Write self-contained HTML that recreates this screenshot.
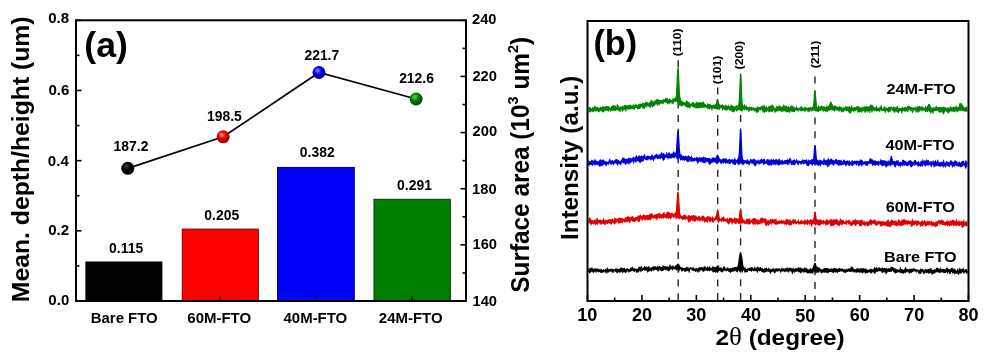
<!DOCTYPE html>
<html><head><meta charset="utf-8"><style>
html,body{margin:0;padding:0;background:#fff;}
body{width:992px;height:358px;overflow:hidden;font-family:"Liberation Sans",sans-serif;}
svg{display:block;filter:blur(0.35px);}
</style></head><body>
<svg width="992" height="358" viewBox="0 0 992 358"><defs><radialGradient id="g0" cx="0.4" cy="0.35" r="0.65"><stop offset="0" stop-color="#444"/><stop offset="0.45" stop-color="#000"/><stop offset="1" stop-color="#000"/></radialGradient><radialGradient id="g1" cx="0.4" cy="0.35" r="0.65"><stop offset="0" stop-color="#ff9090"/><stop offset="0.45" stop-color="#e00000"/><stop offset="1" stop-color="#900"/></radialGradient><radialGradient id="g2" cx="0.4" cy="0.35" r="0.65"><stop offset="0" stop-color="#9090ff"/><stop offset="0.45" stop-color="#0000e0"/><stop offset="1" stop-color="#009"/></radialGradient><radialGradient id="g3" cx="0.4" cy="0.35" r="0.65"><stop offset="0" stop-color="#70d070"/><stop offset="0.45" stop-color="#008000"/><stop offset="1" stop-color="#040"/></radialGradient></defs><rect width="992" height="358" fill="#fff"/><rect x="85.9" y="262.0" width="76.0" height="39.0" fill="#000000" stroke="#000000" stroke-width="1"/>
<rect x="182.3" y="229.1" width="76.0" height="71.9" fill="#ff0000" stroke="#7a0000" stroke-width="1"/>
<rect x="277.5" y="167.4" width="76.8" height="133.6" fill="#0000ff" stroke="#00007a" stroke-width="1"/>
<rect x="374.0" y="199.3" width="76.3" height="101.7" fill="#007f00" stroke="#003f00" stroke-width="1"/>
<line x1="124" y1="301" x2="124" y2="296" stroke="#000" stroke-width="1.6"/>
<line x1="220" y1="301" x2="220" y2="296" stroke="#000" stroke-width="1.6"/>
<line x1="316" y1="301" x2="316" y2="296" stroke="#000" stroke-width="1.6"/>
<line x1="412" y1="301" x2="412" y2="296" stroke="#000" stroke-width="1.6"/>
<line x1="76" y1="301.00" x2="81.5" y2="301.00" stroke="#000" stroke-width="1.6"/>
<line x1="76" y1="265.91" x2="79.5" y2="265.91" stroke="#000" stroke-width="1.6"/>
<line x1="76" y1="230.82" x2="81.5" y2="230.82" stroke="#000" stroke-width="1.6"/>
<line x1="76" y1="195.74" x2="79.5" y2="195.74" stroke="#000" stroke-width="1.6"/>
<line x1="76" y1="160.65" x2="81.5" y2="160.65" stroke="#000" stroke-width="1.6"/>
<line x1="76" y1="125.56" x2="79.5" y2="125.56" stroke="#000" stroke-width="1.6"/>
<line x1="76" y1="90.47" x2="81.5" y2="90.47" stroke="#000" stroke-width="1.6"/>
<line x1="76" y1="55.39" x2="79.5" y2="55.39" stroke="#000" stroke-width="1.6"/>
<line x1="76" y1="20.30" x2="81.5" y2="20.30" stroke="#000" stroke-width="1.6"/>
<line x1="466" y1="301.00" x2="460.5" y2="301.00" stroke="#000" stroke-width="1.6"/>
<line x1="466" y1="272.93" x2="462.5" y2="272.93" stroke="#000" stroke-width="1.6"/>
<line x1="466" y1="244.86" x2="460.5" y2="244.86" stroke="#000" stroke-width="1.6"/>
<line x1="466" y1="216.79" x2="462.5" y2="216.79" stroke="#000" stroke-width="1.6"/>
<line x1="466" y1="188.72" x2="460.5" y2="188.72" stroke="#000" stroke-width="1.6"/>
<line x1="466" y1="160.65" x2="462.5" y2="160.65" stroke="#000" stroke-width="1.6"/>
<line x1="466" y1="132.58" x2="460.5" y2="132.58" stroke="#000" stroke-width="1.6"/>
<line x1="466" y1="104.51" x2="462.5" y2="104.51" stroke="#000" stroke-width="1.6"/>
<line x1="466" y1="76.44" x2="460.5" y2="76.44" stroke="#000" stroke-width="1.6"/>
<line x1="466" y1="48.37" x2="462.5" y2="48.37" stroke="#000" stroke-width="1.6"/>
<line x1="466" y1="20.30" x2="460.5" y2="20.30" stroke="#000" stroke-width="1.6"/>
<rect x="76" y="20.3" width="390" height="280.7" fill="none" stroke="#000" stroke-width="2"/>
<polyline points="127.8,168.3 223.2,136.8 319.0,72.5 416.1,99.0" fill="none" stroke="#000" stroke-width="1.75"/>
<circle cx="127.8" cy="168.3" r="6.5" fill="url(#g0)"/>
<circle cx="223.2" cy="136.8" r="6.5" fill="url(#g1)"/>
<circle cx="319.0" cy="72.5" r="6.5" fill="url(#g2)"/>
<circle cx="416.1" cy="99.0" r="6.5" fill="url(#g3)"/>
<line x1="678.2" y1="60.3" x2="678.2" y2="301" stroke="#262626" stroke-width="1.4" stroke-dasharray="7 6.7"/>
<line x1="717.7" y1="87.6" x2="717.7" y2="301" stroke="#262626" stroke-width="1.4" stroke-dasharray="7 6.7"/>
<line x1="740.6" y1="73.8" x2="740.6" y2="301" stroke="#262626" stroke-width="1.4" stroke-dasharray="7 6.7"/>
<line x1="815.0" y1="76.5" x2="815.0" y2="301" stroke="#262626" stroke-width="1.4" stroke-dasharray="7 6.7"/>
<polygon points="588.5,107.3 588.9,107.3 589.3,106.8 589.7,106.7 590.1,107.1 590.5,107.8 590.9,108.5 591.3,108.3 591.7,108.2 592.1,107.5 592.5,106.4 592.9,106.9 593.3,106.9 593.7,108.0 594.1,106.8 594.5,105.7 594.9,105.3 595.3,106.0 595.7,106.6 596.1,107.2 596.5,107.5 596.9,106.8 597.3,107.0 597.7,106.8 598.1,106.8 598.5,107.7 598.9,107.7 599.3,108.9 599.7,107.8 600.1,107.1 600.5,106.3 600.9,106.4 601.3,107.2 601.7,107.5 602.1,107.0 602.5,106.1 602.9,105.7 603.3,106.5 603.7,106.7 604.1,106.8 604.5,106.5 604.9,106.2 605.3,106.1 605.7,106.5 606.1,106.3 606.5,106.0 606.9,105.4 607.3,106.0 607.7,106.2 608.1,106.2 608.5,105.9 608.9,106.2 609.3,106.5 609.7,107.7 610.1,108.0 610.5,107.8 610.9,107.4 611.3,106.0 611.7,106.1 612.1,105.6 612.5,105.8 612.9,104.9 613.3,104.9 613.7,104.9 614.1,106.0 614.5,105.5 614.9,104.8 615.3,104.6 615.7,106.2 616.1,106.9 616.5,106.0 616.9,103.9 617.3,103.8 617.7,104.6 618.1,105.4 618.5,105.5 618.9,106.6 619.3,107.3 619.7,107.0 620.1,106.5 620.5,107.0 620.9,106.9 621.3,106.9 621.7,106.4 622.1,105.2 622.5,105.7 622.9,106.1 623.3,107.1 623.7,105.6 624.1,104.9 624.5,105.0 624.9,104.8 625.3,105.0 625.7,104.9 626.1,105.1 626.5,105.7 626.9,105.5 627.3,105.8 627.7,105.1 628.1,105.1 628.5,105.1 628.9,105.5 629.3,104.8 629.7,104.5 630.1,104.6 630.5,105.1 630.9,104.8 631.3,104.9 631.7,105.7 632.1,106.0 632.5,105.0 632.9,104.0 633.3,104.1 633.7,104.7 634.1,105.2 634.5,104.6 634.9,105.2 635.3,103.7 635.7,103.8 636.1,103.5 636.5,104.5 636.9,105.4 637.3,105.3 637.7,104.8 638.1,104.4 638.5,104.3 638.9,103.8 639.3,103.8 639.7,103.7 640.1,103.7 640.5,103.7 640.9,103.6 641.3,104.5 641.7,104.3 642.1,103.8 642.5,102.6 642.9,102.2 643.3,103.0 643.7,102.8 644.1,103.2 644.5,103.7 644.9,102.6 645.3,101.7 645.7,100.8 646.1,101.9 646.5,102.6 646.9,102.0 647.3,102.3 647.7,102.1 648.1,102.1 648.5,103.0 648.9,103.1 649.3,103.2 649.7,101.8 650.1,101.2 650.5,101.5 650.9,99.8 651.3,99.6 651.7,100.1 652.1,100.7 652.5,101.1 652.9,100.9 653.3,101.8 653.7,102.7 654.1,101.2 654.5,100.6 654.9,99.4 655.3,100.1 655.7,100.9 656.1,99.5 656.5,99.6 656.9,98.2 657.3,99.7 657.7,98.4 658.1,99.4 658.5,99.3 658.9,100.1 659.3,100.1 659.7,100.0 660.1,100.1 660.5,100.1 660.9,100.2 661.3,100.5 661.7,100.3 662.1,100.7 662.5,99.6 662.9,100.2 663.3,98.4 663.7,99.0 664.1,99.1 664.5,99.2 664.9,99.5 665.3,98.4 665.7,97.4 666.1,97.5 666.5,97.9 666.9,98.1 667.3,97.3 667.7,98.4 668.1,99.0 668.5,100.3 668.9,99.4 669.3,99.0 669.7,97.8 670.1,98.7 670.5,99.5 670.9,99.8 671.3,100.2 671.7,100.0 672.1,100.2 672.5,98.5 672.9,98.4 673.3,98.4 673.7,99.1 674.1,98.4 674.5,98.6 674.9,99.3 675.3,98.8 675.7,98.3 676.1,96.7 676.5,93.6 676.9,87.2 677.3,77.7 677.7,69.7 678.1,67.7 678.5,73.5 678.9,82.9 679.3,90.9 679.7,96.0 680.1,98.3 680.5,97.6 680.9,99.7 681.3,100.1 681.7,100.8 682.1,100.7 682.5,101.3 682.9,101.5 683.3,102.6 683.7,101.9 684.1,102.4 684.5,102.8 684.9,103.1 685.3,102.6 685.7,102.6 686.1,100.9 686.5,101.0 686.9,99.6 687.3,100.9 687.7,101.0 688.1,102.2 688.5,101.8 688.9,102.4 689.3,102.1 689.7,102.6 690.1,103.7 690.5,103.9 690.9,104.1 691.3,103.2 691.7,103.3 692.1,102.4 692.5,101.7 692.9,102.3 693.3,102.1 693.7,102.0 694.1,102.3 694.5,103.5 694.9,103.8 695.3,103.6 695.7,103.0 696.1,102.8 696.5,101.7 696.9,101.3 697.3,102.1 697.7,102.8 698.1,102.8 698.5,102.3 698.9,101.7 699.3,102.1 699.7,102.1 700.1,103.1 700.5,101.9 700.9,102.6 701.3,101.9 701.7,102.0 702.1,102.2 702.5,102.5 702.9,102.1 703.3,101.3 703.7,101.6 704.1,102.6 704.5,103.4 704.9,103.8 705.3,104.2 705.7,104.3 706.1,104.8 706.5,104.9 706.9,104.9 707.3,103.2 707.7,103.1 708.1,103.4 708.5,104.4 708.9,103.7 709.3,104.0 709.7,103.4 710.1,103.9 710.5,104.3 710.9,104.9 711.3,105.1 711.7,105.0 712.1,105.6 712.5,105.6 712.9,105.1 713.3,104.7 713.7,104.4 714.1,104.3 714.5,105.1 714.9,104.7 715.3,104.5 715.7,103.5 716.1,103.6 716.5,102.8 716.9,100.8 717.3,99.5 717.7,99.3 718.1,100.4 718.5,102.6 718.9,104.3 719.3,104.5 719.7,104.0 720.1,103.6 720.5,105.6 720.9,105.6 721.3,105.2 721.7,104.7 722.1,103.6 722.5,104.4 722.9,104.4 723.3,105.5 723.7,105.5 724.1,106.2 724.5,105.8 724.9,104.9 725.3,104.2 725.7,105.2 726.1,105.2 726.5,104.8 726.9,105.7 727.3,106.4 727.7,106.1 728.1,104.5 728.5,104.7 728.9,105.8 729.3,107.0 729.7,107.2 730.1,106.4 730.5,105.8 730.9,104.4 731.3,104.6 731.7,104.5 732.1,105.7 732.5,105.5 732.9,105.5 733.3,105.5 733.7,106.2 734.1,106.6 734.5,106.5 734.9,106.2 735.3,106.3 735.7,106.1 736.1,105.9 736.5,105.1 736.9,105.0 737.3,105.2 737.7,105.7 738.1,105.6 738.5,105.8 738.9,104.1 739.3,100.2 739.7,92.1 740.1,82.0 740.5,75.3 740.9,77.9 741.3,87.0 741.7,96.5 742.1,102.5 742.5,104.6 742.9,104.6 743.3,106.0 743.7,105.4 744.1,104.5 744.5,103.8 744.9,104.9 745.3,106.0 745.7,105.9 746.1,104.6 746.5,105.3 746.9,106.2 747.3,106.7 747.7,107.1 748.1,107.4 748.5,107.2 748.9,106.9 749.3,107.2 749.7,108.1 750.1,108.0 750.5,107.0 750.9,106.6 751.3,106.6 751.7,106.9 752.1,107.5 752.5,107.2 752.9,107.9 753.3,107.1 753.7,108.0 754.1,108.2 754.5,108.4 754.9,107.1 755.3,107.9 755.7,108.0 756.1,108.3 756.5,107.6 756.9,107.5 757.3,106.4 757.7,106.1 758.1,106.4 758.5,107.4 758.9,107.7 759.3,107.3 759.7,107.2 760.1,107.1 760.5,107.1 760.9,106.5 761.3,106.1 761.7,106.3 762.1,105.8 762.5,105.7 762.9,105.5 763.3,105.5 763.7,105.7 764.1,104.4 764.5,104.9 764.9,105.5 765.3,106.9 765.7,107.1 766.1,106.5 766.5,105.6 766.9,106.8 767.3,107.2 767.7,108.4 768.1,107.0 768.5,106.6 768.9,105.1 769.3,105.8 769.7,106.2 770.1,106.0 770.5,105.7 770.9,105.6 771.3,105.6 771.7,104.9 772.1,104.0 772.5,104.6 772.9,105.0 773.3,105.6 773.7,105.9 774.1,107.0 774.5,107.2 774.9,108.2 775.3,108.6 775.7,107.6 776.1,106.8 776.5,105.8 776.9,105.8 777.3,106.0 777.7,106.2 778.1,106.9 778.5,105.9 778.9,105.0 779.3,104.8 779.7,105.7 780.1,106.1 780.5,106.4 780.9,106.0 781.3,106.7 781.7,106.7 782.1,106.9 782.5,106.0 782.9,106.0 783.3,104.6 783.7,104.4 784.1,104.6 784.5,105.4 784.9,106.1 785.3,106.2 785.7,106.1 786.1,105.7 786.5,105.4 786.9,106.3 787.3,106.8 787.7,107.1 788.1,106.4 788.5,106.0 788.9,106.0 789.3,107.1 789.7,107.4 790.1,106.8 790.5,105.7 790.9,105.4 791.3,105.5 791.7,105.6 792.1,105.5 792.5,105.6 792.9,106.3 793.3,106.5 793.7,106.5 794.1,107.6 794.5,107.2 794.9,108.1 795.3,107.2 795.7,107.9 796.1,106.4 796.5,105.9 796.9,105.6 797.3,106.9 797.7,108.4 798.1,108.3 798.5,108.5 798.9,107.7 799.3,108.1 799.7,107.5 800.1,107.0 800.5,107.0 800.9,106.2 801.3,106.6 801.7,106.0 802.1,106.8 802.5,107.3 802.9,108.0 803.3,108.0 803.7,107.4 804.1,107.6 804.5,107.0 804.9,106.6 805.3,106.8 805.7,107.6 806.1,106.9 806.5,107.5 806.9,108.2 807.3,108.6 807.7,107.9 808.1,107.0 808.5,107.8 808.9,107.3 809.3,107.9 809.7,106.9 810.1,106.8 810.5,106.7 810.9,107.5 811.3,107.7 811.7,107.2 812.1,106.8 812.5,106.5 812.9,106.8 813.3,106.0 813.7,103.7 814.1,99.3 814.5,93.6 814.9,90.3 815.3,91.8 815.7,97.1 816.1,102.3 816.5,105.7 816.9,107.1 817.3,107.8 817.7,107.7 818.1,106.1 818.5,104.8 818.9,106.1 819.3,106.4 819.7,107.0 820.1,106.2 820.5,106.6 820.9,105.9 821.3,105.8 821.7,105.2 822.1,105.7 822.5,106.1 822.9,106.9 823.3,106.8 823.7,106.2 824.1,106.1 824.5,105.9 824.9,107.1 825.3,107.5 825.7,107.5 826.1,106.4 826.5,105.8 826.9,105.5 827.3,105.6 827.7,106.2 828.1,106.6 828.5,107.1 828.9,106.5 829.3,105.4 829.7,104.4 830.1,103.3 830.5,102.6 830.9,102.1 831.3,102.3 831.7,103.0 832.1,104.3 832.5,105.3 832.9,106.1 833.3,106.6 833.7,107.1 834.1,105.9 834.5,105.6 834.9,105.1 835.3,105.4 835.7,105.5 836.1,105.9 836.5,106.1 836.9,106.7 837.3,106.7 837.7,107.2 838.1,107.2 838.5,106.9 838.9,105.9 839.3,105.7 839.7,106.2 840.1,106.6 840.5,106.5 840.9,106.8 841.3,106.8 841.7,107.2 842.1,108.0 842.5,107.9 842.9,107.8 843.3,106.8 843.7,107.7 844.1,107.5 844.5,108.0 844.9,106.6 845.3,106.6 845.7,106.2 846.1,105.8 846.5,106.5 846.9,106.9 847.3,106.9 847.7,106.6 848.1,106.3 848.5,107.3 848.9,107.0 849.3,106.3 849.7,106.0 850.1,106.7 850.5,107.4 850.9,106.7 851.3,105.3 851.7,104.9 852.1,105.7 852.5,107.2 852.9,107.8 853.3,107.7 853.7,108.1 854.1,107.7 854.5,107.3 854.9,106.5 855.3,107.3 855.7,107.2 856.1,106.4 856.5,106.1 856.9,106.6 857.3,106.5 857.7,106.1 858.1,105.6 858.5,106.6 858.9,106.7 859.3,107.1 859.7,106.6 860.1,107.3 860.5,108.0 860.9,108.0 861.3,107.6 861.7,106.5 862.1,106.4 862.5,106.4 862.9,107.5 863.3,107.3 863.7,107.0 864.1,106.6 864.5,106.1 864.9,106.5 865.3,106.1 865.7,107.0 866.1,106.7 866.5,105.8 866.9,105.7 867.3,106.1 867.7,106.7 868.1,107.1 868.5,106.8 868.9,106.7 869.3,106.5 869.7,106.0 870.1,105.7 870.5,105.5 870.9,105.4 871.3,105.4 871.7,105.6 872.1,105.6 872.5,106.1 872.9,106.5 873.3,107.0 873.7,107.3 874.1,107.5 874.5,107.9 874.9,106.8 875.3,107.7 875.7,107.1 876.1,105.6 876.5,105.6 876.9,106.5 877.3,107.7 877.7,108.2 878.1,108.0 878.5,107.9 878.9,107.3 879.3,107.2 879.7,107.7 880.1,106.5 880.5,106.7 880.9,104.3 881.3,105.3 881.7,105.3 882.1,107.5 882.5,108.5 882.9,108.8 883.3,107.9 883.7,106.5 884.1,106.1 884.5,106.2 884.9,106.8 885.3,107.2 885.7,107.6 886.1,107.3 886.5,107.8 886.9,108.0 887.3,107.9 887.7,107.7 888.1,107.3 888.5,106.6 888.9,106.8 889.3,107.0 889.7,107.1 890.1,106.8 890.5,106.7 890.9,106.3 891.3,106.6 891.7,106.8 892.1,108.0 892.5,107.4 892.9,107.4 893.3,106.1 893.7,106.6 894.1,106.6 894.5,107.2 894.9,107.0 895.3,106.9 895.7,107.3 896.1,106.9 896.5,107.0 896.9,105.7 897.3,105.7 897.7,106.3 898.1,108.0 898.5,107.9 898.9,107.7 899.3,107.8 899.7,107.7 900.1,108.1 900.5,107.8 900.9,108.1 901.3,108.5 901.7,107.3 902.1,107.2 902.5,106.8 902.9,106.8 903.3,107.4 903.7,108.6 904.1,108.1 904.5,107.3 904.9,106.3 905.3,106.0 905.7,107.0 906.1,107.0 906.5,107.4 906.9,107.1 907.3,106.1 907.7,106.7 908.1,105.7 908.5,105.8 908.9,105.1 909.3,105.7 909.7,106.6 910.1,106.8 910.5,106.7 910.9,106.5 911.3,107.5 911.7,107.8 912.1,107.4 912.5,107.5 912.9,107.7 913.3,106.9 913.7,107.8 914.1,108.6 914.5,108.1 914.9,107.0 915.3,105.9 915.7,107.3 916.1,107.7 916.5,107.3 916.9,106.3 917.3,106.0 917.7,107.0 918.1,107.0 918.5,106.6 918.9,106.1 919.3,105.7 919.7,106.0 920.1,106.0 920.5,107.1 920.9,107.0 921.3,106.6 921.7,106.2 922.1,106.4 922.5,106.5 922.9,106.7 923.3,106.9 923.7,107.7 924.1,108.6 924.5,108.0 924.9,107.1 925.3,105.2 925.7,106.5 926.1,106.4 926.5,107.6 926.9,106.9 927.3,106.6 927.7,106.0 928.1,105.1 928.5,104.6 928.9,104.4 929.3,104.3 929.7,104.7 930.1,105.3 930.5,106.3 930.9,107.2 931.3,107.7 931.7,108.0 932.1,108.0 932.5,108.2 932.9,107.3 933.3,107.7 933.7,106.7 934.1,106.9 934.5,107.4 934.9,107.8 935.3,107.6 935.7,106.1 936.1,105.4 936.5,105.7 936.9,106.5 937.3,107.0 937.7,107.3 938.1,107.0 938.5,107.3 938.9,106.9 939.3,106.7 939.7,106.9 940.1,107.2 940.5,107.5 940.9,106.6 941.3,106.7 941.7,107.2 942.1,107.5 942.5,107.1 942.9,106.8 943.3,106.6 943.7,106.7 944.1,106.7 944.5,106.7 944.9,107.1 945.3,107.1 945.7,108.0 946.1,107.9 946.5,107.9 946.9,106.8 947.3,108.1 947.7,107.6 948.1,108.5 948.5,107.1 948.9,107.7 949.3,108.2 949.7,107.3 950.1,106.6 950.5,105.7 950.9,106.8 951.3,106.6 951.7,107.6 952.1,107.7 952.5,107.2 952.9,106.6 953.3,105.9 953.7,107.2 954.1,106.3 954.5,107.2 954.9,107.0 955.3,107.3 955.7,106.5 956.1,105.0 956.5,105.6 956.9,106.7 957.3,107.1 957.7,106.9 958.1,106.9 958.5,107.2 958.9,106.2 959.3,105.5 959.7,105.1 960.1,104.5 960.5,103.9 960.9,103.7 961.3,103.8 961.7,104.2 962.1,105.0 962.5,105.8 962.9,106.5 963.3,106.2 963.7,107.3 964.1,107.2 964.5,107.7 964.9,107.0 965.3,107.4 965.7,106.6 966.1,107.3 966.5,106.8 966.9,106.2 967.3,106.6 967.3,112.2 966.9,112.4 966.5,111.2 966.1,111.7 965.7,111.2 965.3,112.2 964.9,111.4 964.5,111.7 964.1,111.1 963.7,111.2 963.3,111.3 962.9,111.6 962.5,111.1 962.1,111.1 961.7,110.4 961.3,110.4 960.9,110.4 960.5,110.9 960.1,111.2 959.7,110.3 959.3,110.5 958.9,111.3 958.5,111.4 958.1,111.2 957.7,111.7 957.3,112.4 956.9,112.4 956.5,111.3 956.1,110.7 955.7,111.2 955.3,111.9 954.9,112.4 954.5,111.8 954.1,111.7 953.7,111.7 953.3,112.3 952.9,111.4 952.5,111.5 952.1,111.4 951.7,111.9 951.3,111.2 950.9,111.3 950.5,111.1 950.1,111.8 949.7,112.1 949.3,112.5 948.9,112.4 948.5,113.3 948.1,114.0 947.7,113.2 947.3,112.5 946.9,111.5 946.5,112.5 946.1,111.6 945.7,111.3 945.3,111.0 944.9,111.7 944.5,112.9 944.1,113.8 943.7,114.6 943.3,114.5 942.9,113.4 942.5,113.1 942.1,112.3 941.7,112.5 941.3,112.2 940.9,112.0 940.5,112.8 940.1,112.9 939.7,112.3 939.3,112.6 938.9,112.6 938.5,112.0 938.1,111.3 937.7,110.6 937.3,111.1 936.9,111.1 936.5,111.0 936.1,110.4 935.7,110.9 935.3,111.3 934.9,111.6 934.5,110.9 934.1,111.1 933.7,112.2 933.3,113.9 932.9,114.0 932.5,113.7 932.1,112.1 931.7,112.1 931.3,113.1 930.9,114.0 930.5,113.3 930.1,112.9 929.7,112.3 929.3,111.9 928.9,110.9 928.5,111.2 928.1,111.6 927.7,111.9 927.3,112.2 926.9,111.5 926.5,111.8 926.1,111.8 925.7,112.3 925.3,112.4 924.9,111.8 924.5,110.9 924.1,110.3 923.7,110.3 923.3,109.9 922.9,110.5 922.5,110.8 922.1,112.2 921.7,111.2 921.3,110.2 920.9,109.3 920.5,110.5 920.1,111.3 919.7,112.0 919.3,111.3 918.9,112.3 918.5,112.6 918.1,113.1 917.7,112.4 917.3,111.6 916.9,111.3 916.5,112.6 916.1,112.7 915.7,112.7 915.3,110.9 914.9,110.8 914.5,110.0 914.1,109.8 913.7,110.7 913.3,111.4 912.9,113.0 912.5,113.2 912.1,112.7 911.7,111.8 911.3,110.6 910.9,110.8 910.5,111.6 910.1,110.7 909.7,110.2 909.3,108.9 908.9,110.1 908.5,110.6 908.1,112.2 907.7,112.2 907.3,112.1 906.9,111.8 906.5,110.8 906.1,111.1 905.7,110.9 905.3,112.4 904.9,111.4 904.5,111.9 904.1,111.0 903.7,111.3 903.3,110.7 902.9,111.1 902.5,112.1 902.1,113.8 901.7,113.6 901.3,113.2 900.9,111.3 900.5,110.8 900.1,111.0 899.7,111.3 899.3,112.3 898.9,113.1 898.5,112.9 898.1,113.1 897.7,112.6 897.3,112.5 896.9,112.3 896.5,111.6 896.1,111.8 895.7,111.1 895.3,112.4 894.9,112.4 894.5,113.0 894.1,112.4 893.7,112.3 893.3,111.2 892.9,110.8 892.5,110.9 892.1,111.0 891.7,110.5 891.3,109.5 890.9,109.9 890.5,111.5 890.1,112.6 889.7,112.1 889.3,111.8 888.9,112.0 888.5,112.6 888.1,112.8 887.7,111.8 887.3,111.4 886.9,110.8 886.5,111.1 886.1,111.7 885.7,113.0 885.3,113.3 884.9,112.7 884.5,111.1 884.1,110.7 883.7,110.9 883.3,110.8 882.9,110.5 882.5,109.8 882.1,111.0 881.7,111.2 881.3,111.6 880.9,110.2 880.5,110.5 880.1,110.7 879.7,112.5 879.3,111.5 878.9,111.7 878.5,111.0 878.1,111.3 877.7,111.1 877.3,111.3 876.9,111.7 876.5,111.9 876.1,110.7 875.7,110.6 875.3,110.9 874.9,111.0 874.5,112.3 874.1,110.8 873.7,110.8 873.3,110.1 872.9,110.8 872.5,112.1 872.1,112.9 871.7,113.0 871.3,111.2 870.9,110.5 870.5,111.3 870.1,113.3 869.7,113.3 869.3,112.4 868.9,110.7 868.5,111.7 868.1,112.7 867.7,112.3 867.3,111.3 866.9,110.6 866.5,111.8 866.1,111.9 865.7,112.7 865.3,112.7 864.9,113.4 864.5,111.7 864.1,111.6 863.7,110.7 863.3,111.2 862.9,110.6 862.5,111.8 862.1,112.3 861.7,113.5 861.3,112.4 860.9,112.1 860.5,111.4 860.1,111.8 859.7,112.6 859.3,112.4 858.9,112.2 858.5,112.7 858.1,112.6 857.7,113.0 857.3,110.8 856.9,110.3 856.5,109.6 856.1,110.7 855.7,111.2 855.3,110.7 854.9,110.5 854.5,110.7 854.1,112.4 853.7,112.3 853.3,111.8 852.9,110.7 852.5,111.1 852.1,111.2 851.7,111.5 851.3,112.2 850.9,113.0 850.5,114.1 850.1,114.3 849.7,113.2 849.3,113.2 848.9,112.3 848.5,112.5 848.1,111.5 847.7,111.0 847.3,111.0 846.9,111.1 846.5,111.3 846.1,111.8 845.7,111.2 845.3,110.3 844.9,109.6 844.5,111.0 844.1,111.8 843.7,112.5 843.3,111.5 842.9,112.0 842.5,111.5 842.1,112.5 841.7,112.3 841.3,112.7 840.9,111.5 840.5,110.4 840.1,110.3 839.7,111.0 839.3,112.0 838.9,111.3 838.5,111.6 838.1,110.5 837.7,109.9 837.3,110.4 836.9,110.5 836.5,111.1 836.1,109.6 835.7,110.1 835.3,110.4 834.9,111.7 834.5,111.4 834.1,111.1 833.7,110.6 833.3,110.6 832.9,110.3 832.5,110.8 832.1,110.5 831.7,110.3 831.3,109.9 830.9,110.0 830.5,109.9 830.1,110.8 829.7,110.7 829.3,110.5 828.9,109.9 828.5,111.1 828.1,111.5 827.7,112.4 827.3,111.8 826.9,112.2 826.5,111.3 826.1,111.5 825.7,111.5 825.3,112.8 824.9,111.6 824.5,110.9 824.1,110.8 823.7,111.2 823.3,112.2 822.9,111.4 822.5,110.9 822.1,109.8 821.7,110.0 821.3,109.3 820.9,110.1 820.5,109.9 820.1,110.6 819.7,110.9 819.3,111.1 818.9,112.0 818.5,111.9 818.1,111.5 817.7,111.8 817.3,112.0 816.9,112.4 816.5,110.9 816.1,111.0 815.7,110.8 815.3,112.3 814.9,111.1 814.5,110.5 814.1,109.6 813.7,110.1 813.3,110.9 812.9,111.1 812.5,110.7 812.1,112.1 811.7,111.7 811.3,111.0 810.9,109.5 810.5,110.4 810.1,112.2 809.7,112.2 809.3,111.7 808.9,110.9 808.5,111.7 808.1,112.4 807.7,112.0 807.3,110.9 806.9,110.0 806.5,110.3 806.1,110.5 805.7,111.1 805.3,112.0 804.9,112.4 804.5,111.4 804.1,110.6 803.7,110.2 803.3,111.3 802.9,110.9 802.5,111.2 802.1,111.0 801.7,111.4 801.3,111.2 800.9,111.5 800.5,110.9 800.1,111.1 799.7,110.3 799.3,110.7 798.9,109.5 798.5,111.3 798.1,111.7 797.7,111.7 797.3,111.2 796.9,110.2 796.5,110.5 796.1,109.8 795.7,109.9 795.3,111.3 794.9,112.1 794.5,112.2 794.1,112.0 793.7,111.7 793.3,112.0 792.9,112.3 792.5,112.0 792.1,112.3 791.7,112.0 791.3,111.6 790.9,111.1 790.5,110.9 790.1,112.6 789.7,112.9 789.3,112.7 788.9,112.0 788.5,112.6 788.1,112.2 787.7,112.2 787.3,111.8 786.9,113.0 786.5,112.0 786.1,112.6 785.7,111.5 785.3,111.8 784.9,111.2 784.5,110.9 784.1,111.4 783.7,110.8 783.3,111.9 782.9,111.4 782.5,111.3 782.1,112.0 781.7,112.3 781.3,112.2 780.9,111.5 780.5,111.2 780.1,110.9 779.7,110.8 779.3,110.5 778.9,111.0 778.5,111.0 778.1,111.4 777.7,111.4 777.3,111.3 776.9,110.8 776.5,111.2 776.1,112.0 775.7,112.3 775.3,113.1 774.9,112.6 774.5,112.8 774.1,111.0 773.7,110.1 773.3,110.4 772.9,111.6 772.5,112.6 772.1,112.5 771.7,111.7 771.3,111.8 770.9,111.8 770.5,111.8 770.1,111.4 769.7,112.2 769.3,112.7 768.9,112.6 768.5,111.6 768.1,111.8 767.7,110.9 767.3,111.3 766.9,111.4 766.5,112.3 766.1,112.1 765.7,111.9 765.3,111.4 764.9,112.4 764.5,113.2 764.1,113.7 763.7,112.3 763.3,111.9 762.9,111.4 762.5,112.6 762.1,110.7 761.7,110.0 761.3,109.7 760.9,110.6 760.5,110.6 760.1,110.3 759.7,109.5 759.3,110.6 758.9,111.6 758.5,112.0 758.1,112.3 757.7,112.5 757.3,113.1 756.9,112.7 756.5,112.9 756.1,112.4 755.7,111.0 755.3,109.8 754.9,109.7 754.5,111.8 754.1,112.3 753.7,111.2 753.3,110.0 752.9,109.6 752.5,110.1 752.1,111.1 751.7,110.9 751.3,111.1 750.9,110.5 750.5,110.1 750.1,110.2 749.7,111.0 749.3,111.8 748.9,112.4 748.5,111.8 748.1,110.9 747.7,109.9 747.3,109.6 746.9,110.4 746.5,110.0 746.1,110.5 745.7,109.1 745.3,109.6 744.9,109.7 744.5,110.6 744.1,110.3 743.7,109.4 743.3,109.5 742.9,110.2 742.5,111.4 742.1,111.0 741.7,111.2 741.3,111.3 740.9,111.8 740.5,110.7 740.1,109.9 739.7,109.9 739.3,110.8 738.9,110.4 738.5,110.7 738.1,109.6 737.7,110.7 737.3,110.7 736.9,111.6 736.5,111.7 736.1,111.1 735.7,110.3 735.3,110.1 734.9,111.5 734.5,111.8 734.1,112.2 733.7,112.1 733.3,112.7 732.9,112.1 732.5,112.1 732.1,111.6 731.7,111.7 731.3,110.8 730.9,110.1 730.5,110.6 730.1,110.5 729.7,111.0 729.3,110.5 728.9,109.4 728.5,108.9 728.1,109.2 727.7,110.2 727.3,110.4 726.9,110.3 726.5,110.6 726.1,111.0 725.7,110.2 725.3,109.8 724.9,109.8 724.5,110.6 724.1,109.9 723.7,108.9 723.3,109.7 722.9,110.3 722.5,111.0 722.1,109.8 721.7,108.5 721.3,108.0 720.9,108.3 720.5,108.0 720.1,108.7 719.7,109.3 719.3,111.0 718.9,109.8 718.5,109.4 718.1,108.8 717.7,109.8 717.3,110.1 716.9,109.4 716.5,109.2 716.1,109.0 715.7,109.0 715.3,109.3 714.9,109.1 714.5,108.9 714.1,108.4 713.7,107.8 713.3,107.8 712.9,108.6 712.5,110.1 712.1,110.8 711.7,110.8 711.3,109.2 710.9,108.5 710.5,108.1 710.1,108.5 709.7,109.8 709.3,109.3 708.9,110.1 708.5,108.4 708.1,108.9 707.7,108.5 707.3,109.2 706.9,107.9 706.5,107.8 706.1,108.1 705.7,107.5 705.3,107.2 704.9,106.8 704.5,108.4 704.1,107.9 703.7,107.9 703.3,107.5 702.9,107.9 702.5,107.9 702.1,107.6 701.7,108.1 701.3,107.8 700.9,108.8 700.5,107.3 700.1,108.0 699.7,108.1 699.3,108.2 698.9,108.4 698.5,108.0 698.1,108.7 697.7,108.5 697.3,108.1 696.9,108.5 696.5,108.1 696.1,108.4 695.7,107.6 695.3,108.5 694.9,108.3 694.5,107.6 694.1,107.2 693.7,107.1 693.3,107.8 692.9,107.5 692.5,107.1 692.1,106.2 691.7,105.8 691.3,105.2 690.9,106.9 690.5,107.5 690.1,108.5 689.7,108.0 689.3,107.9 688.9,107.1 688.5,108.0 688.1,107.9 687.7,109.1 687.3,107.1 686.9,107.2 686.5,107.0 686.1,107.1 685.7,106.8 685.3,106.5 684.9,106.5 684.5,106.0 684.1,104.4 683.7,104.9 683.3,105.4 682.9,105.8 682.5,106.4 682.1,105.9 681.7,106.1 681.3,106.7 680.9,106.8 680.5,105.7 680.1,105.2 679.7,105.4 679.3,105.9 678.9,105.7 678.5,104.4 678.1,103.1 677.7,103.2 677.3,102.6 676.9,102.4 676.5,101.6 676.1,102.1 675.7,102.2 675.3,101.3 674.9,100.6 674.5,100.9 674.1,101.6 673.7,103.5 673.3,104.2 672.9,104.4 672.5,104.0 672.1,103.5 671.7,103.9 671.3,102.3 670.9,102.6 670.5,102.8 670.1,103.9 669.7,103.9 669.3,103.5 668.9,103.5 668.5,103.8 668.1,104.5 667.7,104.7 667.3,103.8 666.9,103.1 666.5,103.0 666.1,103.0 665.7,102.3 665.3,102.6 664.9,102.2 664.5,102.1 664.1,103.1 663.7,103.4 663.3,103.9 662.9,103.5 662.5,104.1 662.1,104.1 661.7,103.7 661.3,103.5 660.9,103.1 660.5,103.8 660.1,103.8 659.7,105.4 659.3,104.5 658.9,104.7 658.5,103.9 658.1,105.9 657.7,106.0 657.3,105.6 656.9,104.5 656.5,104.4 656.1,104.6 655.7,104.4 655.3,104.9 654.9,105.5 654.5,106.4 654.1,106.0 653.7,106.1 653.3,106.7 652.9,106.8 652.5,107.8 652.1,107.2 651.7,106.7 651.3,106.1 650.9,106.5 650.5,108.3 650.1,108.1 649.7,107.5 649.3,107.3 648.9,106.8 648.5,106.7 648.1,105.8 647.7,105.8 647.3,106.3 646.9,107.0 646.5,107.9 646.1,107.6 645.7,106.6 645.3,107.1 644.9,107.9 644.5,109.2 644.1,108.7 643.7,108.2 643.3,108.7 642.9,109.0 642.5,108.8 642.1,107.6 641.7,106.7 641.3,106.8 640.9,107.9 640.5,108.3 640.1,109.1 639.7,108.9 639.3,108.9 638.9,109.2 638.5,109.1 638.1,109.2 637.7,109.0 637.3,109.4 636.9,109.3 636.5,107.9 636.1,107.5 635.7,107.2 635.3,108.4 634.9,109.1 634.5,109.7 634.1,109.8 633.7,109.5 633.3,108.7 632.9,107.7 632.5,107.3 632.1,107.6 631.7,108.6 631.3,109.3 630.9,109.5 630.5,109.5 630.1,109.2 629.7,109.7 629.3,109.1 628.9,109.4 628.5,109.5 628.1,109.7 627.7,110.0 627.3,109.0 626.9,109.3 626.5,110.1 626.1,111.9 625.7,111.8 625.3,110.2 624.9,108.6 624.5,109.8 624.1,110.3 623.7,110.5 623.3,110.3 622.9,111.1 622.5,111.9 622.1,111.9 621.7,110.6 621.3,109.4 620.9,110.0 620.5,111.9 620.1,112.5 619.7,112.1 619.3,111.3 618.9,110.8 618.5,110.7 618.1,111.0 617.7,111.3 617.3,109.5 616.9,109.2 616.5,109.5 616.1,110.3 615.7,111.1 615.3,110.8 614.9,110.7 614.5,110.8 614.1,111.5 613.7,110.5 613.3,110.7 612.9,109.9 612.5,111.2 612.1,111.2 611.7,110.2 611.3,111.4 610.9,111.8 610.5,112.2 610.1,110.8 609.7,109.0 609.3,110.9 608.9,111.0 608.5,112.4 608.1,111.3 607.7,110.9 607.3,110.9 606.9,110.8 606.5,110.3 606.1,110.3 605.7,110.3 605.3,111.0 604.9,111.2 604.5,111.0 604.1,111.4 603.7,112.2 603.3,112.5 602.9,112.6 602.5,112.2 602.1,111.8 601.7,111.8 601.3,111.5 600.9,110.8 600.5,110.9 600.1,111.2 599.7,111.8 599.3,111.7 598.9,112.2 598.5,112.7 598.1,111.9 597.7,111.5 597.3,110.9 596.9,111.7 596.5,111.0 596.1,111.5 595.7,110.8 595.3,111.3 594.9,111.1 594.5,110.8 594.1,111.4 593.7,111.6 593.3,111.9 592.9,112.1 592.5,112.6 592.1,111.6 591.7,111.6 591.3,111.3 590.9,112.4 590.5,112.4 590.1,111.6 589.7,112.2 589.3,112.4 588.9,112.4 588.5,112.0" fill="#048404"/>
<polyline points="588.5,110.2 588.9,109.5 589.3,110.1 589.7,110.1 590.1,109.4 590.5,108.2 590.9,109.7 591.3,110.0 591.7,109.9 592.1,109.0 592.5,110.1 592.9,109.6 593.3,109.1 593.7,109.0 594.1,109.7 594.5,108.9 594.9,109.3 595.3,111.0 595.7,110.3 596.1,110.3 596.5,110.3 596.9,109.6 597.3,108.3 597.7,109.8 598.1,109.9 598.5,109.6 598.9,108.2 599.3,110.3 599.7,110.4 600.1,109.3 600.5,109.6 600.9,109.9 601.3,109.5 601.7,110.2 602.1,109.2 602.5,109.5 602.9,109.1 603.3,108.1 603.7,108.6 604.1,110.7 604.5,109.1 604.9,109.8 605.3,109.6 605.7,110.0 606.1,109.3 606.5,108.6 606.9,109.0 607.3,107.9 607.7,108.7 608.1,109.3 608.5,107.6 608.9,109.1 609.3,109.4 609.7,109.6 610.1,108.4 610.5,108.5 610.9,107.8 611.3,108.2 611.7,109.1 612.1,109.8 612.5,107.8 612.9,109.2 613.3,108.9 613.7,108.3 614.1,109.8 614.5,107.0 614.9,108.3 615.3,108.7 615.7,109.7 616.1,109.3 616.5,109.7 616.9,108.2 617.3,108.7 617.7,109.2 618.1,108.8 618.5,108.6 618.9,108.5 619.3,108.3 619.7,108.0 620.1,109.6 620.5,108.1 620.9,106.8 621.3,108.1 621.7,107.9 622.1,108.0 622.5,109.0 622.9,108.1 623.3,108.0 623.7,107.8 624.1,108.3 624.5,108.0 624.9,108.1 625.3,109.8 625.7,108.0 626.1,107.2 626.5,108.6 626.9,107.9 627.3,107.7 627.7,107.6 628.1,107.5 628.5,107.4 628.9,107.8 629.3,107.5 629.7,107.6 630.1,106.7 630.5,107.1 630.9,106.7 631.3,107.8 631.7,107.8 632.1,107.2 632.5,107.9 632.9,108.9 633.3,108.0 633.7,106.7 634.1,107.1 634.5,107.3 634.9,106.8 635.3,106.8 635.7,107.2 636.1,106.8 636.5,105.7 636.9,106.9 637.3,106.5 637.7,106.6 638.1,106.1 638.5,105.5 638.9,105.2 639.3,105.6 639.7,105.1 640.1,104.1 640.5,106.1 640.9,104.6 641.3,104.8 641.7,105.6 642.1,103.8 642.5,106.0 642.9,104.5 643.3,105.5 643.7,104.7 644.1,105.2 644.5,105.2 644.9,105.1 645.3,104.0 645.7,104.0 646.1,104.5 646.5,105.3 646.9,103.9 647.3,104.7 647.7,104.4 648.1,104.6 648.5,104.9 648.9,103.5 649.3,104.6 649.7,104.3 650.1,103.9 650.5,103.6 650.9,103.2 651.3,103.0 651.7,102.9 652.1,104.9 652.5,104.6 652.9,103.4 653.3,103.7 653.7,102.9 654.1,101.6 654.5,102.2 654.9,103.0 655.3,103.4 655.7,102.6 656.1,101.8 656.5,102.1 656.9,101.5 657.3,101.1 657.7,101.8 658.1,101.8 658.5,101.3 658.9,101.4 659.3,101.3 659.7,102.1 660.1,102.7 660.5,101.9 660.9,103.1 661.3,100.6 661.7,101.6 662.1,100.7 662.5,101.2 662.9,101.3 663.3,101.3 663.7,101.6 664.1,100.8 664.5,100.2 664.9,101.0 665.3,101.2 665.7,100.5 666.1,101.5 666.5,102.1 666.9,100.3 667.3,101.5 667.7,101.8 668.1,99.9 668.5,101.1 668.9,100.9 669.3,100.1 669.7,101.8 670.1,101.2 670.5,100.8 670.9,101.4 671.3,101.6 671.7,101.7 672.1,101.5 672.5,101.3 672.9,100.0 673.3,100.3 673.7,100.6 674.1,98.5 674.5,101.3 674.9,99.6 675.3,98.8 675.7,97.8 676.1,97.4 676.5,94.2 676.9,87.5 677.3,78.0 677.7,69.7 678.1,67.9 678.5,74.0 678.9,83.1 679.3,91.9 679.7,96.6 680.1,99.7 680.5,100.8 680.9,102.3 681.3,102.2 681.7,102.2 682.1,102.5 682.5,102.5 682.9,102.8 683.3,103.8 683.7,103.4 684.1,103.1 684.5,102.9 684.9,102.8 685.3,103.8 685.7,104.4 686.1,104.2 686.5,103.4 686.9,104.1 687.3,104.3 687.7,103.7 688.1,104.8 688.5,104.7 688.9,104.3 689.3,104.1 689.7,105.5 690.1,105.5 690.5,104.7 690.9,104.7 691.3,105.3 691.7,105.3 692.1,104.8 692.5,106.0 692.9,104.8 693.3,104.4 693.7,105.5 694.1,105.1 694.5,105.4 694.9,105.3 695.3,104.5 695.7,104.1 696.1,105.2 696.5,106.1 696.9,104.7 697.3,105.9 697.7,105.4 698.1,104.7 698.5,106.0 698.9,106.0 699.3,105.2 699.7,104.6 700.1,106.1 700.5,105.1 700.9,106.1 701.3,104.4 701.7,105.4 702.1,105.0 702.5,104.7 702.9,105.2 703.3,105.4 703.7,105.0 704.1,104.7 704.5,105.6 704.9,104.6 705.3,105.8 705.7,106.1 706.1,107.0 706.5,106.7 706.9,106.2 707.3,106.1 707.7,105.8 708.1,104.9 708.5,106.6 708.9,106.1 709.3,105.6 709.7,105.2 710.1,106.8 710.5,106.3 710.9,105.5 711.3,106.7 711.7,107.6 712.1,106.6 712.5,106.9 712.9,106.4 713.3,106.3 713.7,107.3 714.1,108.6 714.5,106.7 714.9,106.2 715.3,106.5 715.7,105.4 716.1,105.3 716.5,103.9 716.9,100.8 717.3,99.5 717.7,99.9 718.1,101.5 718.5,103.3 718.9,105.6 719.3,105.2 719.7,106.6 720.1,105.9 720.5,106.3 720.9,106.6 721.3,105.7 721.7,106.3 722.1,105.9 722.5,106.9 722.9,106.4 723.3,107.2 723.7,107.4 724.1,106.9 724.5,107.9 724.9,107.0 725.3,107.9 725.7,107.7 726.1,106.9 726.5,107.6 726.9,107.1 727.3,107.4 727.7,107.3 728.1,108.6 728.5,107.2 728.9,108.3 729.3,107.8 729.7,107.0 730.1,106.4 730.5,108.4 730.9,106.9 731.3,108.6 731.7,108.8 732.1,108.3 732.5,107.8 732.9,107.7 733.3,108.0 733.7,107.8 734.1,107.7 734.5,107.8 734.9,108.7 735.3,107.6 735.7,108.1 736.1,107.1 736.5,107.2 736.9,106.6 737.3,107.0 737.7,107.4 738.1,106.7 738.5,106.1 738.9,105.1 739.3,100.6 739.7,92.9 740.1,82.7 740.5,76.2 740.9,77.1 741.3,86.8 741.7,97.6 742.1,103.0 742.5,107.1 742.9,106.6 743.3,106.9 743.7,108.3 744.1,107.9 744.5,109.0 744.9,108.1 745.3,107.7 745.7,108.4 746.1,107.5 746.5,108.0 746.9,107.9 747.3,108.2 747.7,108.7 748.1,108.1 748.5,108.6 748.9,108.2 749.3,108.9 749.7,107.1 750.1,108.4 750.5,108.9 750.9,108.4 751.3,109.7 751.7,109.1 752.1,109.8 752.5,109.4 752.9,109.3 753.3,108.7 753.7,108.1 754.1,108.7 754.5,108.8 754.9,109.1 755.3,108.8 755.7,110.9 756.1,108.2 756.5,109.9 756.9,108.7 757.3,108.7 757.7,109.5 758.1,109.0 758.5,108.2 758.9,109.2 759.3,108.6 759.7,107.5 760.1,108.9 760.5,108.1 760.9,108.0 761.3,108.8 761.7,108.6 762.1,108.3 762.5,109.8 762.9,108.9 763.3,108.5 763.7,109.1 764.1,108.7 764.5,107.6 764.9,108.0 765.3,108.2 765.7,110.1 766.1,108.6 766.5,108.7 766.9,108.8 767.3,109.7 767.7,109.1 768.1,110.0 768.5,109.4 768.9,109.9 769.3,108.7 769.7,108.8 770.1,108.2 770.5,108.5 770.9,107.6 771.3,108.2 771.7,108.2 772.1,108.3 772.5,109.4 772.9,109.1 773.3,109.7 773.7,109.3 774.1,109.4 774.5,109.4 774.9,108.8 775.3,109.8 775.7,109.2 776.1,109.2 776.5,110.3 776.9,110.8 777.3,108.9 777.7,110.2 778.1,109.5 778.5,108.3 778.9,108.7 779.3,108.8 779.7,109.0 780.1,108.6 780.5,108.3 780.9,109.0 781.3,109.7 781.7,109.4 782.1,109.2 782.5,109.3 782.9,108.3 783.3,108.7 783.7,108.9 784.1,109.3 784.5,109.1 784.9,109.4 785.3,109.2 785.7,110.2 786.1,107.6 786.5,108.8 786.9,110.1 787.3,108.9 787.7,107.9 788.1,109.0 788.5,108.1 788.9,108.5 789.3,109.4 789.7,110.3 790.1,109.3 790.5,109.3 790.9,109.6 791.3,109.2 791.7,108.6 792.1,108.8 792.5,109.0 792.9,108.8 793.3,108.4 793.7,108.6 794.1,108.0 794.5,108.2 794.9,108.9 795.3,108.9 795.7,109.2 796.1,110.2 796.5,109.5 796.9,109.3 797.3,108.5 797.7,108.6 798.1,109.3 798.5,108.6 798.9,109.2 799.3,108.3 799.7,108.9 800.1,108.7 800.5,109.5 800.9,108.6 801.3,108.5 801.7,109.0 802.1,109.0 802.5,110.0 802.9,109.1 803.3,109.0 803.7,109.1 804.1,109.6 804.5,109.3 804.9,109.6 805.3,108.3 805.7,110.5 806.1,110.0 806.5,109.0 806.9,108.5 807.3,109.3 807.7,109.5 808.1,108.1 808.5,109.4 808.9,108.5 809.3,109.7 809.7,110.1 810.1,109.8 810.5,108.2 810.9,109.7 811.3,109.2 811.7,108.6 812.1,108.8 812.5,108.9 812.9,107.4 813.3,106.6 813.7,103.9 814.1,100.5 814.5,92.9 814.9,91.7 815.3,91.8 815.7,98.2 816.1,102.0 816.5,105.9 816.9,107.7 817.3,109.1 817.7,107.5 818.1,109.0 818.5,108.5 818.9,109.8 819.3,108.8 819.7,109.1 820.1,108.6 820.5,110.1 820.9,108.7 821.3,108.6 821.7,109.8 822.1,108.7 822.5,109.3 822.9,108.4 823.3,108.9 823.7,107.4 824.1,108.8 824.5,108.3 824.9,107.8 825.3,107.9 825.7,109.2 826.1,108.6 826.5,107.6 826.9,109.6 827.3,108.1 827.7,108.3 828.1,108.1 828.5,107.1 828.9,106.2 829.3,105.6 829.7,105.7 830.1,104.5 830.5,102.3 830.9,103.4 831.3,102.9 831.7,103.9 832.1,104.9 832.5,106.2 832.9,106.1 833.3,106.9 833.7,107.5 834.1,108.0 834.5,108.9 834.9,107.8 835.3,109.4 835.7,108.3 836.1,108.4 836.5,109.2 836.9,108.9 837.3,108.4 837.7,108.1 838.1,108.1 838.5,107.9 838.9,109.3 839.3,109.4 839.7,110.0 840.1,109.2 840.5,109.1 840.9,109.5 841.3,109.8 841.7,109.1 842.1,109.7 842.5,110.5 842.9,108.4 843.3,108.6 843.7,108.8 844.1,109.5 844.5,109.7 844.9,108.5 845.3,109.3 845.7,108.8 846.1,109.2 846.5,108.7 846.9,108.9 847.3,109.0 847.7,109.6 848.1,110.5 848.5,108.1 848.9,109.3 849.3,109.0 849.7,109.5 850.1,109.8 850.5,109.9 850.9,109.6 851.3,108.6 851.7,108.0 852.1,110.1 852.5,109.8 852.9,108.4 853.3,109.7 853.7,109.5 854.1,107.7 854.5,109.6 854.9,108.6 855.3,110.1 855.7,109.1 856.1,109.1 856.5,108.5 856.9,109.1 857.3,109.8 857.7,108.6 858.1,107.8 858.5,110.3 858.9,110.2 859.3,109.7 859.7,108.9 860.1,108.7 860.5,108.4 860.9,109.6 861.3,109.7 861.7,108.3 862.1,108.7 862.5,108.5 862.9,108.5 863.3,108.9 863.7,110.0 864.1,108.6 864.5,109.6 864.9,110.0 865.3,109.2 865.7,109.3 866.1,108.7 866.5,109.8 866.9,108.8 867.3,108.4 867.7,108.4 868.1,107.6 868.5,107.1 868.9,107.1 869.3,107.9 869.7,106.5 870.1,106.6 870.5,105.3 870.9,104.9 871.3,107.0 871.7,105.9 872.1,105.4 872.5,106.7 872.9,107.4 873.3,106.6 873.7,107.4 874.1,108.6 874.5,108.2 874.9,109.4 875.3,109.7 875.7,109.5 876.1,108.6 876.5,109.1 876.9,108.7 877.3,108.9 877.7,109.0 878.1,108.5 878.5,109.3 878.9,110.4 879.3,108.5 879.7,108.7 880.1,109.0 880.5,109.3 880.9,109.0 881.3,108.9 881.7,109.7 882.1,109.5 882.5,109.8 882.9,109.2 883.3,109.7 883.7,109.6 884.1,109.1 884.5,109.8 884.9,110.8 885.3,108.4 885.7,109.9 886.1,109.0 886.5,109.0 886.9,109.6 887.3,109.9 887.7,109.6 888.1,108.8 888.5,108.4 888.9,108.8 889.3,109.0 889.7,108.5 890.1,108.0 890.5,109.9 890.9,108.3 891.3,108.7 891.7,108.7 892.1,108.6 892.5,109.1 892.9,109.1 893.3,109.6 893.7,108.6 894.1,108.4 894.5,110.4 894.9,109.3 895.3,109.6 895.7,109.8 896.1,109.4 896.5,109.3 896.9,108.4 897.3,108.5 897.7,110.1 898.1,110.0 898.5,109.8 898.9,108.7 899.3,108.4 899.7,108.9 900.1,108.8 900.5,109.2 900.9,108.7 901.3,110.3 901.7,109.0 902.1,108.9 902.5,109.9 902.9,109.3 903.3,108.7 903.7,109.7 904.1,110.2 904.5,108.4 904.9,108.9 905.3,108.3 905.7,108.3 906.1,109.7 906.5,109.8 906.9,109.7 907.3,109.4 907.7,108.0 908.1,109.2 908.5,108.5 908.9,108.2 909.3,108.2 909.7,109.4 910.1,108.8 910.5,109.9 910.9,109.0 911.3,107.9 911.7,109.6 912.1,109.5 912.5,109.1 912.9,108.4 913.3,110.2 913.7,108.6 914.1,109.3 914.5,108.0 914.9,108.6 915.3,108.1 915.7,109.6 916.1,109.7 916.5,108.7 916.9,108.2 917.3,108.9 917.7,109.6 918.1,108.4 918.5,108.8 918.9,109.4 919.3,109.9 919.7,109.4 920.1,109.8 920.5,108.8 920.9,108.2 921.3,109.7 921.7,109.0 922.1,109.3 922.5,109.1 922.9,109.6 923.3,108.6 923.7,109.9 924.1,109.2 924.5,109.4 924.9,109.4 925.3,109.7 925.7,109.1 926.1,107.7 926.5,108.0 926.9,109.0 927.3,107.6 927.7,106.9 928.1,106.0 928.5,104.8 928.9,104.6 929.3,104.5 929.7,106.0 930.1,106.1 930.5,107.9 930.9,108.0 931.3,109.5 931.7,108.9 932.1,108.4 932.5,110.2 932.9,109.5 933.3,110.0 933.7,109.3 934.1,109.0 934.5,109.4 934.9,108.4 935.3,108.2 935.7,108.3 936.1,108.5 936.5,108.0 936.9,108.5 937.3,108.7 937.7,109.9 938.1,110.0 938.5,108.7 938.9,109.3 939.3,108.7 939.7,109.5 940.1,109.4 940.5,109.2 940.9,109.4 941.3,108.8 941.7,109.9 942.1,109.3 942.5,109.0 942.9,109.2 943.3,109.5 943.7,108.9 944.1,109.4 944.5,109.6 944.9,110.3 945.3,108.7 945.7,109.4 946.1,109.8 946.5,110.6 946.9,109.9 947.3,110.0 947.7,108.6 948.1,109.0 948.5,110.4 948.9,109.3 949.3,110.6 949.7,109.0 950.1,109.2 950.5,108.3 950.9,109.6 951.3,109.3 951.7,110.4 952.1,109.3 952.5,109.1 952.9,108.5 953.3,109.4 953.7,109.9 954.1,109.6 954.5,109.8 954.9,109.4 955.3,108.8 955.7,109.1 956.1,108.7 956.5,107.9 956.9,109.7 957.3,108.8 957.7,107.8 958.1,108.4 958.5,108.0 958.9,108.0 959.3,107.3 959.7,103.9 960.1,105.5 960.5,105.5 960.9,103.7 961.3,103.3 961.7,105.0 962.1,105.8 962.5,106.6 962.9,106.4 963.3,107.5 963.7,108.5 964.1,109.1 964.5,110.2 964.9,109.3 965.3,108.9 965.7,107.9 966.1,110.2 966.5,109.4 966.9,109.4 967.3,108.9" fill="none" stroke="#048404" stroke-width="1.2" stroke-linejoin="round"/>
<polygon points="588.5,160.1 588.9,159.9 589.3,160.7 589.7,161.4 590.1,161.3 590.5,161.3 590.9,160.9 591.3,159.9 591.7,159.6 592.1,159.4 592.5,160.6 592.9,160.3 593.3,160.8 593.7,160.7 594.1,160.5 594.5,159.5 594.9,158.3 595.3,159.2 595.7,159.9 596.1,160.9 596.5,161.1 596.9,160.6 597.3,161.1 597.7,161.2 598.1,161.6 598.5,161.4 598.9,160.3 599.3,160.4 599.7,159.4 600.1,159.3 600.5,159.0 600.9,159.7 601.3,160.1 601.7,160.1 602.1,159.5 602.5,159.9 602.9,159.5 603.3,159.5 603.7,159.4 604.1,160.5 604.5,161.1 604.9,160.6 605.3,160.6 605.7,161.7 606.1,161.9 606.5,161.1 606.9,160.4 607.3,161.9 607.7,161.9 608.1,162.0 608.5,161.0 608.9,160.0 609.3,158.9 609.7,158.1 610.1,159.1 610.5,159.7 610.9,161.2 611.3,160.7 611.7,161.0 612.1,160.0 612.5,159.9 612.9,160.7 613.3,160.8 613.7,161.3 614.1,160.9 614.5,160.2 614.9,159.8 615.3,159.0 615.7,159.4 616.1,159.1 616.5,159.1 616.9,158.9 617.3,159.6 617.7,159.4 618.1,160.0 618.5,160.2 618.9,160.8 619.3,161.1 619.7,160.8 620.1,161.1 620.5,161.3 620.9,160.2 621.3,160.3 621.7,159.2 622.1,158.9 622.5,157.7 622.9,157.0 623.3,157.7 623.7,157.4 624.1,157.7 624.5,158.1 624.9,158.9 625.3,158.9 625.7,158.7 626.1,158.5 626.5,158.6 626.9,158.9 627.3,158.5 627.7,159.0 628.1,158.0 628.5,157.8 628.9,157.6 629.3,158.2 629.7,158.1 630.1,157.7 630.5,157.8 630.9,158.6 631.3,158.5 631.7,158.2 632.1,157.8 632.5,157.7 632.9,157.0 633.3,156.8 633.7,156.7 634.1,157.4 634.5,157.4 634.9,157.5 635.3,157.3 635.7,155.7 636.1,155.0 636.5,155.3 636.9,156.0 637.3,156.9 637.7,156.7 638.1,156.4 638.5,155.5 638.9,154.9 639.3,155.3 639.7,155.7 640.1,156.5 640.5,156.1 640.9,155.8 641.3,155.4 641.7,155.0 642.1,156.3 642.5,155.5 642.9,156.5 643.3,155.3 643.7,155.4 644.1,154.4 644.5,153.7 644.9,154.3 645.3,155.8 645.7,157.4 646.1,156.5 646.5,156.0 646.9,155.0 647.3,155.9 647.7,155.5 648.1,155.9 648.5,155.7 648.9,156.1 649.3,156.6 649.7,156.0 650.1,156.6 650.5,155.6 650.9,156.4 651.3,154.6 651.7,154.8 652.1,153.8 652.5,155.0 652.9,155.4 653.3,155.9 653.7,155.9 654.1,155.9 654.5,154.9 654.9,154.4 655.3,154.3 655.7,155.1 656.1,154.4 656.5,153.8 656.9,153.1 657.3,154.8 657.7,154.9 658.1,155.3 658.5,155.3 658.9,154.1 659.3,154.6 659.7,154.3 660.1,154.7 660.5,153.6 660.9,153.0 661.3,152.0 661.7,152.5 662.1,152.0 662.5,153.8 662.9,153.7 663.3,153.3 663.7,153.1 664.1,153.3 664.5,154.0 664.9,154.6 665.3,154.7 665.7,154.9 666.1,153.5 666.5,151.7 666.9,152.1 667.3,153.2 667.7,154.2 668.1,153.1 668.5,152.4 668.9,151.7 669.3,152.5 669.7,152.7 670.1,154.0 670.5,154.2 670.9,154.1 671.3,153.8 671.7,154.5 672.1,154.1 672.5,153.2 672.9,151.9 673.3,151.4 673.7,151.3 674.1,151.8 674.5,152.4 674.9,152.8 675.3,153.0 675.7,152.9 676.1,152.0 676.5,149.7 676.9,144.5 677.3,137.5 677.7,131.4 678.1,129.9 678.5,134.1 678.9,141.7 679.3,148.2 679.7,152.1 680.1,154.0 680.5,154.9 680.9,154.7 681.3,154.4 681.7,154.6 682.1,155.5 682.5,155.6 682.9,156.1 683.3,155.3 683.7,156.1 684.1,156.1 684.5,156.8 684.9,156.0 685.3,156.0 685.7,155.2 686.1,156.1 686.5,156.3 686.9,156.9 687.3,156.2 687.7,155.8 688.1,155.4 688.5,155.2 688.9,155.5 689.3,156.0 689.7,156.3 690.1,157.1 690.5,157.1 690.9,156.6 691.3,155.7 691.7,155.8 692.1,156.5 692.5,158.1 692.9,158.3 693.3,158.5 693.7,158.6 694.1,158.0 694.5,157.5 694.9,157.3 695.3,158.3 695.7,157.7 696.1,157.8 696.5,156.8 696.9,157.0 697.3,156.8 697.7,157.8 698.1,157.8 698.5,158.3 698.9,157.4 699.3,157.2 699.7,157.0 700.1,157.5 700.5,157.6 700.9,157.7 701.3,157.2 701.7,157.4 702.1,157.5 702.5,157.3 702.9,157.2 703.3,156.2 703.7,156.7 704.1,157.0 704.5,157.5 704.9,157.6 705.3,157.1 705.7,157.3 706.1,157.5 706.5,158.4 706.9,158.0 707.3,158.0 707.7,157.7 708.1,158.3 708.5,158.5 708.9,158.7 709.3,157.9 709.7,158.2 710.1,158.7 710.5,158.7 710.9,158.8 711.3,158.5 711.7,158.5 712.1,157.5 712.5,158.2 712.9,156.9 713.3,157.7 713.7,156.6 714.1,158.0 714.5,157.7 714.9,157.8 715.3,157.3 715.7,158.2 716.1,158.0 716.5,157.1 716.9,155.7 717.3,154.7 717.7,154.5 718.1,155.4 718.5,156.6 718.9,157.5 719.3,157.7 719.7,158.2 720.1,159.5 720.5,159.1 720.9,159.2 721.3,159.2 721.7,159.4 722.1,159.4 722.5,158.8 722.9,158.5 723.3,158.1 723.7,158.5 724.1,159.0 724.5,159.2 724.9,158.1 725.3,158.2 725.7,158.8 726.1,159.0 726.5,158.3 726.9,158.4 727.3,159.8 727.7,160.3 728.1,159.8 728.5,159.4 728.9,158.4 729.3,159.1 729.7,158.6 730.1,159.1 730.5,159.8 730.9,160.1 731.3,159.9 731.7,159.1 732.1,159.3 732.5,159.0 732.9,159.0 733.3,159.3 733.7,160.5 734.1,159.3 734.5,158.4 734.9,157.0 735.3,158.3 735.7,160.3 736.1,160.8 736.5,160.6 736.9,160.1 737.3,159.0 737.7,158.8 738.1,157.0 738.5,158.1 738.9,157.8 739.3,153.6 739.7,145.8 740.1,135.6 740.5,129.5 740.9,131.7 741.3,140.8 741.7,149.8 742.1,155.8 742.5,158.6 742.9,159.2 743.3,159.8 743.7,159.7 744.1,159.9 744.5,160.1 744.9,160.6 745.3,160.7 745.7,161.0 746.1,160.5 746.5,160.4 746.9,159.7 747.3,159.2 747.7,158.9 748.1,159.9 748.5,161.0 748.9,161.0 749.3,161.2 749.7,160.9 750.1,159.5 750.5,159.0 750.9,158.8 751.3,159.3 751.7,159.6 752.1,159.8 752.5,159.4 752.9,159.0 753.3,158.2 753.7,159.3 754.1,159.2 754.5,159.3 754.9,159.1 755.3,159.5 755.7,160.7 756.1,159.8 756.5,160.8 756.9,160.6 757.3,160.8 757.7,159.8 758.1,159.3 758.5,160.0 758.9,161.1 759.3,160.9 759.7,159.7 760.1,158.9 760.5,159.7 760.9,159.6 761.3,158.7 761.7,157.8 762.1,159.0 762.5,159.7 762.9,159.8 763.3,159.0 763.7,159.1 764.1,158.4 764.5,159.1 764.9,158.7 765.3,160.9 765.7,161.0 766.1,160.6 766.5,159.5 766.9,159.0 767.3,159.0 767.7,159.2 768.1,159.6 768.5,159.2 768.9,159.1 769.3,159.4 769.7,160.6 770.1,160.5 770.5,159.4 770.9,158.4 771.3,158.3 771.7,159.4 772.1,159.7 772.5,160.2 772.9,158.9 773.3,158.7 773.7,158.7 774.1,160.0 774.5,159.8 774.9,160.1 775.3,159.6 775.7,160.0 776.1,159.9 776.5,158.8 776.9,159.1 777.3,159.6 777.7,160.5 778.1,159.9 778.5,159.2 778.9,159.1 779.3,158.2 779.7,159.1 780.1,159.6 780.5,160.4 780.9,160.5 781.3,160.7 781.7,160.3 782.1,159.5 782.5,159.6 782.9,160.2 783.3,161.1 783.7,161.3 784.1,160.4 784.5,159.9 784.9,160.2 785.3,160.0 785.7,160.5 786.1,159.7 786.5,160.1 786.9,159.8 787.3,159.6 787.7,158.3 788.1,159.3 788.5,159.9 788.9,159.7 789.3,158.3 789.7,157.8 790.1,158.4 790.5,157.9 790.9,158.7 791.3,159.6 791.7,160.9 792.1,161.0 792.5,160.4 792.9,159.9 793.3,160.2 793.7,159.5 794.1,159.7 794.5,158.8 794.9,160.1 795.3,160.6 795.7,160.5 796.1,159.5 796.5,159.0 796.9,159.3 797.3,160.1 797.7,160.7 798.1,161.1 798.5,160.8 798.9,159.9 799.3,160.7 799.7,160.8 800.1,160.9 800.5,161.0 800.9,161.5 801.3,161.5 801.7,160.8 802.1,159.6 802.5,159.8 802.9,159.6 803.3,160.2 803.7,159.3 804.1,159.8 804.5,159.6 804.9,160.0 805.3,160.1 805.7,160.3 806.1,159.8 806.5,159.3 806.9,159.0 807.3,160.4 807.7,161.1 808.1,160.6 808.5,159.3 808.9,159.4 809.3,160.4 809.7,160.3 810.1,160.6 810.5,160.0 810.9,160.1 811.3,159.3 811.7,159.2 812.1,159.0 812.5,159.8 812.9,158.8 813.3,159.6 813.7,157.5 814.1,153.6 814.5,148.6 814.9,145.8 815.3,146.8 815.7,151.3 816.1,156.0 816.5,159.2 816.9,159.4 817.3,159.5 817.7,160.1 818.1,160.6 818.5,160.4 818.9,160.1 819.3,159.8 819.7,159.8 820.1,160.5 820.5,159.8 820.9,159.7 821.3,159.9 821.7,160.8 822.1,161.1 822.5,160.9 822.9,160.2 823.3,159.4 823.7,158.2 824.1,158.0 824.5,158.6 824.9,159.9 825.3,160.2 825.7,160.0 826.1,159.7 826.5,160.1 826.9,160.6 827.3,159.3 827.7,158.8 828.1,157.7 828.5,158.6 828.9,158.5 829.3,159.4 829.7,160.0 830.1,160.0 830.5,159.2 830.9,158.5 831.3,158.9 831.7,159.6 832.1,160.0 832.5,160.8 832.9,160.5 833.3,160.1 833.7,159.3 834.1,160.2 834.5,160.8 834.9,160.0 835.3,159.4 835.7,159.1 836.1,159.0 836.5,159.0 836.9,159.1 837.3,160.2 837.7,160.6 838.1,160.5 838.5,160.0 838.9,159.8 839.3,160.0 839.7,159.8 840.1,160.5 840.5,160.6 840.9,160.1 841.3,159.3 841.7,160.0 842.1,161.6 842.5,161.6 842.9,161.0 843.3,159.8 843.7,159.6 844.1,159.7 844.5,159.7 844.9,160.5 845.3,161.4 845.7,161.1 846.1,161.5 846.5,160.8 846.9,160.8 847.3,160.3 847.7,160.5 848.1,160.9 848.5,161.6 848.9,160.3 849.3,160.3 849.7,160.6 850.1,162.1 850.5,162.4 850.9,162.3 851.3,161.6 851.7,160.8 852.1,160.2 852.5,160.3 852.9,160.4 853.3,160.9 853.7,161.2 854.1,161.1 854.5,160.7 854.9,160.6 855.3,161.0 855.7,160.6 856.1,160.8 856.5,160.4 856.9,161.0 857.3,160.8 857.7,160.5 858.1,160.5 858.5,161.4 858.9,162.0 859.3,161.3 859.7,159.7 860.1,159.0 860.5,159.6 860.9,160.4 861.3,159.3 861.7,160.0 862.1,160.3 862.5,160.5 862.9,160.7 863.3,161.7 863.7,162.1 864.1,162.3 864.5,161.2 864.9,160.9 865.3,160.5 865.7,161.6 866.1,161.6 866.5,161.6 866.9,161.2 867.3,160.9 867.7,161.1 868.1,161.5 868.5,161.5 868.9,161.3 869.3,159.6 869.7,160.0 870.1,159.1 870.5,158.6 870.9,158.6 871.3,159.1 871.7,160.2 872.1,159.0 872.5,159.3 872.9,160.1 873.3,161.0 873.7,160.1 874.1,160.4 874.5,160.2 874.9,160.4 875.3,160.9 875.7,160.3 876.1,161.1 876.5,160.7 876.9,161.7 877.3,161.0 877.7,161.4 878.1,161.1 878.5,161.0 878.9,160.6 879.3,160.8 879.7,162.0 880.1,160.7 880.5,159.4 880.9,158.2 881.3,160.0 881.7,159.8 882.1,160.4 882.5,160.0 882.9,160.2 883.3,160.4 883.7,160.2 884.1,159.9 884.5,160.4 884.9,160.6 885.3,161.3 885.7,160.6 886.1,161.1 886.5,160.3 886.9,162.0 887.3,161.4 887.7,161.3 888.1,159.7 888.5,160.8 888.9,161.3 889.3,161.5 889.7,160.1 890.1,159.5 890.5,159.7 890.9,157.3 891.3,155.7 891.7,156.4 892.1,158.6 892.5,160.6 892.9,161.2 893.3,160.8 893.7,161.1 894.1,161.3 894.5,161.0 894.9,161.0 895.3,161.0 895.7,161.5 896.1,160.9 896.5,160.2 896.9,160.2 897.3,160.7 897.7,160.1 898.1,159.8 898.5,159.9 898.9,162.0 899.3,162.1 899.7,162.4 900.1,161.9 900.5,161.8 900.9,161.8 901.3,162.3 901.7,162.2 902.1,160.2 902.5,159.7 902.9,159.2 903.3,159.9 903.7,159.7 904.1,160.6 904.5,160.5 904.9,161.2 905.3,160.3 905.7,160.9 906.1,161.6 906.5,161.8 906.9,162.0 907.3,161.9 907.7,162.3 908.1,162.0 908.5,160.6 908.9,160.4 909.3,160.1 909.7,161.2 910.1,160.0 910.5,160.3 910.9,160.3 911.3,160.7 911.7,161.1 912.1,161.6 912.5,162.3 912.9,161.7 913.3,162.0 913.7,160.7 914.1,160.5 914.5,159.6 914.9,160.5 915.3,159.9 915.7,159.8 916.1,160.4 916.5,161.3 916.9,162.0 917.3,161.8 917.7,162.5 918.1,161.0 918.5,161.0 918.9,161.3 919.3,163.0 919.7,162.9 920.1,162.5 920.5,161.7 920.9,160.5 921.3,160.9 921.7,160.5 922.1,160.9 922.5,159.4 922.9,159.1 923.3,159.9 923.7,160.9 924.1,161.8 924.5,159.9 924.9,159.7 925.3,160.6 925.7,161.0 926.1,159.9 926.5,159.1 926.9,159.5 927.3,160.7 927.7,160.1 928.1,159.9 928.5,159.4 928.9,160.4 929.3,161.2 929.7,162.2 930.1,161.2 930.5,161.7 930.9,161.0 931.3,161.4 931.7,161.6 932.1,161.7 932.5,161.7 932.9,160.3 933.3,160.2 933.7,161.0 934.1,161.5 934.5,161.5 934.9,160.4 935.3,159.8 935.7,160.2 936.1,161.8 936.5,162.1 936.9,161.0 937.3,160.0 937.7,159.3 938.1,160.1 938.5,161.4 938.9,162.4 939.3,162.3 939.7,162.2 940.1,162.1 940.5,162.5 940.9,162.1 941.3,162.2 941.7,161.2 942.1,161.8 942.5,162.0 942.9,161.7 943.3,159.9 943.7,159.0 944.1,160.8 944.5,162.3 944.9,162.7 945.3,162.2 945.7,162.4 946.1,161.6 946.5,161.0 946.9,160.9 947.3,161.6 947.7,162.3 948.1,162.3 948.5,161.8 948.9,162.3 949.3,162.3 949.7,163.0 950.1,160.8 950.5,161.1 950.9,159.6 951.3,161.1 951.7,160.0 952.1,161.6 952.5,161.4 952.9,161.8 953.3,161.7 953.7,162.0 954.1,161.4 954.5,160.4 954.9,159.5 955.3,160.0 955.7,160.9 956.1,161.5 956.5,161.1 956.9,161.1 957.3,161.4 957.7,162.6 958.1,163.2 958.5,162.4 958.9,162.1 959.3,161.7 959.7,161.3 960.1,161.7 960.5,162.7 960.9,162.8 961.3,161.7 961.7,161.6 962.1,161.0 962.5,161.3 962.9,160.8 963.3,160.3 963.7,160.7 964.1,161.6 964.5,163.2 964.9,162.1 965.3,160.9 965.7,160.0 966.1,160.0 966.5,161.4 966.9,161.0 967.3,161.6 967.3,166.2 966.9,166.6 966.5,167.7 966.1,168.8 965.7,168.5 965.3,168.7 964.9,167.5 964.5,166.3 964.1,165.4 963.7,165.4 963.3,166.0 962.9,166.2 962.5,166.5 962.1,166.6 961.7,167.5 961.3,166.9 960.9,167.2 960.5,167.2 960.1,167.0 959.7,166.3 959.3,166.4 958.9,167.0 958.5,166.6 958.1,165.9 957.7,165.8 957.3,166.6 956.9,166.5 956.5,166.4 956.1,165.6 955.7,165.5 955.3,165.1 954.9,165.9 954.5,167.4 954.1,166.5 953.7,166.6 953.3,166.1 952.9,167.5 952.5,167.5 952.1,167.4 951.7,165.8 951.3,165.5 950.9,164.8 950.5,165.0 950.1,165.8 949.7,167.1 949.3,167.6 948.9,166.8 948.5,166.4 948.1,166.4 947.7,166.2 947.3,165.7 946.9,164.8 946.5,166.0 946.1,167.1 945.7,168.0 945.3,167.4 944.9,167.0 944.5,166.1 944.1,166.5 943.7,166.7 943.3,167.7 942.9,167.9 942.5,166.2 942.1,166.0 941.7,165.5 941.3,166.3 940.9,166.9 940.5,166.8 940.1,166.5 939.7,166.2 939.3,166.5 938.9,166.2 938.5,166.7 938.1,165.7 937.7,166.2 937.3,165.4 936.9,165.9 936.5,166.1 936.1,166.8 935.7,166.5 935.3,166.2 934.9,166.4 934.5,166.8 934.1,167.7 933.7,167.3 933.3,165.7 932.9,164.8 932.5,165.0 932.1,165.9 931.7,167.0 931.3,167.5 930.9,166.9 930.5,166.1 930.1,164.8 929.7,165.1 929.3,165.2 928.9,165.3 928.5,165.6 928.1,165.6 927.7,165.5 927.3,164.9 926.9,164.9 926.5,165.4 926.1,165.8 925.7,165.9 925.3,166.7 924.9,166.7 924.5,165.8 924.1,164.6 923.7,163.9 923.3,165.4 922.9,165.7 922.5,166.7 922.1,166.5 921.7,166.4 921.3,165.6 920.9,166.5 920.5,166.7 920.1,166.8 919.7,165.8 919.3,166.1 918.9,166.5 918.5,166.5 918.1,166.4 917.7,166.3 917.3,166.0 916.9,164.9 916.5,164.1 916.1,163.9 915.7,165.3 915.3,165.3 914.9,166.1 914.5,165.2 914.1,165.4 913.7,165.1 913.3,164.9 912.9,166.0 912.5,166.3 912.1,166.8 911.7,166.9 911.3,167.4 910.9,167.5 910.5,167.1 910.1,165.9 909.7,165.3 909.3,164.3 908.9,164.9 908.5,165.5 908.1,166.6 907.7,165.8 907.3,166.3 906.9,166.0 906.5,166.6 906.1,165.0 905.7,164.7 905.3,165.2 904.9,166.1 904.5,166.0 904.1,165.1 903.7,165.1 903.3,165.8 902.9,165.8 902.5,166.4 902.1,165.7 901.7,165.4 901.3,165.5 900.9,165.6 900.5,167.7 900.1,167.8 899.7,166.6 899.3,165.4 898.9,165.7 898.5,166.2 898.1,166.5 897.7,165.5 897.3,164.9 896.9,164.7 896.5,165.6 896.1,166.6 895.7,166.9 895.3,167.7 894.9,167.3 894.5,167.0 894.1,165.9 893.7,164.7 893.3,164.8 892.9,164.4 892.5,165.2 892.1,165.1 891.7,164.6 891.3,164.9 890.9,166.1 890.5,166.5 890.1,166.0 889.7,164.5 889.3,165.9 888.9,165.5 888.5,166.1 888.1,165.4 887.7,166.5 887.3,165.8 886.9,166.9 886.5,167.3 886.1,167.7 885.7,167.3 885.3,166.1 884.9,166.1 884.5,165.4 884.1,165.2 883.7,165.6 883.3,166.0 882.9,166.2 882.5,166.1 882.1,166.2 881.7,165.4 881.3,165.9 880.9,164.7 880.5,164.7 880.1,164.9 879.7,164.4 879.3,164.6 878.9,165.5 878.5,165.9 878.1,166.3 877.7,164.9 877.3,165.3 876.9,164.7 876.5,165.1 876.1,164.6 875.7,165.9 875.3,165.9 874.9,166.1 874.5,165.0 874.1,165.0 873.7,164.8 873.3,165.6 872.9,166.4 872.5,166.1 872.1,164.9 871.7,163.6 871.3,164.2 870.9,163.8 870.5,164.3 870.1,163.6 869.7,163.8 869.3,163.6 868.9,163.5 868.5,163.9 868.1,165.0 867.7,165.9 867.3,166.5 866.9,165.2 866.5,164.9 866.1,164.6 865.7,165.2 865.3,164.5 864.9,164.4 864.5,164.1 864.1,164.7 863.7,164.6 863.3,164.4 862.9,164.7 862.5,165.5 862.1,166.5 861.7,166.6 861.3,165.5 860.9,164.8 860.5,164.6 860.1,164.6 859.7,165.8 859.3,165.8 858.9,166.3 858.5,166.4 858.1,165.5 857.7,165.1 857.3,163.6 856.9,165.3 856.5,165.2 856.1,166.1 855.7,164.5 855.3,164.0 854.9,163.7 854.5,164.3 854.1,164.5 853.7,164.9 853.3,165.2 852.9,165.9 852.5,165.8 852.1,166.1 851.7,165.2 851.3,165.4 850.9,164.3 850.5,165.3 850.1,165.8 849.7,166.1 849.3,166.0 848.9,165.7 848.5,165.8 848.1,164.7 847.7,164.2 847.3,164.7 846.9,164.7 846.5,166.0 846.1,165.9 845.7,166.8 845.3,165.3 844.9,165.0 844.5,163.7 844.1,164.5 843.7,165.0 843.3,165.1 842.9,165.0 842.5,164.7 842.1,164.8 841.7,165.5 841.3,165.2 840.9,165.5 840.5,165.3 840.1,165.7 839.7,165.5 839.3,165.6 838.9,165.8 838.5,166.2 838.1,164.6 837.7,165.0 837.3,164.1 836.9,165.2 836.5,164.3 836.1,164.3 835.7,164.0 835.3,162.8 834.9,163.2 834.5,164.6 834.1,165.7 833.7,165.7 833.3,165.4 832.9,165.6 832.5,164.2 832.1,164.6 831.7,164.1 831.3,164.6 830.9,163.8 830.5,164.2 830.1,165.1 829.7,165.4 829.3,165.3 828.9,166.4 828.5,165.8 828.1,166.8 827.7,166.8 827.3,167.5 826.9,165.9 826.5,165.3 826.1,164.5 825.7,165.4 825.3,165.0 824.9,165.0 824.5,164.2 824.1,164.7 823.7,164.7 823.3,165.3 822.9,164.7 822.5,164.8 822.1,164.0 821.7,163.8 821.3,164.4 820.9,165.9 820.5,166.4 820.1,166.0 819.7,164.9 819.3,164.8 818.9,166.0 818.5,165.9 818.1,165.4 817.7,165.2 817.3,165.0 816.9,165.7 816.5,164.4 816.1,164.6 815.7,163.9 815.3,164.6 814.9,165.1 814.5,164.7 814.1,164.3 813.7,164.0 813.3,163.9 812.9,165.0 812.5,165.8 812.1,165.7 811.7,165.1 811.3,164.4 810.9,164.7 810.5,163.7 810.1,164.3 809.7,164.3 809.3,165.5 808.9,165.9 808.5,166.1 808.1,166.2 807.7,165.3 807.3,166.5 806.9,165.7 806.5,165.8 806.1,164.0 805.7,163.6 805.3,163.9 804.9,163.2 804.5,163.9 804.1,163.8 803.7,164.4 803.3,164.8 802.9,163.9 802.5,163.2 802.1,163.5 801.7,164.3 801.3,164.8 800.9,164.4 800.5,164.5 800.1,163.5 799.7,163.2 799.3,163.0 798.9,164.2 798.5,165.1 798.1,165.1 797.7,164.7 797.3,164.5 796.9,164.0 796.5,163.1 796.1,163.1 795.7,163.2 795.3,164.7 794.9,165.3 794.5,165.4 794.1,164.7 793.7,165.3 793.3,164.8 792.9,165.1 792.5,164.2 792.1,165.4 791.7,165.1 791.3,165.3 790.9,164.2 790.5,163.2 790.1,162.6 789.7,163.8 789.3,164.5 788.9,164.7 788.5,163.9 788.1,164.9 787.7,165.0 787.3,165.3 786.9,164.3 786.5,163.7 786.1,164.2 785.7,164.1 785.3,164.6 784.9,164.4 784.5,164.0 784.1,164.1 783.7,163.9 783.3,164.8 782.9,164.5 782.5,164.7 782.1,163.8 781.7,164.4 781.3,164.5 780.9,164.7 780.5,163.9 780.1,164.7 779.7,165.1 779.3,165.1 778.9,165.4 778.5,165.0 778.1,165.8 777.7,164.6 777.3,165.2 776.9,163.8 776.5,165.1 776.1,164.2 775.7,165.0 775.3,165.3 774.9,164.8 774.5,164.4 774.1,163.9 773.7,165.2 773.3,164.8 772.9,164.4 772.5,163.9 772.1,165.2 771.7,166.1 771.3,165.6 770.9,164.9 770.5,165.0 770.1,166.1 769.7,165.5 769.3,165.0 768.9,165.6 768.5,165.3 768.1,165.9 767.7,164.3 767.3,165.1 766.9,164.1 766.5,164.0 766.1,162.8 765.7,163.6 765.3,164.0 764.9,164.1 764.5,164.0 764.1,164.5 763.7,165.6 763.3,164.8 762.9,163.4 762.5,162.0 762.1,162.2 761.7,163.2 761.3,163.5 760.9,164.1 760.5,163.7 760.1,163.6 759.7,164.5 759.3,164.6 758.9,165.2 758.5,163.7 758.1,163.5 757.7,163.4 757.3,163.6 756.9,164.2 756.5,164.7 756.1,165.2 755.7,166.3 755.3,166.2 754.9,166.8 754.5,165.8 754.1,165.3 753.7,164.9 753.3,164.2 752.9,163.8 752.5,163.3 752.1,164.2 751.7,164.3 751.3,162.9 750.9,162.0 750.5,162.5 750.1,164.3 749.7,165.2 749.3,165.0 748.9,164.7 748.5,164.4 748.1,164.3 747.7,164.2 747.3,163.7 746.9,163.8 746.5,163.9 746.1,164.1 745.7,163.3 745.3,163.0 744.9,163.5 744.5,163.9 744.1,164.0 743.7,164.5 743.3,165.2 742.9,165.7 742.5,164.5 742.1,164.0 741.7,163.6 741.3,164.6 740.9,164.2 740.5,163.8 740.1,163.1 739.7,164.0 739.3,164.7 738.9,165.2 738.5,165.0 738.1,164.7 737.7,164.5 737.3,163.2 736.9,163.1 736.5,162.8 736.1,164.4 735.7,164.7 735.3,165.1 734.9,165.2 734.5,164.8 734.1,164.7 733.7,164.1 733.3,164.3 732.9,164.2 732.5,164.1 732.1,162.9 731.7,162.0 731.3,162.3 730.9,163.2 730.5,164.0 730.1,163.7 729.7,164.0 729.3,164.1 728.9,164.0 728.5,163.7 728.1,162.8 727.7,163.2 727.3,163.6 726.9,163.5 726.5,163.4 726.1,163.6 725.7,164.1 725.3,163.5 724.9,162.9 724.5,162.0 724.1,163.3 723.7,163.8 723.3,164.0 722.9,162.6 722.5,162.6 722.1,163.3 721.7,164.2 721.3,163.8 720.9,164.4 720.5,163.3 720.1,162.8 719.7,161.7 719.3,162.1 718.9,162.4 718.5,162.4 718.1,163.6 717.7,163.2 717.3,164.6 716.9,164.4 716.5,164.2 716.1,162.9 715.7,162.2 715.3,162.8 714.9,163.3 714.5,162.2 714.1,162.3 713.7,161.6 713.3,162.8 712.9,162.1 712.5,163.1 712.1,163.1 711.7,162.9 711.3,163.6 710.9,163.5 710.5,164.4 710.1,164.3 709.7,165.2 709.3,164.9 708.9,164.0 708.5,163.4 708.1,162.3 707.7,161.8 707.3,162.2 706.9,161.6 706.5,162.3 706.1,161.7 705.7,162.4 705.3,163.1 704.9,162.9 704.5,163.5 704.1,163.1 703.7,163.2 703.3,162.4 702.9,163.2 702.5,162.3 702.1,162.2 701.7,160.6 701.3,161.7 700.9,162.0 700.5,162.4 700.1,161.8 699.7,161.3 699.3,161.5 698.9,161.5 698.5,163.2 698.1,163.2 697.7,164.4 697.3,162.7 696.9,162.9 696.5,161.1 696.1,161.0 695.7,160.8 695.3,160.8 694.9,161.0 694.5,161.4 694.1,161.3 693.7,161.5 693.3,161.3 692.9,161.9 692.5,161.6 692.1,161.0 691.7,161.6 691.3,162.1 690.9,162.0 690.5,161.5 690.1,160.9 689.7,160.4 689.3,161.1 688.9,162.2 688.5,162.4 688.1,161.8 687.7,162.3 687.3,161.6 686.9,162.5 686.5,161.0 686.1,161.0 685.7,160.6 685.3,159.8 684.9,160.7 684.5,160.8 684.1,161.6 683.7,160.2 683.3,160.1 682.9,160.4 682.5,160.6 682.1,159.7 681.7,160.1 681.3,160.5 680.9,160.5 680.5,160.8 680.1,160.1 679.7,159.3 679.3,157.9 678.9,157.6 678.5,157.5 678.1,158.2 677.7,158.8 677.3,160.2 676.9,159.3 676.5,158.9 676.1,157.2 675.7,157.2 675.3,156.5 674.9,157.6 674.5,157.9 674.1,158.8 673.7,157.5 673.3,158.5 672.9,157.6 672.5,158.1 672.1,157.5 671.7,158.5 671.3,158.5 670.9,158.6 670.5,158.4 670.1,158.3 669.7,158.5 669.3,158.2 668.9,158.2 668.5,158.6 668.1,159.7 667.7,159.0 667.3,158.3 666.9,156.8 666.5,157.4 666.1,157.6 665.7,157.7 665.3,157.8 664.9,158.9 664.5,160.0 664.1,160.3 663.7,160.7 663.3,160.7 662.9,160.7 662.5,159.7 662.1,158.4 661.7,157.9 661.3,158.2 660.9,158.3 660.5,159.4 660.1,159.2 659.7,159.1 659.3,158.3 658.9,158.6 658.5,158.9 658.1,158.9 657.7,159.5 657.3,158.7 656.9,159.3 656.5,157.7 656.1,157.9 655.7,157.9 655.3,159.3 654.9,159.5 654.5,158.6 654.1,159.9 653.7,161.6 653.3,161.5 652.9,159.8 652.5,158.9 652.1,159.4 651.7,159.5 651.3,160.2 650.9,160.8 650.5,160.2 650.1,159.7 649.7,158.7 649.3,159.4 648.9,159.0 648.5,159.9 648.1,160.4 647.7,160.7 647.3,160.0 646.9,160.0 646.5,159.9 646.1,160.6 645.7,160.2 645.3,160.0 644.9,159.3 644.5,158.8 644.1,159.8 643.7,161.0 643.3,161.6 642.9,161.9 642.5,161.1 642.1,162.1 641.7,161.7 641.3,161.7 640.9,162.3 640.5,162.7 640.1,163.6 639.7,162.8 639.3,162.7 638.9,161.4 638.5,161.4 638.1,161.4 637.7,161.1 637.3,161.6 636.9,160.5 636.5,162.4 636.1,162.4 635.7,162.6 635.3,161.8 634.9,161.4 634.5,161.4 634.1,163.0 633.7,164.0 633.3,163.3 632.9,162.0 632.5,160.5 632.1,162.0 631.7,161.7 631.3,162.5 630.9,163.2 630.5,163.3 630.1,163.6 629.7,162.9 629.3,164.4 628.9,164.8 628.5,164.0 628.1,163.5 627.7,163.3 627.3,163.5 626.9,164.1 626.5,163.4 626.1,165.0 625.7,164.9 625.3,164.9 624.9,163.7 624.5,163.7 624.1,163.5 623.7,163.4 623.3,163.1 622.9,162.7 622.5,163.1 622.1,162.6 621.7,163.8 621.3,164.7 620.9,165.8 620.5,165.0 620.1,164.6 619.7,164.0 619.3,164.4 618.9,163.9 618.5,163.4 618.1,165.1 617.7,165.5 617.3,165.8 616.9,164.4 616.5,163.5 616.1,164.7 615.7,163.7 615.3,163.0 614.9,161.3 614.5,162.8 614.1,164.5 613.7,165.4 613.3,165.0 612.9,164.0 612.5,163.8 612.1,164.0 611.7,164.8 611.3,164.9 610.9,165.1 610.5,164.3 610.1,163.2 609.7,162.4 609.3,163.8 608.9,165.1 608.5,165.6 608.1,164.0 607.7,164.0 607.3,164.4 606.9,165.2 606.5,165.7 606.1,166.6 605.7,166.7 605.3,165.0 604.9,163.4 604.5,164.7 604.1,164.8 603.7,165.4 603.3,164.6 602.9,165.5 602.5,166.0 602.1,165.9 601.7,165.8 601.3,166.4 600.9,166.4 600.5,166.3 600.1,166.0 599.7,166.5 599.3,167.2 598.9,166.0 598.5,165.6 598.1,164.3 597.7,165.6 597.3,165.0 596.9,165.4 596.5,164.3 596.1,164.8 595.7,164.6 595.3,165.5 594.9,165.3 594.5,165.6 594.1,164.6 593.7,164.6 593.3,165.0 592.9,165.8 592.5,165.8 592.1,166.0 591.7,164.7 591.3,165.2 590.9,164.1 590.5,165.0 590.1,165.3 589.7,165.3 589.3,165.9 588.9,165.8 588.5,166.4" fill="#0000d8"/>
<polyline points="588.5,162.9 588.9,164.7 589.3,162.0 589.7,162.8 590.1,162.6 590.5,163.4 590.9,163.7 591.3,163.6 591.7,161.9 592.1,163.4 592.5,161.9 592.9,162.8 593.3,162.8 593.7,163.2 594.1,162.6 594.5,163.9 594.9,162.8 595.3,162.9 595.7,162.7 596.1,162.2 596.5,163.1 596.9,162.7 597.3,163.1 597.7,164.0 598.1,162.3 598.5,162.8 598.9,162.9 599.3,163.5 599.7,162.7 600.1,163.2 600.5,162.9 600.9,161.8 601.3,162.2 601.7,161.4 602.1,162.5 602.5,162.6 602.9,163.0 603.3,163.0 603.7,162.8 604.1,163.6 604.5,163.3 604.9,162.3 605.3,162.7 605.7,163.3 606.1,164.0 606.5,162.8 606.9,162.8 607.3,163.0 607.7,163.2 608.1,162.6 608.5,162.8 608.9,162.3 609.3,162.2 609.7,162.0 610.1,162.9 610.5,162.1 610.9,162.7 611.3,162.5 611.7,163.0 612.1,160.8 612.5,161.5 612.9,161.2 613.3,161.8 613.7,162.4 614.1,163.3 614.5,162.5 614.9,162.3 615.3,161.8 615.7,161.4 616.1,161.9 616.5,160.1 616.9,162.0 617.3,161.5 617.7,161.7 618.1,160.8 618.5,161.0 618.9,161.4 619.3,161.9 619.7,161.9 620.1,161.6 620.5,162.1 620.9,162.4 621.3,160.9 621.7,161.3 622.1,160.2 622.5,160.9 622.9,161.8 623.3,160.7 623.7,162.3 624.1,161.6 624.5,162.1 624.9,161.6 625.3,161.9 625.7,162.2 626.1,161.6 626.5,160.9 626.9,161.0 627.3,162.1 627.7,160.9 628.1,160.6 628.5,160.4 628.9,160.0 629.3,160.7 629.7,161.1 630.1,160.5 630.5,160.2 630.9,160.7 631.3,160.6 631.7,160.0 632.1,160.4 632.5,159.6 632.9,160.8 633.3,159.6 633.7,159.9 634.1,160.2 634.5,159.7 634.9,159.2 635.3,160.9 635.7,160.3 636.1,158.5 636.5,159.6 636.9,158.5 637.3,159.3 637.7,158.1 638.1,159.0 638.5,159.0 638.9,159.7 639.3,159.6 639.7,158.9 640.1,159.7 640.5,159.1 640.9,159.3 641.3,159.1 641.7,158.2 642.1,159.2 642.5,157.3 642.9,158.5 643.3,158.7 643.7,158.4 644.1,157.3 644.5,157.8 644.9,158.4 645.3,158.8 645.7,158.9 646.1,157.0 646.5,158.0 646.9,157.6 647.3,158.1 647.7,156.7 648.1,157.7 648.5,158.0 648.9,157.0 649.3,157.3 649.7,156.8 650.1,158.3 650.5,156.9 650.9,157.1 651.3,157.6 651.7,157.5 652.1,159.1 652.5,157.9 652.9,157.2 653.3,157.8 653.7,157.6 654.1,157.2 654.5,157.1 654.9,157.3 655.3,156.4 655.7,156.2 656.1,156.6 656.5,156.3 656.9,157.3 657.3,158.0 657.7,157.3 658.1,156.9 658.5,156.9 658.9,156.1 659.3,155.6 659.7,156.6 660.1,155.5 660.5,156.6 660.9,156.1 661.3,156.8 661.7,156.4 662.1,156.7 662.5,156.4 662.9,155.8 663.3,156.5 663.7,157.2 664.1,157.0 664.5,157.0 664.9,155.3 665.3,155.3 665.7,156.1 666.1,155.4 666.5,157.2 666.9,156.1 667.3,155.4 667.7,155.8 668.1,156.8 668.5,154.6 668.9,155.6 669.3,154.8 669.7,156.3 670.1,154.8 670.5,154.6 670.9,154.4 671.3,155.0 671.7,154.0 672.1,155.1 672.5,156.6 672.9,155.1 673.3,154.8 673.7,154.0 674.1,155.0 674.5,154.2 674.9,153.6 675.3,154.8 675.7,154.0 676.1,152.1 676.5,151.2 676.9,145.1 677.3,138.4 677.7,132.1 678.1,131.2 678.5,135.1 678.9,142.1 679.3,149.3 679.7,152.4 680.1,154.7 680.5,156.9 680.9,155.8 681.3,156.1 681.7,156.8 682.1,156.9 682.5,158.3 682.9,156.8 683.3,158.9 683.7,159.0 684.1,158.2 684.5,158.7 684.9,158.5 685.3,158.9 685.7,159.1 686.1,159.0 686.5,159.0 686.9,159.7 687.3,158.3 687.7,158.8 688.1,158.7 688.5,158.6 688.9,158.9 689.3,158.6 689.7,158.7 690.1,158.1 690.5,158.7 690.9,158.5 691.3,158.3 691.7,158.6 692.1,158.8 692.5,159.2 692.9,158.5 693.3,159.0 693.7,158.5 694.1,158.6 694.5,159.0 694.9,159.6 695.3,159.0 695.7,158.6 696.1,158.8 696.5,159.7 696.9,158.2 697.3,160.1 697.7,158.4 698.1,159.0 698.5,159.4 698.9,159.2 699.3,160.4 699.7,159.8 700.1,159.7 700.5,160.4 700.9,159.8 701.3,159.5 701.7,160.9 702.1,161.4 702.5,160.9 702.9,159.4 703.3,161.1 703.7,160.0 704.1,160.5 704.5,160.7 704.9,161.4 705.3,159.4 705.7,159.6 706.1,160.9 706.5,160.6 706.9,160.2 707.3,158.8 707.7,160.5 708.1,159.9 708.5,158.6 708.9,161.9 709.3,158.8 709.7,160.0 710.1,160.4 710.5,160.5 710.9,161.0 711.3,160.4 711.7,159.8 712.1,160.0 712.5,159.1 712.9,159.2 713.3,161.0 713.7,159.3 714.1,159.6 714.5,160.8 714.9,160.1 715.3,159.2 715.7,159.7 716.1,158.5 716.5,157.1 716.9,156.9 717.3,155.4 717.7,156.0 718.1,155.9 718.5,156.9 718.9,158.7 719.3,159.4 719.7,159.9 720.1,160.0 720.5,160.6 720.9,160.8 721.3,161.9 721.7,160.9 722.1,160.0 722.5,161.3 722.9,162.3 723.3,160.9 723.7,160.6 724.1,161.0 724.5,159.2 724.9,160.7 725.3,160.9 725.7,160.2 726.1,161.5 726.5,160.6 726.9,160.1 727.3,160.9 727.7,161.3 728.1,162.0 728.5,161.6 728.9,161.1 729.3,160.9 729.7,161.0 730.1,161.8 730.5,161.2 730.9,161.7 731.3,162.0 731.7,160.8 732.1,161.1 732.5,161.6 732.9,161.2 733.3,161.3 733.7,161.2 734.1,161.4 734.5,162.4 734.9,162.1 735.3,160.2 735.7,161.3 736.1,161.4 736.5,161.2 736.9,160.3 737.3,161.1 737.7,161.0 738.1,160.5 738.5,160.4 738.9,156.9 739.3,153.3 739.7,146.5 740.1,136.4 740.5,130.0 740.9,132.1 741.3,141.5 741.7,151.1 742.1,156.9 742.5,159.2 742.9,160.0 743.3,161.0 743.7,160.9 744.1,161.1 744.5,160.7 744.9,160.7 745.3,161.4 745.7,161.2 746.1,162.6 746.5,162.5 746.9,160.7 747.3,162.3 747.7,162.7 748.1,162.5 748.5,161.5 748.9,161.1 749.3,162.3 749.7,162.5 750.1,162.1 750.5,161.2 750.9,160.8 751.3,161.8 751.7,161.4 752.1,161.5 752.5,162.1 752.9,162.4 753.3,160.9 753.7,161.8 754.1,163.2 754.5,162.4 754.9,162.2 755.3,162.8 755.7,161.7 756.1,161.3 756.5,161.8 756.9,162.7 757.3,162.4 757.7,161.7 758.1,162.3 758.5,161.8 758.9,161.5 759.3,161.1 759.7,162.0 760.1,162.2 760.5,162.0 760.9,161.8 761.3,161.4 761.7,162.4 762.1,161.9 762.5,161.2 762.9,162.9 763.3,161.7 763.7,162.3 764.1,162.0 764.5,162.4 764.9,162.0 765.3,162.9 765.7,162.2 766.1,161.6 766.5,161.5 766.9,162.4 767.3,161.5 767.7,162.6 768.1,161.7 768.5,161.2 768.9,161.4 769.3,161.8 769.7,163.0 770.1,162.6 770.5,162.2 770.9,161.4 771.3,163.4 771.7,162.2 772.1,162.3 772.5,162.0 772.9,163.1 773.3,162.4 773.7,161.9 774.1,162.1 774.5,161.2 774.9,161.2 775.3,161.6 775.7,159.8 776.1,162.2 776.5,163.2 776.9,161.3 777.3,162.0 777.7,161.2 778.1,162.3 778.5,162.5 778.9,162.9 779.3,161.4 779.7,162.0 780.1,161.8 780.5,162.1 780.9,163.5 781.3,162.2 781.7,162.0 782.1,161.7 782.5,162.5 782.9,163.7 783.3,163.0 783.7,163.1 784.1,161.5 784.5,163.0 784.9,162.7 785.3,163.3 785.7,163.1 786.1,162.7 786.5,161.5 786.9,162.4 787.3,162.1 787.7,162.2 788.1,161.9 788.5,162.7 788.9,161.0 789.3,161.5 789.7,162.0 790.1,162.3 790.5,162.1 790.9,162.4 791.3,162.2 791.7,163.0 792.1,162.3 792.5,162.4 792.9,161.2 793.3,160.8 793.7,161.8 794.1,162.8 794.5,161.1 794.9,162.6 795.3,162.4 795.7,162.3 796.1,161.9 796.5,161.5 796.9,162.5 797.3,162.2 797.7,162.1 798.1,161.8 798.5,162.3 798.9,162.6 799.3,162.4 799.7,162.2 800.1,161.7 800.5,162.5 800.9,161.7 801.3,161.3 801.7,162.7 802.1,161.7 802.5,160.8 802.9,161.6 803.3,162.9 803.7,161.7 804.1,161.3 804.5,161.5 804.9,162.4 805.3,162.3 805.7,162.4 806.1,162.2 806.5,162.8 806.9,163.3 807.3,162.7 807.7,162.6 808.1,161.7 808.5,162.7 808.9,163.3 809.3,162.8 809.7,161.5 810.1,162.3 810.5,162.8 810.9,161.7 811.3,162.2 811.7,162.6 812.1,162.8 812.5,160.7 812.9,160.2 813.3,160.5 813.7,158.5 814.1,154.0 814.5,149.2 814.9,146.1 815.3,148.1 815.7,150.6 816.1,156.8 816.5,159.0 816.9,160.8 817.3,160.8 817.7,161.5 818.1,162.2 818.5,162.5 818.9,163.8 819.3,162.4 819.7,162.7 820.1,162.6 820.5,162.4 820.9,163.2 821.3,162.4 821.7,162.4 822.1,162.3 822.5,162.6 822.9,162.5 823.3,163.0 823.7,162.3 824.1,162.4 824.5,162.2 824.9,162.8 825.3,161.9 825.7,162.9 826.1,162.0 826.5,162.6 826.9,163.4 827.3,162.3 827.7,162.1 828.1,161.6 828.5,162.5 828.9,162.0 829.3,162.3 829.7,160.9 830.1,160.9 830.5,160.8 830.9,159.4 831.3,159.3 831.7,159.4 832.1,161.1 832.5,162.2 832.9,162.4 833.3,161.4 833.7,161.6 834.1,161.7 834.5,161.6 834.9,161.7 835.3,162.0 835.7,163.2 836.1,162.3 836.5,162.9 836.9,161.2 837.3,163.3 837.7,163.0 838.1,162.8 838.5,162.9 838.9,163.0 839.3,164.0 839.7,163.4 840.1,161.9 840.5,161.9 840.9,163.9 841.3,163.1 841.7,163.9 842.1,162.8 842.5,162.7 842.9,162.8 843.3,163.2 843.7,163.0 844.1,162.4 844.5,162.9 844.9,162.9 845.3,162.0 845.7,161.8 846.1,161.4 846.5,162.4 846.9,162.7 847.3,162.4 847.7,162.3 848.1,162.4 848.5,162.8 848.9,163.1 849.3,163.2 849.7,163.0 850.1,163.5 850.5,162.4 850.9,163.2 851.3,163.0 851.7,162.1 852.1,162.3 852.5,163.0 852.9,162.8 853.3,162.0 853.7,162.3 854.1,163.4 854.5,163.2 854.9,162.8 855.3,163.3 855.7,161.7 856.1,162.5 856.5,163.3 856.9,162.4 857.3,161.7 857.7,162.7 858.1,163.7 858.5,161.5 858.9,162.9 859.3,162.0 859.7,162.9 860.1,162.3 860.5,164.8 860.9,162.7 861.3,163.0 861.7,162.7 862.1,162.7 862.5,162.7 862.9,163.0 863.3,163.8 863.7,162.9 864.1,163.8 864.5,161.8 864.9,162.6 865.3,162.5 865.7,162.1 866.1,165.3 866.5,162.9 866.9,163.1 867.3,162.8 867.7,162.7 868.1,162.3 868.5,163.3 868.9,162.0 869.3,161.5 869.7,160.7 870.1,159.0 870.5,159.3 870.9,159.1 871.3,160.0 871.7,160.6 872.1,161.7 872.5,162.5 872.9,163.1 873.3,162.0 873.7,163.3 874.1,162.4 874.5,162.7 874.9,162.7 875.3,162.9 875.7,161.3 876.1,162.5 876.5,162.8 876.9,163.2 877.3,162.3 877.7,163.8 878.1,162.0 878.5,162.9 878.9,163.1 879.3,162.6 879.7,162.9 880.1,163.5 880.5,162.3 880.9,163.2 881.3,163.8 881.7,163.0 882.1,161.8 882.5,162.7 882.9,162.5 883.3,162.6 883.7,163.4 884.1,162.5 884.5,164.5 884.9,163.6 885.3,162.5 885.7,163.4 886.1,164.4 886.5,163.9 886.9,163.0 887.3,164.0 887.7,163.1 888.1,164.5 888.5,162.7 888.9,163.2 889.3,163.2 889.7,162.1 890.1,161.8 890.5,160.9 890.9,158.2 891.3,156.3 891.7,157.3 892.1,160.2 892.5,161.8 892.9,162.4 893.3,162.8 893.7,162.0 894.1,163.4 894.5,163.1 894.9,163.8 895.3,163.0 895.7,163.9 896.1,162.8 896.5,163.9 896.9,162.8 897.3,163.0 897.7,163.5 898.1,163.0 898.5,163.1 898.9,164.2 899.3,164.8 899.7,162.9 900.1,163.9 900.5,164.8 900.9,164.7 901.3,164.0 901.7,164.0 902.1,163.6 902.5,164.8 902.9,163.3 903.3,162.7 903.7,162.7 904.1,162.6 904.5,164.2 904.9,163.3 905.3,164.6 905.7,163.9 906.1,163.5 906.5,163.6 906.9,163.6 907.3,163.5 907.7,162.3 908.1,162.6 908.5,162.6 908.9,163.1 909.3,163.0 909.7,162.6 910.1,163.0 910.5,164.7 910.9,164.9 911.3,163.0 911.7,163.9 912.1,163.5 912.5,163.1 912.9,164.0 913.3,163.4 913.7,164.3 914.1,163.5 914.5,163.1 914.9,161.9 915.3,163.4 915.7,163.9 916.1,162.9 916.5,164.1 916.9,164.1 917.3,162.6 917.7,163.3 918.1,163.5 918.5,164.0 918.9,163.7 919.3,163.6 919.7,163.3 920.1,163.1 920.5,163.3 920.9,162.5 921.3,163.4 921.7,162.8 922.1,163.4 922.5,162.7 922.9,163.4 923.3,163.2 923.7,163.6 924.1,163.5 924.5,163.8 924.9,163.0 925.3,163.0 925.7,163.0 926.1,162.4 926.5,163.4 926.9,164.0 927.3,164.0 927.7,162.9 928.1,163.8 928.5,164.0 928.9,162.9 929.3,164.1 929.7,164.1 930.1,164.2 930.5,164.1 930.9,162.8 931.3,162.5 931.7,164.9 932.1,163.3 932.5,164.5 932.9,164.4 933.3,163.6 933.7,163.1 934.1,164.6 934.5,163.9 934.9,164.3 935.3,164.0 935.7,164.5 936.1,164.6 936.5,163.0 936.9,162.8 937.3,163.6 937.7,163.4 938.1,164.0 938.5,163.7 938.9,163.7 939.3,164.9 939.7,164.9 940.1,164.9 940.5,165.0 940.9,163.9 941.3,164.1 941.7,164.0 942.1,163.7 942.5,163.8 942.9,164.5 943.3,163.6 943.7,164.6 944.1,164.5 944.5,164.3 944.9,163.9 945.3,164.3 945.7,164.1 946.1,163.8 946.5,162.9 946.9,162.8 947.3,165.0 947.7,163.6 948.1,163.7 948.5,162.9 948.9,163.7 949.3,163.7 949.7,164.6 950.1,162.1 950.5,162.9 950.9,163.7 951.3,163.8 951.7,163.4 952.1,163.9 952.5,163.4 952.9,164.6 953.3,165.1 953.7,164.4 954.1,163.7 954.5,164.9 954.9,164.2 955.3,163.1 955.7,163.5 956.1,163.5 956.5,163.8 956.9,164.7 957.3,163.4 957.7,164.0 958.1,164.3 958.5,163.4 958.9,163.8 959.3,164.7 959.7,165.0 960.1,163.5 960.5,164.9 960.9,164.3 961.3,165.1 961.7,164.8 962.1,165.5 962.5,164.6 962.9,164.0 963.3,163.8 963.7,163.3 964.1,164.8 964.5,164.7 964.9,164.7 965.3,164.3 965.7,163.2 966.1,163.8 966.5,163.7 966.9,163.6 967.3,164.1" fill="none" stroke="#0000d8" stroke-width="1.2" stroke-linejoin="round"/>
<polygon points="588.5,219.7 588.9,218.4 589.3,217.1 589.7,217.5 590.1,217.3 590.5,218.4 590.9,218.7 591.3,219.9 591.7,220.2 592.1,220.3 592.5,220.3 592.9,219.9 593.3,220.4 593.7,220.7 594.1,220.0 594.5,219.6 594.9,219.5 595.3,219.5 595.7,219.7 596.1,219.1 596.5,219.1 596.9,218.3 597.3,218.1 597.7,217.8 598.1,219.4 598.5,219.8 598.9,220.6 599.3,219.5 599.7,219.7 600.1,219.2 600.5,220.2 600.9,219.5 601.3,219.9 601.7,219.7 602.1,220.9 602.5,220.1 602.9,218.9 603.3,217.5 603.7,218.4 604.1,219.2 604.5,220.4 604.9,219.4 605.3,219.7 605.7,220.3 606.1,220.7 606.5,219.9 606.9,219.6 607.3,219.6 607.7,220.3 608.1,219.6 608.5,219.7 608.9,219.0 609.3,219.2 609.7,219.0 610.1,218.9 610.5,219.6 610.9,219.6 611.3,219.5 611.7,218.9 612.1,218.3 612.5,218.5 612.9,218.7 613.3,220.0 613.7,219.5 614.1,218.9 614.5,217.5 614.9,216.9 615.3,218.3 615.7,218.4 616.1,218.1 616.5,218.7 616.9,218.7 617.3,219.2 617.7,218.3 618.1,218.0 618.5,217.9 618.9,218.1 619.3,217.7 619.7,217.0 620.1,217.7 620.5,218.1 620.9,217.8 621.3,217.8 621.7,218.2 622.1,218.6 622.5,218.1 622.9,217.3 623.3,218.7 623.7,218.7 624.1,219.4 624.5,218.3 624.9,218.8 625.3,216.9 625.7,217.1 626.1,216.7 626.5,217.6 626.9,217.2 627.3,216.5 627.7,215.5 628.1,215.9 628.5,216.3 628.9,217.1 629.3,216.9 629.7,216.8 630.1,216.6 630.5,217.7 630.9,217.1 631.3,217.1 631.7,215.8 632.1,215.9 632.5,215.7 632.9,216.1 633.3,217.1 633.7,217.6 634.1,218.5 634.5,218.5 634.9,218.2 635.3,217.0 635.7,216.9 636.1,217.1 636.5,217.3 636.9,217.5 637.3,216.4 637.7,216.1 638.1,215.3 638.5,215.3 638.9,216.0 639.3,215.3 639.7,215.6 640.1,214.4 640.5,214.6 640.9,214.8 641.3,215.7 641.7,215.9 642.1,215.9 642.5,215.3 642.9,214.2 643.3,213.9 643.7,214.7 644.1,215.2 644.5,214.5 644.9,215.1 645.3,214.8 645.7,215.4 646.1,214.7 646.5,215.6 646.9,215.3 647.3,214.7 647.7,215.1 648.1,214.9 648.5,215.6 648.9,214.4 649.3,214.3 649.7,213.8 650.1,213.9 650.5,214.3 650.9,213.1 651.3,213.3 651.7,213.0 652.1,213.8 652.5,213.7 652.9,214.6 653.3,215.9 653.7,215.8 654.1,215.0 654.5,214.2 654.9,214.7 655.3,214.3 655.7,214.3 656.1,214.0 656.5,213.7 656.9,213.9 657.3,214.0 657.7,213.5 658.1,213.8 658.5,213.1 658.9,213.8 659.3,213.1 659.7,212.8 660.1,212.6 660.5,214.2 660.9,214.7 661.3,214.3 661.7,213.9 662.1,213.8 662.5,214.0 662.9,213.3 663.3,212.8 663.7,212.0 664.1,211.9 664.5,212.2 664.9,213.6 665.3,214.6 665.7,214.2 666.1,214.0 666.5,212.0 666.9,212.0 667.3,211.2 667.7,212.5 668.1,211.9 668.5,212.2 668.9,211.2 669.3,212.1 669.7,212.9 670.1,212.9 670.5,213.8 670.9,213.4 671.3,213.4 671.7,212.5 672.1,212.6 672.5,213.3 672.9,213.6 673.3,214.4 673.7,214.3 674.1,214.1 674.5,213.6 674.9,213.1 675.3,213.1 675.7,212.3 676.1,211.3 676.5,209.5 676.9,204.7 677.3,198.0 677.7,192.4 678.1,191.2 678.5,195.2 678.9,202.3 679.3,208.4 679.7,212.1 680.1,214.1 680.5,215.1 680.9,215.4 681.3,215.8 681.7,215.8 682.1,216.0 682.5,216.3 682.9,216.1 683.3,215.6 683.7,214.8 684.1,215.0 684.5,214.4 684.9,215.2 685.3,214.3 685.7,215.3 686.1,215.1 686.5,216.7 686.9,216.6 687.3,217.0 687.7,215.3 688.1,215.4 688.5,215.0 688.9,215.2 689.3,215.2 689.7,214.8 690.1,215.7 690.5,216.0 690.9,216.0 691.3,215.5 691.7,215.2 692.1,215.7 692.5,215.4 692.9,215.2 693.3,215.1 693.7,215.1 694.1,215.0 694.5,215.6 694.9,215.9 695.3,215.7 695.7,215.3 696.1,215.6 696.5,216.4 696.9,216.8 697.3,216.7 697.7,216.8 698.1,216.4 698.5,215.9 698.9,216.0 699.3,216.0 699.7,216.4 700.1,216.6 700.5,217.2 700.9,217.8 701.3,217.1 701.7,216.3 702.1,216.1 702.5,215.8 702.9,215.3 703.3,215.4 703.7,215.9 704.1,216.2 704.5,216.7 704.9,217.2 705.3,218.1 705.7,217.8 706.1,217.4 706.5,216.7 706.9,217.1 707.3,216.1 707.7,216.0 708.1,216.1 708.5,216.4 708.9,216.6 709.3,216.6 709.7,217.0 710.1,216.7 710.5,216.1 710.9,217.2 711.3,217.2 711.7,218.5 712.1,216.3 712.5,216.8 712.9,216.0 713.3,217.5 713.7,218.3 714.1,218.4 714.5,218.1 714.9,216.9 715.3,215.9 715.7,216.2 716.1,216.9 716.5,215.1 716.9,212.7 717.3,210.7 717.7,210.3 718.1,211.6 718.5,213.7 718.9,215.7 719.3,217.2 719.7,217.7 720.1,218.7 720.5,218.5 720.9,219.0 721.3,217.9 721.7,217.3 722.1,216.9 722.5,217.7 722.9,216.9 723.3,216.4 723.7,216.3 724.1,217.5 724.5,217.6 724.9,218.6 725.3,218.3 725.7,219.4 726.1,218.8 726.5,218.9 726.9,218.2 727.3,217.5 727.7,218.0 728.1,218.7 728.5,219.8 728.9,218.9 729.3,218.0 729.7,217.4 730.1,217.3 730.5,217.8 730.9,218.2 731.3,217.9 731.7,218.0 732.1,217.8 732.5,218.5 732.9,219.6 733.3,219.6 733.7,218.8 734.1,217.6 734.5,216.9 734.9,217.3 735.3,218.0 735.7,218.4 736.1,218.2 736.5,218.1 736.9,217.9 737.3,218.6 737.7,219.1 738.1,218.9 738.5,218.0 738.9,218.8 739.3,217.8 739.7,214.9 740.1,210.9 740.5,208.2 740.9,209.1 741.3,212.9 741.7,216.4 742.1,218.8 742.5,218.6 742.9,218.7 743.3,219.2 743.7,220.3 744.1,220.7 744.5,220.4 744.9,220.6 745.3,220.6 745.7,221.1 746.1,219.8 746.5,218.7 746.9,218.3 747.3,218.7 747.7,219.1 748.1,218.3 748.5,219.2 748.9,218.5 749.3,219.6 749.7,218.1 750.1,218.6 750.5,219.4 750.9,220.8 751.3,220.9 751.7,219.6 752.1,219.0 752.5,218.9 752.9,218.6 753.3,217.9 753.7,217.7 754.1,217.8 754.5,218.3 754.9,218.3 755.3,218.6 755.7,218.1 756.1,218.5 756.5,219.4 756.9,219.5 757.3,220.3 757.7,220.5 758.1,221.0 758.5,221.0 758.9,220.6 759.3,220.2 759.7,219.5 760.1,218.9 760.5,217.8 760.9,218.2 761.3,217.6 761.7,217.9 762.1,216.8 762.5,217.9 762.9,217.7 763.3,218.6 763.7,218.4 764.1,218.9 764.5,218.7 764.9,217.9 765.3,218.1 765.7,218.0 766.1,218.8 766.5,219.0 766.9,220.2 767.3,220.6 767.7,221.3 768.1,220.4 768.5,220.1 768.9,220.1 769.3,221.1 769.7,220.1 770.1,219.3 770.5,218.8 770.9,219.0 771.3,219.4 771.7,219.6 772.1,218.9 772.5,218.2 772.9,219.2 773.3,219.2 773.7,219.7 774.1,218.9 774.5,219.9 774.9,220.1 775.3,219.4 775.7,218.6 776.1,218.2 776.5,220.1 776.9,220.7 777.3,221.2 777.7,220.2 778.1,220.6 778.5,220.7 778.9,220.5 779.3,220.1 779.7,220.5 780.1,220.8 780.5,220.8 780.9,220.2 781.3,219.4 781.7,220.1 782.1,220.3 782.5,221.1 782.9,221.1 783.3,220.3 783.7,220.0 784.1,220.4 784.5,221.1 784.9,221.3 785.3,220.4 785.7,219.6 786.1,218.8 786.5,218.9 786.9,219.1 787.3,219.0 787.7,219.7 788.1,219.3 788.5,220.3 788.9,220.0 789.3,220.2 789.7,219.1 790.1,219.3 790.5,219.7 790.9,220.6 791.3,220.9 791.7,221.1 792.1,220.5 792.5,219.9 792.9,218.3 793.3,218.7 793.7,219.3 794.1,219.8 794.5,220.3 794.9,218.8 795.3,219.2 795.7,219.6 796.1,221.1 796.5,221.6 796.9,221.3 797.3,221.4 797.7,220.2 798.1,219.0 798.5,219.1 798.9,221.6 799.3,222.1 799.7,221.6 800.1,220.7 800.5,220.4 800.9,220.2 801.3,219.9 801.7,219.7 802.1,220.4 802.5,220.8 802.9,221.2 803.3,221.4 803.7,220.4 804.1,220.6 804.5,219.2 804.9,219.7 805.3,219.4 805.7,220.4 806.1,221.1 806.5,220.3 806.9,219.9 807.3,218.7 807.7,219.4 808.1,220.3 808.5,220.7 808.9,220.7 809.3,220.2 809.7,219.7 810.1,219.4 810.5,218.9 810.9,219.3 811.3,219.3 811.7,220.4 812.1,220.0 812.5,220.0 812.9,219.4 813.3,219.7 813.7,219.4 814.1,217.0 814.5,213.8 814.9,211.4 815.3,212.3 815.7,215.3 816.1,218.5 816.5,219.9 816.9,219.5 817.3,219.3 817.7,219.4 818.1,219.3 818.5,219.5 818.9,219.8 819.3,220.2 819.7,219.4 820.1,219.3 820.5,219.4 820.9,219.6 821.3,219.7 821.7,220.2 822.1,220.6 822.5,220.4 822.9,220.8 823.3,219.7 823.7,219.9 824.1,220.0 824.5,222.0 824.9,222.1 825.3,221.4 825.7,220.0 826.1,219.1 826.5,219.2 826.9,219.2 827.3,219.4 827.7,220.3 828.1,220.1 828.5,221.2 828.9,221.2 829.3,221.2 829.7,220.9 830.1,220.3 830.5,219.0 830.9,219.5 831.3,219.6 831.7,220.4 832.1,220.5 832.5,220.7 832.9,219.8 833.3,218.9 833.7,218.6 834.1,219.9 834.5,219.5 834.9,219.7 835.3,218.8 835.7,220.1 836.1,218.9 836.5,218.8 836.9,219.3 837.3,219.5 837.7,220.0 838.1,219.7 838.5,221.0 838.9,221.4 839.3,220.8 839.7,219.5 840.1,218.6 840.5,218.5 840.9,218.5 841.3,219.5 841.7,219.9 842.1,220.4 842.5,219.8 842.9,219.7 843.3,219.7 843.7,219.9 844.1,221.1 844.5,222.2 844.9,222.2 845.3,221.9 845.7,219.9 846.1,219.4 846.5,220.1 846.9,220.8 847.3,220.9 847.7,220.2 848.1,220.5 848.5,219.9 848.9,219.3 849.3,219.8 849.7,219.9 850.1,221.0 850.5,221.4 850.9,221.6 851.3,222.2 851.7,221.5 852.1,221.6 852.5,220.1 852.9,219.8 853.3,219.8 853.7,219.7 854.1,220.5 854.5,220.2 854.9,219.4 855.3,218.7 855.7,219.2 856.1,220.2 856.5,220.0 856.9,220.7 857.3,219.9 857.7,220.2 858.1,219.4 858.5,220.3 858.9,220.5 859.3,220.8 859.7,220.2 860.1,220.1 860.5,220.2 860.9,220.2 861.3,220.1 861.7,219.4 862.1,219.2 862.5,219.8 862.9,221.5 863.3,222.0 863.7,220.5 864.1,220.6 864.5,220.5 864.9,222.6 865.3,221.6 865.7,222.2 866.1,220.5 866.5,221.4 866.9,221.8 867.3,221.5 867.7,221.4 868.1,222.3 868.5,222.5 868.9,221.5 869.3,220.3 869.7,220.0 870.1,219.8 870.5,219.1 870.9,219.5 871.3,219.5 871.7,220.1 872.1,220.0 872.5,220.7 872.9,220.5 873.3,219.7 873.7,220.3 874.1,219.1 874.5,219.6 874.9,219.8 875.3,220.0 875.7,220.4 876.1,220.6 876.5,221.4 876.9,221.9 877.3,221.9 877.7,221.0 878.1,219.9 878.5,220.5 878.9,221.4 879.3,221.2 879.7,221.0 880.1,220.2 880.5,221.7 880.9,221.3 881.3,221.2 881.7,220.9 882.1,220.7 882.5,221.5 882.9,221.4 883.3,221.1 883.7,220.9 884.1,221.6 884.5,222.0 884.9,221.7 885.3,222.1 885.7,222.0 886.1,222.0 886.5,221.2 886.9,220.8 887.3,219.9 887.7,219.8 888.1,219.0 888.5,220.0 888.9,220.1 889.3,221.7 889.7,222.2 890.1,221.8 890.5,221.4 890.9,220.8 891.3,220.3 891.7,220.1 892.1,219.9 892.5,220.1 892.9,220.7 893.3,221.2 893.7,220.8 894.1,219.9 894.5,220.2 894.9,221.2 895.3,220.9 895.7,220.8 896.1,219.7 896.5,221.1 896.9,221.8 897.3,222.2 897.7,220.6 898.1,219.8 898.5,219.2 898.9,219.8 899.3,219.8 899.7,220.0 900.1,220.7 900.5,221.4 900.9,221.5 901.3,219.9 901.7,219.8 902.1,219.5 902.5,220.1 902.9,219.6 903.3,219.4 903.7,219.1 904.1,219.3 904.5,218.7 904.9,219.3 905.3,219.9 905.7,220.4 906.1,220.6 906.5,219.5 906.9,220.3 907.3,220.2 907.7,220.7 908.1,220.9 908.5,220.1 908.9,220.3 909.3,220.8 909.7,221.3 910.1,220.8 910.5,220.7 910.9,221.0 911.3,221.4 911.7,220.1 912.1,219.0 912.5,218.3 912.9,219.9 913.3,220.6 913.7,221.0 914.1,220.6 914.5,221.0 914.9,221.0 915.3,220.8 915.7,219.4 916.1,220.2 916.5,220.9 916.9,221.2 917.3,220.9 917.7,219.9 918.1,220.6 918.5,220.7 918.9,221.0 919.3,221.5 919.7,221.5 920.1,222.1 920.5,222.0 920.9,222.1 921.3,221.1 921.7,221.0 922.1,220.2 922.5,220.2 922.9,220.8 923.3,221.2 923.7,221.8 924.1,219.9 924.5,219.7 924.9,220.3 925.3,221.4 925.7,221.3 926.1,221.5 926.5,221.4 926.9,221.6 927.3,220.6 927.7,220.3 928.1,220.9 928.5,221.2 928.9,221.4 929.3,220.7 929.7,220.4 930.1,221.6 930.5,221.6 930.9,221.9 931.3,220.6 931.7,220.8 932.1,220.8 932.5,222.0 932.9,222.0 933.3,222.0 933.7,221.8 934.1,222.0 934.5,222.9 934.9,222.9 935.3,221.9 935.7,221.2 936.1,221.1 936.5,221.5 936.9,221.4 937.3,221.4 937.7,220.8 938.1,220.5 938.5,220.0 938.9,220.0 939.3,219.6 939.7,220.4 940.1,220.3 940.5,220.7 940.9,219.9 941.3,219.6 941.7,219.6 942.1,219.7 942.5,219.9 942.9,220.7 943.3,220.3 943.7,220.8 944.1,221.1 944.5,222.2 944.9,222.1 945.3,221.8 945.7,222.2 946.1,221.7 946.5,220.9 946.9,220.1 947.3,220.6 947.7,220.8 948.1,220.1 948.5,220.7 948.9,221.2 949.3,222.2 949.7,221.0 950.1,220.3 950.5,219.9 950.9,220.8 951.3,221.2 951.7,220.4 952.1,219.6 952.5,219.8 952.9,220.5 953.3,219.8 953.7,219.8 954.1,219.7 954.5,220.6 954.9,220.9 955.3,221.6 955.7,221.0 956.1,220.0 956.5,218.7 956.9,219.0 957.3,220.5 957.7,222.0 958.1,221.7 958.5,220.5 958.9,220.1 959.3,220.2 959.7,221.8 960.1,221.9 960.5,221.4 960.9,220.3 961.3,221.1 961.7,221.8 962.1,221.2 962.5,221.3 962.9,220.7 963.3,220.8 963.7,219.5 964.1,219.5 964.5,221.4 964.9,223.3 965.3,223.3 965.7,221.6 966.1,220.6 966.5,221.3 966.9,221.4 967.3,220.3 967.3,225.9 966.9,226.3 966.5,226.4 966.1,226.3 965.7,226.5 965.3,225.9 964.9,225.5 964.5,226.1 964.1,226.6 963.7,226.9 963.3,227.1 962.9,227.9 962.5,228.0 962.1,227.7 961.7,227.0 961.3,226.4 960.9,224.2 960.5,225.4 960.1,225.0 959.7,226.4 959.3,225.9 958.9,226.3 958.5,226.2 958.1,225.6 957.7,225.5 957.3,225.2 956.9,225.6 956.5,226.7 956.1,226.7 955.7,226.0 955.3,225.5 954.9,225.0 954.5,225.7 954.1,226.3 953.7,226.6 953.3,225.9 952.9,225.6 952.5,225.1 952.1,225.0 951.7,225.2 951.3,226.2 950.9,226.3 950.5,225.6 950.1,225.5 949.7,226.0 949.3,226.7 948.9,226.2 948.5,225.0 948.1,225.7 947.7,226.2 947.3,226.3 946.9,225.0 946.5,224.6 946.1,225.5 945.7,225.9 945.3,225.8 944.9,225.3 944.5,225.1 944.1,225.3 943.7,224.9 943.3,225.0 942.9,224.5 942.5,225.4 942.1,224.7 941.7,225.1 941.3,224.2 940.9,224.0 940.5,224.8 940.1,224.2 939.7,225.4 939.3,223.8 938.9,223.3 938.5,222.6 938.1,225.0 937.7,225.6 937.3,226.5 936.9,225.9 936.5,226.7 936.1,227.6 935.7,227.3 935.3,227.0 934.9,226.7 934.5,225.9 934.1,225.7 933.7,225.6 933.3,226.7 932.9,226.9 932.5,226.5 932.1,224.8 931.7,225.1 931.3,226.4 930.9,226.1 930.5,225.4 930.1,224.5 929.7,224.7 929.3,224.8 928.9,225.3 928.5,225.6 928.1,225.2 927.7,225.1 927.3,224.7 926.9,226.6 926.5,225.9 926.1,226.1 925.7,226.3 925.3,226.6 924.9,226.4 924.5,224.0 924.1,224.9 923.7,224.8 923.3,226.9 922.9,225.9 922.5,226.7 922.1,225.9 921.7,226.1 921.3,225.3 920.9,226.0 920.5,227.2 920.1,226.7 919.7,225.0 919.3,223.6 918.9,224.5 918.5,224.6 918.1,225.1 917.7,224.8 917.3,226.1 916.9,226.2 916.5,226.2 916.1,224.9 915.7,224.1 915.3,224.2 914.9,224.9 914.5,225.1 914.1,224.7 913.7,225.6 913.3,224.7 912.9,225.6 912.5,225.5 912.1,227.3 911.7,227.2 911.3,226.6 910.9,226.3 910.5,225.0 910.1,224.3 909.7,224.1 909.3,224.7 908.9,224.2 908.5,223.9 908.1,223.9 907.7,225.1 907.3,225.0 906.9,224.3 906.5,224.4 906.1,223.5 905.7,225.4 905.3,224.5 904.9,225.2 904.5,224.3 904.1,224.2 903.7,225.2 903.3,225.4 902.9,225.7 902.5,226.1 902.1,225.0 901.7,226.3 901.3,225.3 900.9,226.8 900.5,226.0 900.1,225.8 899.7,225.2 899.3,225.9 898.9,225.4 898.5,225.4 898.1,224.9 897.7,225.9 897.3,226.3 896.9,226.4 896.5,226.1 896.1,225.6 895.7,225.8 895.3,225.8 894.9,225.8 894.5,224.7 894.1,225.2 893.7,224.6 893.3,225.3 892.9,224.4 892.5,225.7 892.1,225.4 891.7,225.6 891.3,225.6 890.9,226.7 890.5,227.1 890.1,227.9 889.7,227.0 889.3,226.6 888.9,226.0 888.5,226.7 888.1,226.9 887.7,226.5 887.3,226.6 886.9,226.2 886.5,226.3 886.1,226.0 885.7,225.6 885.3,225.6 884.9,225.4 884.5,225.5 884.1,225.9 883.7,225.0 883.3,225.3 882.9,225.7 882.5,226.3 882.1,225.9 881.7,226.4 881.3,226.6 880.9,226.8 880.5,226.6 880.1,225.4 879.7,224.3 879.3,223.0 878.9,223.5 878.5,223.9 878.1,225.1 877.7,225.1 877.3,225.4 876.9,224.9 876.5,225.9 876.1,226.2 875.7,225.2 875.3,224.7 874.9,225.0 874.5,224.6 874.1,223.5 873.7,223.7 873.3,223.5 872.9,223.8 872.5,223.2 872.1,223.7 871.7,224.4 871.3,226.1 870.9,225.3 870.5,225.0 870.1,223.5 869.7,225.1 869.3,225.8 868.9,226.4 868.5,225.9 868.1,225.7 867.7,226.4 867.3,226.5 866.9,225.8 866.5,224.6 866.1,225.3 865.7,225.8 865.3,225.9 864.9,225.7 864.5,225.7 864.1,225.2 863.7,224.7 863.3,224.5 862.9,224.2 862.5,224.5 862.1,225.2 861.7,226.7 861.3,226.0 860.9,226.2 860.5,226.0 860.1,226.5 859.7,226.1 859.3,225.9 858.9,224.2 858.5,223.8 858.1,223.1 857.7,223.9 857.3,224.0 856.9,223.9 856.5,225.4 856.1,225.8 855.7,226.2 855.3,225.9 854.9,225.5 854.5,225.2 854.1,224.2 853.7,224.1 853.3,224.6 852.9,224.9 852.5,224.9 852.1,226.0 851.7,225.8 851.3,226.2 850.9,225.7 850.5,226.3 850.1,225.1 849.7,224.8 849.3,223.9 848.9,225.0 848.5,224.3 848.1,223.5 847.7,222.5 847.3,223.4 846.9,224.7 846.5,225.6 846.1,224.5 845.7,224.5 845.3,223.8 844.9,224.2 844.5,224.1 844.1,223.5 843.7,223.7 843.3,223.3 842.9,224.4 842.5,224.5 842.1,225.7 841.7,225.2 841.3,225.1 840.9,224.5 840.5,224.2 840.1,224.9 839.7,226.1 839.3,226.6 838.9,226.8 838.5,225.6 838.1,225.3 837.7,224.7 837.3,225.6 836.9,225.5 836.5,225.1 836.1,223.9 835.7,223.7 835.3,224.5 834.9,224.9 834.5,225.3 834.1,225.1 833.7,225.7 833.3,226.0 832.9,226.0 832.5,225.6 832.1,226.2 831.7,225.9 831.3,226.3 830.9,226.6 830.5,226.2 830.1,224.6 829.7,223.6 829.3,223.5 828.9,224.4 828.5,224.5 828.1,224.3 827.7,225.3 827.3,224.7 826.9,225.0 826.5,224.2 826.1,225.8 825.7,226.1 825.3,225.1 824.9,223.4 824.5,223.1 824.1,223.2 823.7,223.9 823.3,224.7 822.9,225.3 822.5,224.0 822.1,223.6 821.7,223.4 821.3,224.4 820.9,224.8 820.5,225.1 820.1,225.5 819.7,225.4 819.3,226.4 818.9,225.5 818.5,225.3 818.1,224.8 817.7,225.5 817.3,224.7 816.9,224.3 816.5,224.4 816.1,225.4 815.7,225.8 815.3,225.8 814.9,224.9 814.5,224.1 814.1,223.7 813.7,223.9 813.3,224.7 812.9,224.0 812.5,224.5 812.1,225.2 811.7,227.0 811.3,227.2 810.9,225.6 810.5,224.6 810.1,223.9 809.7,225.3 809.3,224.7 808.9,223.8 808.5,223.5 808.1,223.7 807.7,225.1 807.3,224.9 806.9,225.4 806.5,224.3 806.1,224.1 805.7,223.5 805.3,224.8 804.9,225.2 804.5,225.5 804.1,223.7 803.7,222.5 803.3,222.2 802.9,223.3 802.5,224.1 802.1,224.4 801.7,223.8 801.3,224.3 800.9,224.4 800.5,224.1 800.1,223.7 799.7,224.0 799.3,224.5 798.9,225.3 798.5,224.1 798.1,223.2 797.7,223.4 797.3,222.8 796.9,224.2 796.5,223.6 796.1,224.9 795.7,223.8 795.3,223.6 794.9,223.3 794.5,223.3 794.1,224.2 793.7,224.3 793.3,225.0 792.9,223.5 792.5,223.6 792.1,223.8 791.7,225.6 791.3,225.4 790.9,225.7 790.5,224.7 790.1,225.3 789.7,224.9 789.3,225.7 788.9,225.8 788.5,225.0 788.1,224.6 787.7,224.0 787.3,224.3 786.9,224.6 786.5,225.6 786.1,225.1 785.7,224.8 785.3,223.8 784.9,225.4 784.5,224.5 784.1,224.2 783.7,223.3 783.3,223.8 782.9,224.3 782.5,223.7 782.1,223.5 781.7,224.1 781.3,224.1 780.9,223.1 780.5,223.4 780.1,223.8 779.7,224.5 779.3,223.7 778.9,223.5 778.5,224.3 778.1,224.4 777.7,224.5 777.3,224.3 776.9,224.7 776.5,224.9 776.1,224.6 775.7,224.7 775.3,224.3 774.9,225.0 774.5,224.2 774.1,223.7 773.7,222.5 773.3,223.8 772.9,223.5 772.5,223.9 772.1,222.5 771.7,224.6 771.3,225.4 770.9,224.6 770.5,223.4 770.1,223.4 769.7,224.3 769.3,225.4 768.9,225.7 768.5,225.5 768.1,225.5 767.7,224.0 767.3,225.7 766.9,225.9 766.5,226.2 766.1,225.0 765.7,225.5 765.3,225.2 764.9,224.4 764.5,223.1 764.1,221.5 763.7,221.4 763.3,221.9 762.9,223.4 762.5,222.9 762.1,222.8 761.7,222.8 761.3,223.5 760.9,223.6 760.5,223.6 760.1,223.6 759.7,224.2 759.3,224.6 758.9,225.0 758.5,223.7 758.1,224.3 757.7,224.6 757.3,225.5 756.9,225.1 756.5,223.8 756.1,223.2 755.7,224.1 755.3,225.3 754.9,225.0 754.5,224.3 754.1,223.9 753.7,224.7 753.3,224.7 752.9,224.5 752.5,224.2 752.1,222.9 751.7,222.6 751.3,222.7 750.9,223.1 750.5,224.0 750.1,224.1 749.7,224.4 749.3,224.5 748.9,224.7 748.5,224.2 748.1,224.6 747.7,223.4 747.3,224.1 746.9,223.8 746.5,224.2 746.1,225.0 745.7,224.1 745.3,223.6 744.9,223.6 744.5,223.9 744.1,224.3 743.7,223.3 743.3,223.0 742.9,222.8 742.5,223.4 742.1,224.0 741.7,223.3 741.3,223.8 740.9,223.3 740.5,224.0 740.1,224.2 739.7,223.6 739.3,223.4 738.9,224.0 738.5,224.0 738.1,223.7 737.7,222.3 737.3,222.5 736.9,223.0 736.5,223.6 736.1,224.2 735.7,223.7 735.3,224.3 734.9,223.5 734.5,223.2 734.1,223.1 733.7,222.9 733.3,222.3 732.9,222.7 732.5,224.2 732.1,225.2 731.7,224.1 731.3,222.6 730.9,222.2 730.5,222.8 730.1,222.0 729.7,223.4 729.3,224.1 728.9,225.4 728.5,224.0 728.1,223.6 727.7,222.9 727.3,223.4 726.9,222.0 726.5,222.4 726.1,221.8 725.7,221.6 725.3,220.7 724.9,220.7 724.5,221.4 724.1,222.1 723.7,222.2 723.3,221.8 722.9,220.4 722.5,221.1 722.1,221.8 721.7,222.6 721.3,221.9 720.9,220.8 720.5,221.0 720.1,220.6 719.7,221.3 719.3,222.1 718.9,222.9 718.5,223.0 718.1,222.7 717.7,222.0 717.3,221.0 716.9,219.6 716.5,220.0 716.1,220.3 715.7,220.1 715.3,220.3 714.9,220.3 714.5,221.0 714.1,221.4 713.7,221.9 713.3,223.0 712.9,223.1 712.5,222.7 712.1,221.3 711.7,221.2 711.3,221.3 710.9,221.9 710.5,222.2 710.1,222.3 709.7,222.4 709.3,221.8 708.9,220.6 708.5,219.9 708.1,221.2 707.7,222.7 707.3,222.7 706.9,222.2 706.5,221.9 706.1,221.7 705.7,222.2 705.3,221.2 704.9,222.5 704.5,223.0 704.1,222.0 703.7,221.1 703.3,219.9 702.9,220.6 702.5,222.1 702.1,221.7 701.7,220.9 701.3,219.3 700.9,220.2 700.5,221.0 700.1,222.1 699.7,221.7 699.3,220.6 698.9,220.1 698.5,220.4 698.1,221.0 697.7,220.9 697.3,220.3 696.9,220.0 696.5,219.7 696.1,219.8 695.7,221.2 695.3,221.5 694.9,222.1 694.5,222.0 694.1,221.7 693.7,221.2 693.3,220.6 692.9,220.4 692.5,221.1 692.1,220.4 691.7,220.0 691.3,219.8 690.9,221.4 690.5,221.2 690.1,221.8 689.7,221.2 689.3,222.5 688.9,222.4 688.5,223.0 688.1,221.7 687.7,220.8 687.3,219.2 686.9,218.7 686.5,218.2 686.1,219.6 685.7,219.9 685.3,220.2 684.9,219.1 684.5,219.8 684.1,219.3 683.7,219.6 683.3,219.4 682.9,219.7 682.5,220.5 682.1,220.1 681.7,219.2 681.3,218.8 680.9,218.4 680.5,218.6 680.1,218.8 679.7,219.0 679.3,219.8 678.9,219.1 678.5,218.2 678.1,219.1 677.7,218.2 677.3,218.4 676.9,217.4 676.5,219.0 676.1,219.1 675.7,219.2 675.3,217.5 674.9,217.1 674.5,217.3 674.1,218.1 673.7,218.3 673.3,217.8 672.9,217.3 672.5,217.1 672.1,216.6 671.7,217.7 671.3,218.2 670.9,219.7 670.5,219.7 670.1,218.7 669.7,218.2 669.3,217.8 668.9,219.2 668.5,218.7 668.1,218.9 667.7,217.8 667.3,218.6 666.9,217.9 666.5,218.6 666.1,218.8 665.7,218.3 665.3,217.8 664.9,217.6 664.5,217.4 664.1,218.1 663.7,218.6 663.3,219.3 662.9,218.5 662.5,217.6 662.1,218.5 661.7,219.0 661.3,218.6 660.9,217.9 660.5,217.9 660.1,218.2 659.7,218.2 659.3,218.4 658.9,218.0 658.5,217.3 658.1,217.6 657.7,219.0 657.3,219.6 656.9,220.8 656.5,219.0 656.1,220.1 655.7,218.3 655.3,219.0 654.9,218.5 654.5,218.4 654.1,217.7 653.7,218.1 653.3,219.3 652.9,219.0 652.5,218.3 652.1,217.8 651.7,218.6 651.3,219.8 650.9,220.0 650.5,220.4 650.1,220.5 649.7,219.6 649.3,219.8 648.9,219.9 648.5,220.3 648.1,220.3 647.7,220.6 647.3,220.0 646.9,219.6 646.5,219.1 646.1,220.3 645.7,220.7 645.3,219.9 644.9,220.0 644.5,220.0 644.1,221.0 643.7,219.5 643.3,218.7 642.9,219.8 642.5,220.8 642.1,221.8 641.7,220.3 641.3,218.9 640.9,218.8 640.5,219.2 640.1,221.0 639.7,221.2 639.3,222.4 638.9,222.1 638.5,222.2 638.1,221.4 637.7,221.1 637.3,220.3 636.9,219.6 636.5,221.1 636.1,220.7 635.7,221.8 635.3,220.9 634.9,221.8 634.5,221.9 634.1,222.1 633.7,221.8 633.3,221.7 632.9,222.1 632.5,221.6 632.1,220.9 631.7,220.4 631.3,220.0 630.9,221.1 630.5,221.5 630.1,222.9 629.7,222.8 629.3,223.3 628.9,222.6 628.5,221.3 628.1,221.2 627.7,222.1 627.3,222.8 626.9,222.6 626.5,221.5 626.1,221.9 625.7,221.9 625.3,222.7 624.9,222.4 624.5,222.8 624.1,222.1 623.7,221.7 623.3,220.8 622.9,222.6 622.5,223.3 622.1,223.9 621.7,222.5 621.3,222.7 620.9,222.8 620.5,223.2 620.1,223.3 619.7,223.1 619.3,223.5 618.9,223.9 618.5,224.1 618.1,223.1 617.7,222.2 617.3,222.0 616.9,222.8 616.5,222.7 616.1,222.4 615.7,223.1 615.3,224.3 614.9,224.6 614.5,224.5 614.1,223.9 613.7,223.7 613.3,223.0 612.9,223.3 612.5,222.5 612.1,223.4 611.7,224.6 611.3,224.7 610.9,224.7 610.5,223.6 610.1,223.7 609.7,223.8 609.3,222.7 608.9,222.6 608.5,223.0 608.1,224.0 607.7,223.9 607.3,223.9 606.9,223.6 606.5,223.7 606.1,223.7 605.7,224.6 605.3,225.0 604.9,225.2 604.5,224.7 604.1,224.4 603.7,224.2 603.3,224.1 602.9,223.5 602.5,223.7 602.1,224.3 601.7,224.1 601.3,224.9 600.9,224.9 600.5,224.4 600.1,223.5 599.7,222.3 599.3,221.7 598.9,221.9 598.5,223.5 598.1,224.8 597.7,224.9 597.3,224.5 596.9,224.1 596.5,224.3 596.1,225.0 595.7,225.9 595.3,225.3 594.9,224.0 594.5,223.3 594.1,223.6 593.7,224.9 593.3,224.4 592.9,224.1 592.5,223.5 592.1,224.1 591.7,224.6 591.3,225.3 590.9,225.9 590.5,224.4 590.1,223.2 589.7,222.8 589.3,223.0 588.9,223.5 588.5,223.3" fill="#e00000"/>
<polyline points="588.5,221.9 588.9,222.9 589.3,221.6 589.7,222.0 590.1,222.7 590.5,222.2 590.9,221.4 591.3,221.3 591.7,220.4 592.1,222.1 592.5,222.4 592.9,222.7 593.3,222.3 593.7,223.5 594.1,222.5 594.5,220.6 594.9,221.2 595.3,222.0 595.7,221.4 596.1,222.2 596.5,223.1 596.9,221.0 597.3,223.0 597.7,221.6 598.1,221.2 598.5,222.1 598.9,222.6 599.3,221.6 599.7,223.0 600.1,221.4 600.5,221.7 600.9,222.2 601.3,221.6 601.7,221.0 602.1,221.5 602.5,221.8 602.9,222.5 603.3,222.4 603.7,222.7 604.1,221.6 604.5,220.8 604.9,221.8 605.3,221.5 605.7,221.1 606.1,221.5 606.5,221.5 606.9,221.5 607.3,221.8 607.7,220.7 608.1,222.0 608.5,221.5 608.9,222.1 609.3,222.6 609.7,221.2 610.1,222.8 610.5,221.6 610.9,222.3 611.3,222.4 611.7,222.4 612.1,220.7 612.5,221.3 612.9,222.2 613.3,221.3 613.7,221.0 614.1,221.2 614.5,221.9 614.9,220.6 615.3,220.6 615.7,220.4 616.1,220.6 616.5,220.7 616.9,221.0 617.3,220.5 617.7,219.5 618.1,219.6 618.5,220.7 618.9,220.7 619.3,219.3 619.7,220.7 620.1,218.8 620.5,221.6 620.9,220.5 621.3,219.3 621.7,220.5 622.1,220.3 622.5,220.0 622.9,219.9 623.3,220.0 623.7,220.0 624.1,219.5 624.5,219.7 624.9,220.6 625.3,220.5 625.7,219.4 626.1,219.7 626.5,220.9 626.9,220.3 627.3,220.8 627.7,218.7 628.1,218.9 628.5,218.3 628.9,218.6 629.3,219.5 629.7,218.9 630.1,219.0 630.5,219.3 630.9,219.4 631.3,219.9 631.7,219.5 632.1,218.1 632.5,220.1 632.9,218.9 633.3,218.5 633.7,219.0 634.1,218.8 634.5,218.3 634.9,219.8 635.3,218.4 635.7,218.2 636.1,218.9 636.5,219.6 636.9,218.7 637.3,217.9 637.7,218.8 638.1,219.3 638.5,218.9 638.9,218.9 639.3,218.0 639.7,218.2 640.1,217.2 640.5,217.5 640.9,217.0 641.3,217.8 641.7,218.7 642.1,216.4 642.5,216.8 642.9,216.6 643.3,217.3 643.7,218.3 644.1,217.1 644.5,216.9 644.9,218.2 645.3,217.9 645.7,218.2 646.1,218.3 646.5,217.3 646.9,217.7 647.3,217.0 647.7,216.7 648.1,217.2 648.5,217.3 648.9,216.1 649.3,216.2 649.7,216.9 650.1,216.8 650.5,217.1 650.9,216.5 651.3,216.3 651.7,217.0 652.1,216.9 652.5,215.0 652.9,217.1 653.3,216.0 653.7,216.8 654.1,217.0 654.5,216.2 654.9,215.9 655.3,216.6 655.7,216.6 656.1,217.0 656.5,215.7 656.9,216.9 657.3,217.1 657.7,216.7 658.1,216.6 658.5,217.0 658.9,215.5 659.3,216.7 659.7,216.0 660.1,215.3 660.5,215.7 660.9,216.0 661.3,215.8 661.7,216.5 662.1,215.9 662.5,215.4 662.9,216.8 663.3,215.2 663.7,214.8 664.1,216.0 664.5,214.9 664.9,214.7 665.3,214.5 665.7,215.9 666.1,214.7 666.5,215.4 666.9,215.0 667.3,215.2 667.7,214.6 668.1,215.3 668.5,215.8 668.9,216.0 669.3,215.0 669.7,214.4 670.1,214.1 670.5,215.2 670.9,213.6 671.3,215.8 671.7,214.9 672.1,215.0 672.5,214.0 672.9,214.7 673.3,214.6 673.7,215.3 674.1,214.5 674.5,215.1 674.9,214.6 675.3,213.0 675.7,213.6 676.1,213.2 676.5,209.8 676.9,205.4 677.3,198.6 677.7,192.3 678.1,193.1 678.5,195.7 678.9,203.3 679.3,208.7 679.7,213.6 680.1,215.4 680.5,216.4 680.9,216.6 681.3,216.8 681.7,217.2 682.1,216.9 682.5,217.0 682.9,217.5 683.3,216.4 683.7,215.6 684.1,217.6 684.5,217.4 684.9,216.9 685.3,217.1 685.7,216.9 686.1,217.2 686.5,217.8 686.9,217.9 687.3,218.2 687.7,217.6 688.1,218.4 688.5,218.3 688.9,217.4 689.3,216.9 689.7,217.5 690.1,218.1 690.5,218.3 690.9,219.8 691.3,217.9 691.7,218.5 692.1,217.9 692.5,218.9 692.9,217.5 693.3,218.8 693.7,218.5 694.1,218.2 694.5,218.1 694.9,219.9 695.3,218.4 695.7,219.6 696.1,217.3 696.5,218.0 696.9,219.8 697.3,219.7 697.7,218.5 698.1,219.2 698.5,219.0 698.9,218.5 699.3,218.7 699.7,218.0 700.1,218.1 700.5,218.9 700.9,219.2 701.3,218.8 701.7,217.9 702.1,219.2 702.5,218.8 702.9,219.1 703.3,218.6 703.7,218.7 704.1,219.7 704.5,220.2 704.9,218.7 705.3,218.7 705.7,220.2 706.1,219.9 706.5,219.5 706.9,219.0 707.3,220.0 707.7,219.6 708.1,219.5 708.5,219.4 708.9,218.7 709.3,219.5 709.7,219.1 710.1,219.4 710.5,219.2 710.9,218.2 711.3,218.7 711.7,219.0 712.1,219.6 712.5,218.6 712.9,219.7 713.3,219.4 713.7,219.5 714.1,220.4 714.5,219.2 714.9,219.4 715.3,219.6 715.7,218.6 716.1,218.1 716.5,215.6 716.9,214.2 717.3,211.5 717.7,209.7 718.1,212.9 718.5,214.2 718.9,216.1 719.3,217.9 719.7,218.7 720.1,220.0 720.5,219.8 720.9,219.5 721.3,219.6 721.7,218.8 722.1,218.8 722.5,219.0 722.9,219.2 723.3,218.7 723.7,219.3 724.1,220.2 724.5,220.1 724.9,220.1 725.3,220.2 725.7,220.0 726.1,219.5 726.5,220.9 726.9,221.8 727.3,220.8 727.7,221.1 728.1,222.3 728.5,220.1 728.9,220.9 729.3,220.4 729.7,220.4 730.1,219.5 730.5,220.4 730.9,220.5 731.3,219.2 731.7,220.4 732.1,220.2 732.5,219.7 732.9,220.6 733.3,221.1 733.7,220.5 734.1,221.1 734.5,220.9 734.9,220.4 735.3,220.8 735.7,221.3 736.1,220.3 736.5,220.6 736.9,219.6 737.3,219.4 737.7,220.3 738.1,221.4 738.5,220.7 738.9,220.2 739.3,219.2 739.7,214.4 740.1,212.4 740.5,208.8 740.9,210.1 741.3,214.3 741.7,216.5 742.1,218.9 742.5,220.6 742.9,220.5 743.3,220.7 743.7,221.1 744.1,221.0 744.5,221.6 744.9,221.4 745.3,222.6 745.7,221.1 746.1,222.0 746.5,221.4 746.9,222.2 747.3,220.7 747.7,221.0 748.1,222.5 748.5,221.0 748.9,221.0 749.3,221.5 749.7,221.1 750.1,222.4 750.5,222.4 750.9,221.3 751.3,221.0 751.7,220.6 752.1,221.7 752.5,221.0 752.9,221.8 753.3,219.8 753.7,221.0 754.1,221.6 754.5,221.6 754.9,219.4 755.3,221.4 755.7,221.3 756.1,221.4 756.5,221.0 756.9,221.1 757.3,221.5 757.7,221.9 758.1,219.7 758.5,221.6 758.9,222.1 759.3,221.6 759.7,222.3 760.1,221.2 760.5,222.6 760.9,222.1 761.3,221.1 761.7,223.1 762.1,222.2 762.5,222.3 762.9,220.5 763.3,221.4 763.7,221.5 764.1,222.1 764.5,221.8 764.9,221.2 765.3,222.7 765.7,221.9 766.1,222.2 766.5,221.8 766.9,221.9 767.3,221.2 767.7,222.6 768.1,222.0 768.5,221.0 768.9,222.4 769.3,222.2 769.7,222.6 770.1,222.3 770.5,221.0 770.9,221.6 771.3,221.9 771.7,221.9 772.1,220.8 772.5,221.6 772.9,222.1 773.3,222.1 773.7,222.1 774.1,221.7 774.5,219.8 774.9,221.8 775.3,221.5 775.7,220.1 776.1,222.7 776.5,222.6 776.9,222.3 777.3,222.6 777.7,222.4 778.1,222.1 778.5,223.1 778.9,223.4 779.3,222.6 779.7,221.5 780.1,221.9 780.5,222.5 780.9,222.4 781.3,221.6 781.7,222.6 782.1,222.5 782.5,222.7 782.9,222.2 783.3,222.2 783.7,221.1 784.1,222.3 784.5,222.0 784.9,222.1 785.3,221.9 785.7,221.8 786.1,222.0 786.5,222.0 786.9,221.6 787.3,222.1 787.7,222.2 788.1,222.5 788.5,222.6 788.9,222.2 789.3,221.9 789.7,221.3 790.1,221.6 790.5,222.5 790.9,221.9 791.3,223.6 791.7,222.5 792.1,222.2 792.5,222.2 792.9,221.7 793.3,221.7 793.7,222.0 794.1,221.1 794.5,222.1 794.9,221.8 795.3,221.5 795.7,223.0 796.1,222.6 796.5,223.1 796.9,221.9 797.3,221.6 797.7,221.9 798.1,221.5 798.5,221.4 798.9,223.7 799.3,222.4 799.7,222.6 800.1,222.3 800.5,222.5 800.9,223.7 801.3,221.5 801.7,221.9 802.1,222.6 802.5,222.0 802.9,222.8 803.3,223.4 803.7,223.0 804.1,223.0 804.5,222.5 804.9,223.2 805.3,222.4 805.7,222.1 806.1,222.5 806.5,222.3 806.9,223.1 807.3,221.8 807.7,223.0 808.1,221.9 808.5,221.6 808.9,221.2 809.3,222.4 809.7,221.5 810.1,222.3 810.5,222.0 810.9,221.7 811.3,221.0 811.7,221.9 812.1,222.7 812.5,221.3 812.9,222.6 813.3,221.6 813.7,219.9 814.1,217.7 814.5,214.8 814.9,212.0 815.3,212.4 815.7,216.3 816.1,218.7 816.5,221.3 816.9,222.6 817.3,222.9 817.7,223.4 818.1,223.1 818.5,222.6 818.9,222.4 819.3,222.6 819.7,222.5 820.1,224.0 820.5,222.8 820.9,222.0 821.3,223.4 821.7,221.3 822.1,222.7 822.5,221.6 822.9,221.8 823.3,222.0 823.7,222.1 824.1,221.5 824.5,223.0 824.9,222.6 825.3,223.5 825.7,221.9 826.1,221.2 826.5,222.7 826.9,222.2 827.3,222.8 827.7,221.1 828.1,221.7 828.5,222.3 828.9,223.4 829.3,221.1 829.7,220.4 830.1,220.8 830.5,221.5 830.9,221.4 831.3,219.7 831.7,220.7 832.1,220.6 832.5,221.5 832.9,221.8 833.3,222.6 833.7,223.0 834.1,223.9 834.5,222.3 834.9,222.9 835.3,222.3 835.7,222.1 836.1,223.3 836.5,222.8 836.9,223.4 837.3,222.5 837.7,222.9 838.1,222.8 838.5,222.5 838.9,222.0 839.3,222.2 839.7,222.3 840.1,222.2 840.5,222.1 840.9,222.0 841.3,222.8 841.7,221.9 842.1,221.8 842.5,221.7 842.9,222.8 843.3,222.0 843.7,223.3 844.1,222.1 844.5,223.7 844.9,223.2 845.3,222.6 845.7,223.0 846.1,223.1 846.5,221.8 846.9,222.3 847.3,222.4 847.7,221.9 848.1,221.9 848.5,222.0 848.9,222.4 849.3,222.5 849.7,223.0 850.1,222.1 850.5,224.3 850.9,222.5 851.3,223.8 851.7,222.8 852.1,222.3 852.5,222.8 852.9,222.8 853.3,223.6 853.7,221.5 854.1,222.4 854.5,222.9 854.9,223.2 855.3,223.1 855.7,223.3 856.1,222.8 856.5,222.5 856.9,223.2 857.3,223.3 857.7,222.4 858.1,222.2 858.5,221.7 858.9,223.5 859.3,222.7 859.7,223.1 860.1,221.7 860.5,222.9 860.9,224.0 861.3,222.4 861.7,222.7 862.1,223.7 862.5,222.7 862.9,223.4 863.3,224.3 863.7,222.5 864.1,222.7 864.5,223.5 864.9,223.3 865.3,223.0 865.7,223.0 866.1,223.0 866.5,223.2 866.9,223.0 867.3,223.0 867.7,223.3 868.1,222.5 868.5,223.3 868.9,221.9 869.3,223.6 869.7,222.9 870.1,222.3 870.5,223.7 870.9,222.3 871.3,224.2 871.7,222.2 872.1,223.1 872.5,222.4 872.9,223.1 873.3,221.8 873.7,222.8 874.1,222.1 874.5,221.3 874.9,222.9 875.3,222.8 875.7,223.0 876.1,224.0 876.5,222.4 876.9,221.8 877.3,222.9 877.7,222.3 878.1,222.8 878.5,222.9 878.9,222.2 879.3,223.6 879.7,223.0 880.1,224.3 880.5,223.4 880.9,223.9 881.3,223.0 881.7,222.9 882.1,222.9 882.5,222.8 882.9,223.6 883.3,223.3 883.7,222.7 884.1,222.7 884.5,223.0 884.9,222.3 885.3,222.9 885.7,222.1 886.1,223.5 886.5,222.3 886.9,222.4 887.3,222.9 887.7,222.9 888.1,223.0 888.5,223.2 888.9,223.1 889.3,222.6 889.7,223.5 890.1,222.6 890.5,221.5 890.9,222.3 891.3,220.2 891.7,220.9 892.1,221.3 892.5,220.8 892.9,221.5 893.3,221.9 893.7,222.5 894.1,222.7 894.5,222.9 894.9,223.6 895.3,222.0 895.7,223.5 896.1,223.2 896.5,224.6 896.9,223.6 897.3,222.7 897.7,223.4 898.1,222.9 898.5,222.2 898.9,222.7 899.3,223.3 899.7,223.8 900.1,223.8 900.5,223.4 900.9,223.1 901.3,223.3 901.7,224.0 902.1,223.0 902.5,223.7 902.9,222.6 903.3,222.8 903.7,223.1 904.1,222.8 904.5,222.7 904.9,222.4 905.3,221.6 905.7,222.5 906.1,222.3 906.5,222.6 906.9,223.9 907.3,222.3 907.7,223.3 908.1,222.7 908.5,222.0 908.9,222.8 909.3,223.3 909.7,222.1 910.1,222.2 910.5,222.8 910.9,223.5 911.3,222.8 911.7,223.5 912.1,223.6 912.5,223.2 912.9,223.4 913.3,223.6 913.7,222.8 914.1,222.9 914.5,221.9 914.9,222.1 915.3,222.6 915.7,223.2 916.1,222.6 916.5,222.2 916.9,223.8 917.3,224.5 917.7,221.7 918.1,222.7 918.5,223.5 918.9,223.5 919.3,222.7 919.7,223.3 920.1,224.0 920.5,223.1 920.9,223.5 921.3,222.9 921.7,222.4 922.1,222.5 922.5,222.6 922.9,223.7 923.3,223.6 923.7,223.2 924.1,222.2 924.5,222.9 924.9,223.2 925.3,222.5 925.7,223.7 926.1,223.7 926.5,222.7 926.9,223.3 927.3,223.0 927.7,224.1 928.1,223.4 928.5,223.4 928.9,223.1 929.3,222.3 929.7,223.7 930.1,223.1 930.5,222.3 930.9,223.8 931.3,223.4 931.7,223.5 932.1,223.8 932.5,223.2 932.9,223.6 933.3,224.2 933.7,223.4 934.1,223.3 934.5,223.6 934.9,224.1 935.3,223.4 935.7,223.7 936.1,223.3 936.5,223.4 936.9,223.5 937.3,222.6 937.7,222.8 938.1,222.0 938.5,222.6 938.9,222.7 939.3,223.2 939.7,222.3 940.1,222.8 940.5,222.4 940.9,223.1 941.3,222.8 941.7,223.1 942.1,222.4 942.5,221.5 942.9,222.0 943.3,221.8 943.7,222.5 944.1,223.0 944.5,223.6 944.9,222.8 945.3,223.1 945.7,223.8 946.1,222.2 946.5,224.5 946.9,222.4 947.3,224.2 947.7,224.1 948.1,224.0 948.5,223.2 948.9,223.7 949.3,223.0 949.7,223.9 950.1,222.9 950.5,222.9 950.9,223.6 951.3,223.1 951.7,223.8 952.1,222.7 952.5,223.4 952.9,222.5 953.3,222.8 953.7,224.1 954.1,222.3 954.5,222.2 954.9,222.1 955.3,222.9 955.7,223.9 956.1,222.8 956.5,223.6 956.9,223.0 957.3,222.8 957.7,224.5 958.1,223.9 958.5,222.2 958.9,223.0 959.3,223.8 959.7,224.0 960.1,223.5 960.5,223.8 960.9,223.8 961.3,223.5 961.7,224.2 962.1,223.1 962.5,224.0 962.9,224.4 963.3,223.9 963.7,223.6 964.1,223.7 964.5,222.5 964.9,224.1 965.3,223.2 965.7,222.5 966.1,224.2 966.5,223.2 966.9,223.9 967.3,223.6" fill="none" stroke="#e00000" stroke-width="1.2" stroke-linejoin="round"/>
<polygon points="588.5,267.4 588.9,268.4 589.3,268.8 589.7,268.4 590.1,267.8 590.5,267.9 590.9,267.7 591.3,267.9 591.7,267.4 592.1,267.1 592.5,268.1 592.9,268.6 593.3,269.3 593.7,268.9 594.1,267.8 594.5,268.9 594.9,268.3 595.3,269.0 595.7,268.2 596.1,268.4 596.5,268.6 596.9,268.8 597.3,268.5 597.7,268.4 598.1,268.7 598.5,269.1 598.9,269.5 599.3,268.8 599.7,269.5 600.1,268.9 600.5,270.1 600.9,269.0 601.3,269.2 601.7,268.7 602.1,269.6 602.5,270.5 602.9,270.1 603.3,269.4 603.7,269.1 604.1,269.6 604.5,270.2 604.9,269.5 605.3,269.3 605.7,268.9 606.1,268.9 606.5,268.6 606.9,268.5 607.3,267.5 607.7,267.2 608.1,268.2 608.5,269.4 608.9,269.7 609.3,269.4 609.7,269.3 610.1,268.9 610.5,269.7 610.9,268.7 611.3,269.5 611.7,268.4 612.1,268.6 612.5,268.8 612.9,269.2 613.3,269.6 613.7,269.5 614.1,269.6 614.5,269.1 614.9,269.5 615.3,268.4 615.7,267.9 616.1,267.9 616.5,268.2 616.9,268.7 617.3,268.4 617.7,269.1 618.1,269.1 618.5,269.4 618.9,269.1 619.3,268.9 619.7,268.3 620.1,268.3 620.5,267.4 620.9,267.8 621.3,266.9 621.7,267.8 622.1,267.9 622.5,268.3 622.9,268.2 623.3,267.9 623.7,268.2 624.1,267.9 624.5,267.6 624.9,268.0 625.3,269.2 625.7,269.9 626.1,268.9 626.5,268.6 626.9,267.7 627.3,268.2 627.7,268.2 628.1,268.9 628.5,269.3 628.9,269.8 629.3,269.6 629.7,269.3 630.1,267.7 630.5,267.3 630.9,267.8 631.3,268.0 631.7,267.2 632.1,266.2 632.5,267.0 632.9,267.1 633.3,268.4 633.7,268.2 634.1,269.1 634.5,267.7 634.9,268.1 635.3,268.6 635.7,269.4 636.1,269.3 636.5,268.2 636.9,269.4 637.3,269.1 637.7,269.2 638.1,267.3 638.5,266.8 638.9,267.2 639.3,266.8 639.7,266.6 640.1,266.9 640.5,266.8 640.9,266.8 641.3,265.8 641.7,266.2 642.1,266.6 642.5,267.7 642.9,268.6 643.3,267.8 643.7,267.6 644.1,266.2 644.5,266.1 644.9,266.2 645.3,266.9 645.7,267.2 646.1,266.1 646.5,266.2 646.9,267.5 647.3,267.2 647.7,266.8 648.1,266.3 648.5,266.2 648.9,266.4 649.3,265.9 649.7,267.4 650.1,267.7 650.5,268.4 650.9,267.9 651.3,267.9 651.7,267.2 652.1,267.3 652.5,266.7 652.9,266.2 653.3,265.8 653.7,266.7 654.1,266.6 654.5,266.2 654.9,265.8 655.3,266.5 655.7,266.4 656.1,266.9 656.5,266.7 656.9,266.7 657.3,266.2 657.7,265.4 658.1,266.0 658.5,266.7 658.9,266.9 659.3,266.0 659.7,265.8 660.1,266.2 660.5,267.1 660.9,266.8 661.3,267.0 661.7,267.4 662.1,267.1 662.5,265.9 662.9,265.1 663.3,264.9 663.7,266.0 664.1,266.2 664.5,266.1 664.9,266.5 665.3,266.2 665.7,266.3 666.1,265.7 666.5,266.9 666.9,266.7 667.3,266.7 667.7,265.7 668.1,266.3 668.5,267.0 668.9,267.0 669.3,265.8 669.7,264.6 670.1,264.2 670.5,264.9 670.9,266.7 671.3,266.7 671.7,266.8 672.1,266.6 672.5,266.0 672.9,265.4 673.3,264.7 673.7,265.9 674.1,267.0 674.5,266.9 674.9,265.6 675.3,265.6 675.7,266.2 676.1,265.6 676.5,265.1 676.9,264.7 677.3,264.2 677.7,263.8 678.1,263.9 678.5,264.5 678.9,265.0 679.3,265.5 679.7,266.1 680.1,266.7 680.5,266.4 680.9,267.0 681.3,267.5 681.7,267.9 682.1,267.3 682.5,267.4 682.9,267.8 683.3,268.5 683.7,268.2 684.1,268.2 684.5,267.9 684.9,268.6 685.3,267.5 685.7,267.7 686.1,266.5 686.5,267.4 686.9,266.9 687.3,267.8 687.7,266.4 688.1,266.7 688.5,267.8 688.9,268.5 689.3,268.4 689.7,267.5 690.1,267.7 690.5,267.0 690.9,267.0 691.3,267.0 691.7,268.2 692.1,268.4 692.5,268.3 692.9,266.3 693.3,266.7 693.7,267.4 694.1,268.9 694.5,267.8 694.9,268.8 695.3,269.0 695.7,269.1 696.1,268.2 696.5,267.9 696.9,268.5 697.3,268.7 697.7,268.7 698.1,268.6 698.5,268.3 698.9,267.3 699.3,267.3 699.7,267.0 700.1,267.8 700.5,267.5 700.9,267.3 701.3,267.2 701.7,267.2 702.1,266.4 702.5,267.9 702.9,267.6 703.3,267.7 703.7,266.5 704.1,266.5 704.5,266.4 704.9,265.5 705.3,266.4 705.7,267.2 706.1,268.3 706.5,267.9 706.9,267.2 707.3,266.6 707.7,266.6 708.1,267.3 708.5,267.7 708.9,267.4 709.3,265.7 709.7,265.9 710.1,266.3 710.5,267.7 710.9,268.1 711.3,268.3 711.7,267.4 712.1,266.6 712.5,265.5 712.9,266.9 713.3,267.0 713.7,266.6 714.1,266.7 714.5,266.7 714.9,268.0 715.3,268.1 715.7,267.7 716.1,267.1 716.5,266.7 716.9,266.1 717.3,265.7 717.7,265.9 718.1,266.2 718.5,266.7 718.9,267.4 719.3,268.0 719.7,268.2 720.1,268.6 720.5,267.6 720.9,266.9 721.3,267.0 721.7,267.9 722.1,268.5 722.5,268.7 722.9,268.2 723.3,266.7 723.7,266.5 724.1,266.0 724.5,266.6 724.9,267.0 725.3,267.8 725.7,269.0 726.1,269.3 726.5,269.2 726.9,267.0 727.3,267.2 727.7,267.3 728.1,268.3 728.5,267.7 728.9,268.4 729.3,268.0 729.7,268.9 730.1,268.3 730.5,267.9 730.9,268.2 731.3,268.3 731.7,268.1 732.1,267.8 732.5,267.3 732.9,267.4 733.3,267.8 733.7,268.1 734.1,267.2 734.5,266.8 734.9,267.0 735.3,267.7 735.7,267.5 736.1,267.8 736.5,268.1 736.9,268.2 737.3,267.6 737.7,266.8 738.1,265.4 738.5,263.5 738.9,261.3 739.3,258.4 739.7,255.5 740.1,253.7 740.5,252.7 740.9,253.2 741.3,254.8 741.7,257.3 742.1,260.2 742.5,262.9 742.9,264.9 743.3,266.5 743.7,267.4 744.1,268.1 744.5,267.6 744.9,266.9 745.3,267.4 745.7,268.8 746.1,269.1 746.5,269.2 746.9,268.9 747.3,268.3 747.7,268.3 748.1,268.1 748.5,268.7 748.9,268.5 749.3,268.3 749.7,267.6 750.1,267.8 750.5,267.6 750.9,267.4 751.3,267.4 751.7,266.5 752.1,267.0 752.5,266.9 752.9,268.5 753.3,269.0 753.7,269.2 754.1,267.7 754.5,266.4 754.9,266.7 755.3,266.9 755.7,268.5 756.1,268.1 756.5,267.8 756.9,266.9 757.3,266.4 757.7,266.3 758.1,266.9 758.5,267.2 758.9,268.2 759.3,267.4 759.7,267.6 760.1,267.0 760.5,266.9 760.9,266.9 761.3,268.2 761.7,268.4 762.1,268.1 762.5,268.1 762.9,268.7 763.3,269.6 763.7,269.3 764.1,268.6 764.5,267.8 764.9,267.7 765.3,268.1 765.7,268.4 766.1,267.9 766.5,267.2 766.9,267.9 767.3,269.2 767.7,269.0 768.1,268.2 768.5,267.3 768.9,268.2 769.3,268.6 769.7,268.9 770.1,268.9 770.5,269.7 770.9,268.8 771.3,268.9 771.7,268.7 772.1,269.6 772.5,268.4 772.9,268.0 773.3,267.5 773.7,268.7 774.1,269.4 774.5,269.7 774.9,268.5 775.3,268.7 775.7,268.2 776.1,269.1 776.5,268.4 776.9,267.9 777.3,268.6 777.7,268.9 778.1,269.0 778.5,268.2 778.9,267.9 779.3,268.2 779.7,268.7 780.1,269.6 780.5,269.8 780.9,269.1 781.3,267.6 781.7,267.7 782.1,268.2 782.5,268.7 782.9,268.0 783.3,267.4 783.7,268.8 784.1,268.9 784.5,268.4 784.9,268.1 785.3,268.0 785.7,268.9 786.1,268.3 786.5,268.2 786.9,267.2 787.3,267.7 787.7,267.3 788.1,268.2 788.5,267.9 788.9,268.7 789.3,267.7 789.7,267.4 790.1,267.0 790.5,268.7 790.9,268.3 791.3,268.2 791.7,268.0 792.1,268.9 792.5,268.5 792.9,268.1 793.3,267.4 793.7,268.3 794.1,269.2 794.5,269.2 794.9,268.7 795.3,268.2 795.7,268.0 796.1,268.1 796.5,268.1 796.9,268.8 797.3,268.6 797.7,267.7 798.1,267.3 798.5,267.0 798.9,267.4 799.3,267.8 799.7,267.7 800.1,267.4 800.5,267.2 800.9,267.8 801.3,267.7 801.7,268.7 802.1,268.1 802.5,268.8 802.9,268.2 803.3,269.3 803.7,268.8 804.1,268.4 804.5,267.7 804.9,266.9 805.3,268.2 805.7,268.3 806.1,269.1 806.5,267.6 806.9,267.8 807.3,268.9 807.7,269.3 808.1,269.6 808.5,269.4 808.9,270.3 809.3,269.9 809.7,268.6 810.1,268.1 810.5,268.7 810.9,269.3 811.3,268.8 811.7,269.2 812.1,268.4 812.5,268.3 812.9,267.2 813.3,266.9 813.7,266.8 814.1,265.1 814.5,263.6 814.9,262.9 815.3,263.2 815.7,264.7 816.1,266.4 816.5,267.0 816.9,266.6 817.3,266.5 817.7,266.9 818.1,267.0 818.5,267.7 818.9,267.5 819.3,267.6 819.7,267.7 820.1,268.2 820.5,269.0 820.9,268.5 821.3,269.0 821.7,269.4 822.1,269.0 822.5,269.9 822.9,269.4 823.3,269.6 823.7,268.0 824.1,268.4 824.5,267.8 824.9,268.0 825.3,267.5 825.7,268.6 826.1,267.9 826.5,268.6 826.9,267.7 827.3,268.5 827.7,268.1 828.1,268.1 828.5,268.6 828.9,268.4 829.3,269.0 829.7,268.7 830.1,269.7 830.5,267.7 830.9,269.0 831.3,268.5 831.7,269.6 832.1,269.6 832.5,269.3 832.9,268.0 833.3,268.5 833.7,267.9 834.1,268.0 834.5,267.6 834.9,268.3 835.3,268.8 835.7,268.2 836.1,267.9 836.5,267.9 836.9,269.1 837.3,269.5 837.7,269.6 838.1,268.9 838.5,268.2 838.9,267.8 839.3,267.8 839.7,268.2 840.1,268.2 840.5,269.1 840.9,268.4 841.3,269.1 841.7,268.1 842.1,268.6 842.5,267.9 842.9,269.0 843.3,268.9 843.7,269.5 844.1,269.0 844.5,269.5 844.9,269.6 845.3,270.1 845.7,269.5 846.1,268.7 846.5,268.6 846.9,269.4 847.3,269.4 847.7,268.4 848.1,268.0 848.5,268.4 848.9,268.4 849.3,269.1 849.7,268.2 850.1,268.6 850.5,267.6 850.9,266.6 851.3,266.8 851.7,266.2 852.1,267.0 852.5,266.6 852.9,267.3 853.3,268.2 853.7,268.6 854.1,268.9 854.5,269.2 854.9,269.6 855.3,269.6 855.7,269.7 856.1,269.3 856.5,269.4 856.9,268.4 857.3,268.5 857.7,268.3 858.1,268.8 858.5,268.2 858.9,268.5 859.3,268.6 859.7,268.8 860.1,269.2 860.5,268.4 860.9,267.8 861.3,268.0 861.7,268.1 862.1,268.7 862.5,268.5 862.9,268.2 863.3,268.1 863.7,267.9 864.1,268.2 864.5,269.3 864.9,268.6 865.3,268.8 865.7,268.3 866.1,268.3 866.5,269.1 866.9,269.9 867.3,270.0 867.7,269.9 868.1,269.6 868.5,270.2 868.9,269.4 869.3,269.5 869.7,269.0 870.1,269.6 870.5,269.3 870.9,268.3 871.3,269.3 871.7,268.6 872.1,269.2 872.5,269.1 872.9,269.9 873.3,269.2 873.7,268.6 874.1,267.2 874.5,266.9 874.9,267.4 875.3,268.3 875.7,268.0 876.1,267.2 876.5,266.8 876.9,267.7 877.3,267.3 877.7,268.7 878.1,268.2 878.5,267.9 878.9,267.0 879.3,266.9 879.7,267.4 880.1,268.3 880.5,268.0 880.9,268.7 881.3,267.7 881.7,268.6 882.1,267.7 882.5,267.3 882.9,267.2 883.3,268.4 883.7,268.3 884.1,268.2 884.5,267.4 884.9,267.5 885.3,268.0 885.7,268.3 886.1,268.4 886.5,268.0 886.9,268.5 887.3,268.9 887.7,268.7 888.1,267.8 888.5,268.4 888.9,268.2 889.3,268.8 889.7,268.2 890.1,267.7 890.5,267.8 890.9,266.3 891.3,266.7 891.7,266.7 892.1,267.2 892.5,266.9 892.9,267.0 893.3,267.3 893.7,268.1 894.1,268.6 894.5,269.0 894.9,267.6 895.3,268.4 895.7,268.6 896.1,269.1 896.5,269.6 896.9,269.7 897.3,269.2 897.7,268.9 898.1,269.9 898.5,269.8 898.9,269.8 899.3,269.8 899.7,268.7 900.1,267.5 900.5,266.3 900.9,267.9 901.3,269.0 901.7,269.5 902.1,269.4 902.5,269.6 902.9,269.9 903.3,270.1 903.7,269.4 904.1,269.9 904.5,268.8 904.9,268.0 905.3,267.0 905.7,266.7 906.1,267.7 906.5,268.5 906.9,269.0 907.3,269.4 907.7,268.7 908.1,269.1 908.5,269.7 908.9,269.9 909.3,269.0 909.7,268.6 910.1,268.5 910.5,268.6 910.9,268.7 911.3,268.5 911.7,269.0 912.1,268.5 912.5,268.7 912.9,268.4 913.3,268.6 913.7,268.4 914.1,267.8 914.5,269.1 914.9,268.7 915.3,269.7 915.7,268.6 916.1,268.9 916.5,269.4 916.9,269.8 917.3,270.0 917.7,269.6 918.1,269.4 918.5,270.5 918.9,270.4 919.3,270.4 919.7,269.5 920.1,268.4 920.5,268.3 920.9,268.9 921.3,269.0 921.7,269.5 922.1,269.1 922.5,269.3 922.9,268.3 923.3,269.0 923.7,270.4 924.1,270.6 924.5,270.3 924.9,268.5 925.3,268.5 925.7,269.5 926.1,270.5 926.5,269.1 926.9,269.8 927.3,268.9 927.7,270.2 928.1,269.3 928.5,269.0 928.9,268.9 929.3,269.1 929.7,268.3 930.1,268.5 930.5,268.2 930.9,268.3 931.3,268.2 931.7,268.8 932.1,270.0 932.5,270.6 932.9,270.2 933.3,270.1 933.7,269.9 934.1,269.1 934.5,268.8 934.9,269.6 935.3,269.4 935.7,269.2 936.1,267.8 936.5,267.9 936.9,267.6 937.3,267.5 937.7,267.9 938.1,267.7 938.5,268.6 938.9,269.2 939.3,268.8 939.7,268.7 940.1,266.8 940.5,267.9 940.9,268.2 941.3,269.1 941.7,269.7 942.1,269.6 942.5,268.4 942.9,269.0 943.3,268.6 943.7,269.5 944.1,269.1 944.5,268.9 944.9,269.0 945.3,269.9 945.7,269.1 946.1,268.3 946.5,267.3 946.9,268.0 947.3,268.6 947.7,267.7 948.1,268.1 948.5,269.1 948.9,269.5 949.3,269.3 949.7,269.1 950.1,269.7 950.5,268.7 950.9,268.3 951.3,268.2 951.7,267.8 952.1,267.2 952.5,267.5 952.9,269.2 953.3,269.8 953.7,270.3 954.1,269.0 954.5,268.6 954.9,268.7 955.3,269.4 955.7,269.5 956.1,270.8 956.5,270.7 956.9,270.3 957.3,268.6 957.7,268.1 958.1,269.8 958.5,270.6 958.9,268.9 959.3,267.4 959.7,267.7 960.1,269.3 960.5,270.2 960.9,269.9 961.3,269.7 961.7,269.8 962.1,269.4 962.5,268.8 962.9,267.5 963.3,268.1 963.7,268.8 964.1,269.7 964.5,270.2 964.9,270.1 965.3,270.4 965.7,269.9 966.1,269.1 966.5,268.9 966.9,269.8 967.3,270.9 967.3,274.1 966.9,274.8 966.5,273.4 966.1,273.0 965.7,272.4 965.3,272.2 964.9,272.4 964.5,272.7 964.1,273.9 963.7,273.7 963.3,273.6 962.9,271.8 962.5,272.0 962.1,272.1 961.7,272.9 961.3,273.6 960.9,274.0 960.5,273.6 960.1,273.3 959.7,273.2 959.3,274.2 958.9,274.9 958.5,274.9 958.1,274.6 957.7,273.7 957.3,273.7 956.9,272.9 956.5,273.9 956.1,273.5 955.7,274.3 955.3,273.3 954.9,274.5 954.5,274.0 954.1,273.6 953.7,273.2 953.3,272.4 952.9,273.7 952.5,273.4 952.1,273.1 951.7,271.9 951.3,271.9 950.9,272.8 950.5,273.7 950.1,274.1 949.7,274.6 949.3,273.7 948.9,272.9 948.5,272.0 948.1,271.9 947.7,273.5 947.3,274.1 946.9,273.3 946.5,271.5 946.1,271.9 945.7,272.3 945.3,273.4 944.9,272.3 944.5,272.7 944.1,272.7 943.7,272.8 943.3,271.7 942.9,272.4 942.5,272.0 942.1,273.4 941.7,272.3 941.3,271.9 940.9,272.1 940.5,272.5 940.1,273.3 939.7,273.0 939.3,273.1 938.9,272.3 938.5,273.1 938.1,272.3 937.7,272.7 937.3,271.8 936.9,272.0 936.5,270.9 936.1,271.6 935.7,272.0 935.3,273.5 934.9,273.6 934.5,273.6 934.1,273.6 933.7,273.7 933.3,273.7 932.9,273.6 932.5,274.4 932.1,275.0 931.7,274.7 931.3,273.4 930.9,272.6 930.5,273.0 930.1,273.4 929.7,273.0 929.3,273.8 928.9,273.6 928.5,274.2 928.1,273.0 927.7,272.7 927.3,272.7 926.9,273.3 926.5,273.7 926.1,273.0 925.7,272.7 925.3,272.4 924.9,272.9 924.5,273.8 924.1,273.9 923.7,274.4 923.3,273.7 922.9,273.0 922.5,271.6 922.1,271.4 921.7,272.6 921.3,273.4 920.9,274.0 920.5,273.8 920.1,274.3 919.7,274.3 919.3,273.4 918.9,273.7 918.5,273.5 918.1,273.1 917.7,271.5 917.3,270.7 916.9,271.1 916.5,272.2 916.1,273.4 915.7,272.3 915.3,271.5 914.9,270.9 914.5,271.3 914.1,270.6 913.7,271.3 913.3,271.5 912.9,272.4 912.5,271.9 912.1,272.2 911.7,272.8 911.3,273.4 910.9,272.5 910.5,273.1 910.1,272.5 909.7,273.9 909.3,273.4 908.9,273.6 908.5,272.7 908.1,271.6 907.7,271.7 907.3,272.4 906.9,272.3 906.5,272.0 906.1,272.2 905.7,273.3 905.3,273.2 904.9,272.3 904.5,273.0 904.1,273.5 903.7,273.8 903.3,273.7 902.9,273.4 902.5,273.6 902.1,272.9 901.7,273.4 901.3,273.2 900.9,272.8 900.5,273.0 900.1,272.3 899.7,273.0 899.3,272.5 898.9,273.0 898.5,271.6 898.1,271.3 897.7,272.0 897.3,272.8 896.9,273.3 896.5,272.7 896.1,273.0 895.7,273.5 895.3,273.8 894.9,273.2 894.5,272.8 894.1,272.5 893.7,272.1 893.3,271.7 892.9,271.0 892.5,271.1 892.1,270.9 891.7,272.0 891.3,271.9 890.9,272.1 890.5,271.6 890.1,272.1 889.7,271.2 889.3,272.0 888.9,271.5 888.5,271.9 888.1,271.4 887.7,272.3 887.3,272.7 886.9,273.6 886.5,273.7 886.1,274.4 885.7,273.1 885.3,273.8 884.9,272.8 884.5,272.5 884.1,271.4 883.7,271.7 883.3,272.3 882.9,273.0 882.5,273.1 882.1,273.3 881.7,272.5 881.3,271.8 880.9,271.2 880.5,271.1 880.1,271.5 879.7,271.5 879.3,270.9 878.9,270.1 878.5,270.4 878.1,271.5 877.7,272.2 877.3,272.2 876.9,271.3 876.5,271.7 876.1,272.0 875.7,272.9 875.3,273.6 874.9,273.7 874.5,273.9 874.1,273.2 873.7,273.0 873.3,272.3 872.9,272.0 872.5,272.4 872.1,272.4 871.7,273.0 871.3,273.7 870.9,273.8 870.5,273.4 870.1,272.1 869.7,272.6 869.3,272.3 868.9,272.4 868.5,271.5 868.1,272.8 867.7,273.0 867.3,273.3 866.9,272.9 866.5,273.0 866.1,273.1 865.7,273.6 865.3,274.2 864.9,273.6 864.5,272.6 864.1,271.8 863.7,272.1 863.3,273.2 862.9,273.3 862.5,273.4 862.1,273.2 861.7,273.1 861.3,272.2 860.9,272.3 860.5,272.5 860.1,273.4 859.7,273.3 859.3,271.9 858.9,271.4 858.5,272.2 858.1,272.7 857.7,272.8 857.3,272.0 856.9,272.5 856.5,273.0 856.1,272.6 855.7,272.5 855.3,272.6 854.9,272.4 854.5,272.1 854.1,271.6 853.7,271.7 853.3,272.9 852.9,272.5 852.5,271.4 852.1,271.3 851.7,271.4 851.3,272.3 850.9,271.7 850.5,271.9 850.1,271.9 849.7,271.7 849.3,271.2 848.9,271.0 848.5,270.7 848.1,271.1 847.7,272.0 847.3,272.0 846.9,272.3 846.5,271.7 846.1,273.0 845.7,272.8 845.3,273.4 844.9,272.6 844.5,272.5 844.1,272.7 843.7,272.1 843.3,272.7 842.9,272.0 842.5,271.7 842.1,271.1 841.7,269.9 841.3,270.9 840.9,270.5 840.5,271.9 840.1,271.4 839.7,272.0 839.3,272.0 838.9,271.9 838.5,271.8 838.1,271.7 837.7,273.0 837.3,273.4 836.9,272.9 836.5,272.1 836.1,272.5 835.7,272.6 835.3,272.6 834.9,271.8 834.5,272.3 834.1,272.5 833.7,273.0 833.3,273.4 832.9,273.3 832.5,272.4 832.1,272.2 831.7,271.8 831.3,272.3 830.9,272.0 830.5,271.7 830.1,272.5 829.7,271.8 829.3,271.9 828.9,272.0 828.5,273.4 828.1,272.9 827.7,272.9 827.3,272.8 826.9,272.9 826.5,272.6 826.1,272.8 825.7,272.4 825.3,272.4 824.9,271.9 824.5,272.9 824.1,272.9 823.7,272.5 823.3,271.7 822.9,272.9 822.5,272.7 822.1,273.1 821.7,272.7 821.3,273.8 820.9,272.9 820.5,272.5 820.1,271.1 819.7,271.5 819.3,272.2 818.9,272.2 818.5,273.3 818.1,272.6 817.7,272.8 817.3,272.0 816.9,272.7 816.5,272.7 816.1,273.3 815.7,273.0 815.3,272.7 814.9,272.3 814.5,271.3 814.1,271.7 813.7,271.6 813.3,273.2 812.9,273.7 812.5,273.9 812.1,273.1 811.7,272.8 811.3,273.3 810.9,274.1 810.5,273.6 810.1,273.2 809.7,272.6 809.3,273.8 808.9,273.2 808.5,273.2 808.1,272.9 807.7,273.6 807.3,273.4 806.9,272.6 806.5,272.9 806.1,272.5 805.7,272.4 805.3,272.1 804.9,271.8 804.5,272.5 804.1,272.4 803.7,273.4 803.3,272.0 802.9,271.8 802.5,271.5 802.1,272.1 801.7,272.6 801.3,272.9 800.9,273.4 800.5,273.4 800.1,272.6 799.7,272.0 799.3,272.5 798.9,272.5 798.5,272.3 798.1,271.5 797.7,271.4 797.3,271.3 796.9,270.8 796.5,271.0 796.1,271.4 795.7,271.9 795.3,271.7 794.9,272.2 794.5,273.2 794.1,272.5 793.7,272.2 793.3,272.1 792.9,273.5 792.5,274.4 792.1,273.9 791.7,272.5 791.3,271.8 790.9,271.4 790.5,271.5 790.1,271.0 789.7,270.6 789.3,271.2 788.9,272.1 788.5,272.7 788.1,272.7 787.7,271.7 787.3,271.2 786.9,270.8 786.5,269.9 786.1,270.2 785.7,271.2 785.3,272.2 784.9,272.6 784.5,272.1 784.1,271.4 783.7,271.3 783.3,270.4 782.9,271.2 782.5,271.9 782.1,271.2 781.7,271.4 781.3,271.6 780.9,273.3 780.5,273.0 780.1,271.2 779.7,270.5 779.3,270.2 778.9,271.1 778.5,270.2 778.1,271.9 777.7,271.4 777.3,271.9 776.9,271.3 776.5,271.6 776.1,271.6 775.7,272.6 775.3,272.9 774.9,273.6 774.5,272.9 774.1,272.7 773.7,272.2 773.3,271.4 772.9,271.5 772.5,271.7 772.1,272.1 771.7,272.1 771.3,272.2 770.9,273.6 770.5,273.9 770.1,273.7 769.7,272.7 769.3,271.6 768.9,270.9 768.5,270.7 768.1,271.6 767.7,271.2 767.3,271.1 766.9,271.2 766.5,271.8 766.1,271.8 765.7,272.1 765.3,272.2 764.9,272.3 764.5,272.4 764.1,273.1 763.7,273.0 763.3,272.7 762.9,271.6 762.5,272.0 762.1,272.1 761.7,272.3 761.3,271.6 760.9,270.9 760.5,271.0 760.1,271.2 759.7,271.9 759.3,271.1 758.9,271.1 758.5,270.7 758.1,271.6 757.7,272.8 757.3,273.0 756.9,272.4 756.5,271.1 756.1,270.9 755.7,271.0 755.3,271.5 754.9,270.8 754.5,270.6 754.1,271.2 753.7,271.4 753.3,271.2 752.9,270.1 752.5,270.4 752.1,270.9 751.7,271.4 751.3,271.9 750.9,271.0 750.5,270.9 750.1,270.5 749.7,270.6 749.3,270.9 748.9,270.2 748.5,270.6 748.1,271.0 747.7,272.2 747.3,271.7 746.9,271.4 746.5,272.4 746.1,272.7 745.7,272.6 745.3,272.1 744.9,272.3 744.5,273.0 744.1,271.6 743.7,270.4 743.3,270.4 742.9,271.8 742.5,273.0 742.1,271.9 741.7,271.2 741.3,271.2 740.9,272.3 740.5,273.0 740.1,272.1 739.7,271.7 739.3,271.3 738.9,271.3 738.5,270.3 738.1,271.2 737.7,272.4 737.3,272.7 736.9,272.0 736.5,271.8 736.1,271.7 735.7,271.4 735.3,270.1 734.9,270.7 734.5,271.0 734.1,271.9 733.7,271.2 733.3,271.6 732.9,271.3 732.5,272.1 732.1,271.5 731.7,272.0 731.3,272.0 730.9,272.4 730.5,273.2 730.1,273.0 729.7,272.1 729.3,271.7 728.9,271.9 728.5,272.2 728.1,270.6 727.7,269.5 727.3,269.8 726.9,270.5 726.5,272.1 726.1,271.1 725.7,271.2 725.3,270.3 724.9,270.8 724.5,270.6 724.1,270.1 723.7,270.5 723.3,271.4 722.9,272.4 722.5,272.6 722.1,272.1 721.7,272.2 721.3,272.3 720.9,271.6 720.5,271.6 720.1,271.2 719.7,271.3 719.3,270.6 718.9,271.5 718.5,271.3 718.1,272.0 717.7,271.7 717.3,272.4 716.9,272.5 716.5,272.1 716.1,272.5 715.7,272.6 715.3,273.1 714.9,272.2 714.5,271.8 714.1,271.9 713.7,272.1 713.3,272.7 712.9,272.7 712.5,271.5 712.1,271.2 711.7,269.9 711.3,270.3 710.9,269.4 710.5,270.6 710.1,271.1 709.7,271.8 709.3,271.0 708.9,270.5 708.5,269.9 708.1,270.6 707.7,271.1 707.3,271.3 706.9,271.1 706.5,270.5 706.1,270.4 705.7,269.7 705.3,269.4 704.9,270.3 704.5,271.0 704.1,271.6 703.7,271.4 703.3,271.9 702.9,272.0 702.5,271.2 702.1,270.4 701.7,270.2 701.3,269.7 700.9,269.4 700.5,270.4 700.1,271.7 699.7,271.7 699.3,271.6 698.9,271.2 698.5,271.8 698.1,273.3 697.7,273.0 697.3,272.1 696.9,271.3 696.5,271.6 696.1,271.6 695.7,272.0 695.3,271.7 694.9,271.6 694.5,270.6 694.1,271.0 693.7,271.3 693.3,270.9 692.9,270.1 692.5,269.9 692.1,269.9 691.7,270.2 691.3,268.8 690.9,267.9 690.5,268.6 690.1,270.1 689.7,272.7 689.3,272.8 688.9,272.7 688.5,271.4 688.1,270.7 687.7,270.8 687.3,270.9 686.9,270.9 686.5,271.5 686.1,271.6 685.7,271.4 685.3,271.7 684.9,271.9 684.5,271.9 684.1,270.6 683.7,270.6 683.3,270.3 682.9,271.3 682.5,271.3 682.1,271.3 681.7,271.2 681.3,271.5 680.9,270.2 680.5,269.4 680.1,268.9 679.7,270.2 679.3,271.2 678.9,271.9 678.5,271.4 678.1,270.5 677.7,269.5 677.3,269.4 676.9,270.8 676.5,270.5 676.1,270.3 675.7,269.1 675.3,269.9 674.9,269.4 674.5,269.4 674.1,268.8 673.7,269.4 673.3,269.1 672.9,269.8 672.5,270.6 672.1,270.6 671.7,269.5 671.3,268.9 670.9,268.8 670.5,269.3 670.1,269.5 669.7,270.3 669.3,270.6 668.9,270.8 668.5,271.7 668.1,271.0 667.7,271.3 667.3,269.8 666.9,270.2 666.5,269.4 666.1,270.4 665.7,270.2 665.3,270.5 664.9,269.2 664.5,269.7 664.1,269.8 663.7,271.1 663.3,270.6 662.9,270.5 662.5,271.0 662.1,270.9 661.7,271.8 661.3,271.0 660.9,271.0 660.5,270.0 660.1,269.4 659.7,269.9 659.3,269.3 658.9,270.7 658.5,270.9 658.1,272.2 657.7,271.2 657.3,270.4 656.9,270.6 656.5,270.1 656.1,270.0 655.7,268.9 655.3,269.4 654.9,269.4 654.5,270.2 654.1,270.7 653.7,270.9 653.3,270.5 652.9,270.3 652.5,270.3 652.1,270.8 651.7,271.4 651.3,272.1 650.9,271.3 650.5,271.1 650.1,270.5 649.7,271.1 649.3,271.4 648.9,271.4 648.5,271.6 648.1,271.9 647.7,273.0 647.3,272.2 646.9,271.2 646.5,270.5 646.1,270.1 645.7,270.2 645.3,270.2 644.9,270.9 644.5,270.7 644.1,269.6 643.7,270.1 643.3,270.0 642.9,270.9 642.5,270.9 642.1,270.9 641.7,270.8 641.3,272.0 640.9,272.2 640.5,272.2 640.1,270.3 639.7,270.0 639.3,270.0 638.9,272.4 638.5,271.8 638.1,273.3 637.7,271.9 637.3,272.7 636.9,272.9 636.5,273.0 636.1,272.2 635.7,271.1 635.3,271.1 634.9,271.4 634.5,271.9 634.1,272.3 633.7,271.9 633.3,271.2 632.9,269.7 632.5,270.4 632.1,271.0 631.7,271.1 631.3,271.3 630.9,271.3 630.5,271.4 630.1,272.3 629.7,271.5 629.3,272.5 628.9,272.3 628.5,273.0 628.1,271.8 627.7,271.8 627.3,270.8 626.9,271.6 626.5,272.3 626.1,272.7 625.7,273.2 625.3,272.9 624.9,272.5 624.5,272.4 624.1,271.8 623.7,272.0 623.3,272.4 622.9,273.6 622.5,273.2 622.1,272.3 621.7,271.6 621.3,272.1 620.9,272.3 620.5,272.6 620.1,272.6 619.7,272.3 619.3,273.3 618.9,272.6 618.5,272.2 618.1,271.7 617.7,272.9 617.3,273.3 616.9,273.5 616.5,272.7 616.1,272.3 615.7,272.0 615.3,271.7 614.9,271.7 614.5,270.7 614.1,271.2 613.7,272.0 613.3,273.0 612.9,273.2 612.5,273.0 612.1,271.7 611.7,271.9 611.3,271.5 610.9,271.8 610.5,271.3 610.1,272.1 609.7,271.8 609.3,271.4 608.9,271.8 608.5,272.4 608.1,273.3 607.7,271.8 607.3,273.4 606.9,273.8 606.5,273.4 606.1,270.8 605.7,272.6 605.3,273.3 604.9,273.7 604.5,271.4 604.1,270.8 603.7,271.3 603.3,272.2 602.9,272.6 602.5,272.9 602.1,273.2 601.7,272.6 601.3,272.8 600.9,272.4 600.5,273.2 600.1,272.6 599.7,272.3 599.3,271.7 598.9,272.3 598.5,272.3 598.1,272.1 597.7,271.6 597.3,270.9 596.9,271.2 596.5,272.3 596.1,273.5 595.7,272.3 595.3,271.5 594.9,270.8 594.5,272.4 594.1,272.7 593.7,272.8 593.3,273.1 592.9,272.5 592.5,272.4 592.1,271.2 591.7,271.4 591.3,272.2 590.9,272.4 590.5,272.4 590.1,272.5 589.7,272.6 589.3,272.5 588.9,272.3 588.5,272.1" fill="#000000"/>
<polyline points="588.5,271.6 588.9,270.7 589.3,271.0 589.7,272.9 590.1,269.8 590.5,270.7 590.9,270.7 591.3,270.1 591.7,270.8 592.1,270.4 592.5,270.9 592.9,270.3 593.3,269.6 593.7,270.8 594.1,271.1 594.5,270.6 594.9,270.4 595.3,269.3 595.7,270.7 596.1,270.5 596.5,270.1 596.9,269.3 597.3,270.9 597.7,270.9 598.1,270.8 598.5,271.7 598.9,269.5 599.3,270.7 599.7,270.7 600.1,271.5 600.5,270.7 600.9,269.9 601.3,270.7 601.7,271.1 602.1,270.6 602.5,270.6 602.9,271.1 603.3,271.7 603.7,271.1 604.1,271.2 604.5,270.5 604.9,270.4 605.3,270.6 605.7,270.9 606.1,271.1 606.5,270.1 606.9,270.6 607.3,271.6 607.7,270.9 608.1,270.5 608.5,270.9 608.9,270.0 609.3,269.5 609.7,270.0 610.1,269.7 610.5,269.5 610.9,270.4 611.3,270.0 611.7,270.2 612.1,270.3 612.5,270.5 612.9,270.1 613.3,271.7 613.7,269.5 614.1,270.2 614.5,270.7 614.9,270.1 615.3,270.0 615.7,270.1 616.1,270.1 616.5,270.0 616.9,271.0 617.3,270.6 617.7,271.3 618.1,270.5 618.5,269.6 618.9,269.7 619.3,270.2 619.7,270.6 620.1,269.5 620.5,270.2 620.9,271.4 621.3,270.6 621.7,270.2 622.1,270.5 622.5,270.6 622.9,270.3 623.3,269.9 623.7,269.7 624.1,270.4 624.5,271.1 624.9,271.0 625.3,269.8 625.7,271.8 626.1,270.3 626.5,269.5 626.9,269.3 627.3,270.2 627.7,270.2 628.1,269.6 628.5,269.5 628.9,270.3 629.3,270.4 629.7,270.7 630.1,270.7 630.5,268.6 630.9,269.2 631.3,269.7 631.7,269.5 632.1,269.8 632.5,268.4 632.9,270.1 633.3,268.9 633.7,269.7 634.1,269.6 634.5,269.5 634.9,269.3 635.3,270.3 635.7,270.5 636.1,270.1 636.5,269.3 636.9,269.6 637.3,269.7 637.7,270.1 638.1,269.5 638.5,269.5 638.9,271.0 639.3,269.3 639.7,269.2 640.1,268.4 640.5,269.4 640.9,270.6 641.3,270.2 641.7,268.9 642.1,270.2 642.5,269.6 642.9,268.7 643.3,269.3 643.7,268.7 644.1,268.9 644.5,269.3 644.9,269.5 645.3,269.2 645.7,269.7 646.1,269.5 646.5,269.7 646.9,269.6 647.3,268.8 647.7,268.3 648.1,269.1 648.5,269.7 648.9,269.2 649.3,269.1 649.7,268.6 650.1,268.3 650.5,268.3 650.9,268.4 651.3,268.7 651.7,268.1 652.1,268.8 652.5,268.0 652.9,269.4 653.3,269.0 653.7,268.0 654.1,268.7 654.5,269.0 654.9,269.2 655.3,269.3 655.7,268.5 656.1,268.5 656.5,268.2 656.9,268.8 657.3,268.1 657.7,268.4 658.1,268.7 658.5,268.6 658.9,268.1 659.3,269.6 659.7,269.1 660.1,268.3 660.5,270.0 660.9,268.2 661.3,268.0 661.7,268.3 662.1,268.9 662.5,269.5 662.9,269.3 663.3,268.6 663.7,268.5 664.1,268.7 664.5,267.7 664.9,267.3 665.3,268.2 665.7,268.0 666.1,268.2 666.5,267.3 666.9,268.3 667.3,267.6 667.7,269.3 668.1,268.5 668.5,268.3 668.9,268.3 669.3,270.0 669.7,270.0 670.1,267.5 670.5,268.7 670.9,266.2 671.3,268.2 671.7,267.4 672.1,267.6 672.5,267.0 672.9,266.9 673.3,267.8 673.7,267.5 674.1,268.0 674.5,268.2 674.9,267.4 675.3,267.6 675.7,266.9 676.1,266.4 676.5,265.4 676.9,265.4 677.3,265.0 677.7,264.5 678.1,264.2 678.5,264.3 678.9,265.0 679.3,267.0 679.7,267.3 680.1,267.5 680.5,267.8 680.9,267.8 681.3,268.5 681.7,269.1 682.1,268.7 682.5,269.2 682.9,269.8 683.3,268.5 683.7,269.0 684.1,269.1 684.5,268.4 684.9,269.0 685.3,268.8 685.7,268.9 686.1,269.7 686.5,268.7 686.9,269.3 687.3,270.4 687.7,269.5 688.1,268.6 688.5,269.0 688.9,269.7 689.3,268.9 689.7,268.5 690.1,269.1 690.5,268.3 690.9,268.0 691.3,269.0 691.7,269.0 692.1,268.7 692.5,269.7 692.9,270.1 693.3,270.2 693.7,269.8 694.1,270.0 694.5,269.9 694.9,268.9 695.3,270.5 695.7,269.3 696.1,269.2 696.5,269.1 696.9,269.1 697.3,270.0 697.7,269.3 698.1,269.3 698.5,268.4 698.9,269.6 699.3,269.5 699.7,268.8 700.1,269.5 700.5,268.4 700.9,269.5 701.3,268.6 701.7,269.6 702.1,269.3 702.5,268.2 702.9,268.8 703.3,269.1 703.7,270.1 704.1,269.7 704.5,269.7 704.9,270.2 705.3,269.1 705.7,268.7 706.1,268.0 706.5,268.5 706.9,269.8 707.3,269.1 707.7,269.1 708.1,270.0 708.5,268.0 708.9,270.1 709.3,270.1 709.7,268.3 710.1,269.4 710.5,269.0 710.9,269.8 711.3,269.4 711.7,269.7 712.1,270.6 712.5,269.2 712.9,270.0 713.3,269.9 713.7,269.4 714.1,269.7 714.5,269.3 714.9,269.2 715.3,267.7 715.7,267.7 716.1,268.1 716.5,268.0 716.9,267.5 717.3,266.3 717.7,266.1 718.1,266.2 718.5,266.2 718.9,267.7 719.3,269.0 719.7,269.1 720.1,268.6 720.5,269.3 720.9,269.5 721.3,269.3 721.7,270.8 722.1,270.1 722.5,270.4 722.9,269.8 723.3,268.9 723.7,270.2 724.1,269.9 724.5,269.0 724.9,268.6 725.3,270.1 725.7,269.3 726.1,269.2 726.5,269.9 726.9,270.3 727.3,269.5 727.7,269.9 728.1,270.4 728.5,270.5 728.9,269.3 729.3,270.4 729.7,271.1 730.1,270.8 730.5,270.0 730.9,270.1 731.3,268.8 731.7,269.3 732.1,269.2 732.5,270.7 732.9,269.4 733.3,268.9 733.7,270.2 734.1,269.7 734.5,267.8 734.9,268.9 735.3,267.9 735.7,269.5 736.1,267.3 736.5,269.8 736.9,268.2 737.3,267.6 737.7,268.6 738.1,266.3 738.5,264.3 738.9,262.4 739.3,258.4 739.7,256.6 740.1,254.2 740.5,253.6 740.9,254.0 741.3,256.2 741.7,257.2 742.1,260.0 742.5,263.9 742.9,266.8 743.3,267.4 743.7,267.9 744.1,269.1 744.5,268.5 744.9,269.3 745.3,268.4 745.7,269.6 746.1,270.2 746.5,271.0 746.9,269.7 747.3,270.2 747.7,270.7 748.1,269.3 748.5,269.7 748.9,268.7 749.3,269.0 749.7,269.9 750.1,268.8 750.5,269.7 750.9,270.5 751.3,270.9 751.7,268.5 752.1,270.2 752.5,269.6 752.9,268.5 753.3,269.2 753.7,270.1 754.1,269.8 754.5,270.4 754.9,269.9 755.3,270.4 755.7,269.4 756.1,269.3 756.5,269.9 756.9,268.9 757.3,270.6 757.7,269.8 758.1,269.2 758.5,269.1 758.9,269.1 759.3,269.5 759.7,269.3 760.1,270.0 760.5,268.8 760.9,269.5 761.3,269.0 761.7,269.6 762.1,271.0 762.5,270.0 762.9,270.6 763.3,270.1 763.7,269.5 764.1,269.5 764.5,269.4 764.9,270.0 765.3,270.0 765.7,271.7 766.1,270.9 766.5,270.4 766.9,269.3 767.3,269.9 767.7,269.4 768.1,271.5 768.5,269.7 768.9,270.8 769.3,269.5 769.7,270.9 770.1,269.9 770.5,270.5 770.9,270.7 771.3,270.4 771.7,270.4 772.1,270.4 772.5,270.0 772.9,270.4 773.3,270.3 773.7,269.9 774.1,271.1 774.5,270.8 774.9,269.9 775.3,271.0 775.7,269.8 776.1,268.8 776.5,270.5 776.9,269.5 777.3,270.4 777.7,269.8 778.1,269.1 778.5,270.3 778.9,270.0 779.3,270.4 779.7,270.0 780.1,271.1 780.5,271.0 780.9,269.8 781.3,269.3 781.7,270.3 782.1,270.0 782.5,269.3 782.9,269.8 783.3,270.7 783.7,269.9 784.1,270.9 784.5,269.7 784.9,269.8 785.3,270.7 785.7,270.2 786.1,270.3 786.5,270.8 786.9,271.2 787.3,269.6 787.7,270.5 788.1,270.5 788.5,270.2 788.9,271.1 789.3,269.8 789.7,269.4 790.1,270.0 790.5,268.7 790.9,270.1 791.3,269.3 791.7,270.1 792.1,269.6 792.5,270.3 792.9,269.8 793.3,269.6 793.7,270.3 794.1,270.7 794.5,269.3 794.9,269.6 795.3,270.1 795.7,270.1 796.1,271.1 796.5,271.0 796.9,270.2 797.3,270.7 797.7,269.7 798.1,269.1 798.5,270.1 798.9,268.8 799.3,271.1 799.7,270.2 800.1,270.7 800.5,269.9 800.9,269.3 801.3,270.4 801.7,270.7 802.1,270.1 802.5,269.9 802.9,270.1 803.3,269.9 803.7,270.7 804.1,268.8 804.5,268.3 804.9,269.6 805.3,269.9 805.7,269.1 806.1,270.0 806.5,270.5 806.9,270.6 807.3,270.7 807.7,270.3 808.1,270.0 808.5,271.4 808.9,270.7 809.3,270.2 809.7,271.8 810.1,271.1 810.5,269.2 810.9,272.2 811.3,270.7 811.7,269.4 812.1,270.6 812.5,270.1 812.9,270.2 813.3,268.5 813.7,266.4 814.1,265.6 814.5,264.0 814.9,263.7 815.3,263.7 815.7,265.6 816.1,266.3 816.5,268.0 816.9,269.0 817.3,269.9 817.7,268.7 818.1,269.7 818.5,271.0 818.9,268.4 819.3,270.2 819.7,269.7 820.1,270.4 820.5,270.2 820.9,270.4 821.3,270.7 821.7,270.9 822.1,270.0 822.5,270.5 822.9,271.7 823.3,271.2 823.7,269.8 824.1,269.7 824.5,270.0 824.9,270.8 825.3,270.7 825.7,269.7 826.1,268.9 826.5,270.3 826.9,269.4 827.3,271.2 827.7,271.3 828.1,270.7 828.5,270.8 828.9,270.6 829.3,271.3 829.7,270.7 830.1,271.2 830.5,269.5 830.9,270.1 831.3,270.2 831.7,268.9 832.1,270.0 832.5,270.2 832.9,270.1 833.3,271.6 833.7,270.0 834.1,270.1 834.5,270.3 834.9,270.3 835.3,269.6 835.7,271.0 836.1,270.4 836.5,270.5 836.9,270.4 837.3,269.8 837.7,269.5 838.1,270.2 838.5,270.6 838.9,270.3 839.3,270.6 839.7,269.7 840.1,269.9 840.5,270.0 840.9,269.9 841.3,270.1 841.7,270.9 842.1,270.1 842.5,270.2 842.9,270.1 843.3,270.7 843.7,270.6 844.1,270.3 844.5,270.1 844.9,270.1 845.3,270.5 845.7,270.7 846.1,270.2 846.5,270.3 846.9,270.4 847.3,271.4 847.7,270.5 848.1,271.2 848.5,269.8 848.9,270.0 849.3,271.1 849.7,270.0 850.1,270.4 850.5,269.6 850.9,269.6 851.3,270.2 851.7,269.3 852.1,269.2 852.5,269.0 852.9,270.0 853.3,270.0 853.7,270.4 854.1,269.9 854.5,270.0 854.9,271.1 855.3,270.2 855.7,270.7 856.1,269.5 856.5,269.7 856.9,269.0 857.3,270.5 857.7,271.2 858.1,271.3 858.5,271.6 858.9,269.6 859.3,269.8 859.7,270.0 860.1,269.7 860.5,269.8 860.9,269.9 861.3,269.3 861.7,270.2 862.1,270.4 862.5,269.9 862.9,270.5 863.3,269.7 863.7,270.0 864.1,270.0 864.5,270.2 864.9,270.3 865.3,269.7 865.7,269.7 866.1,270.1 866.5,271.2 866.9,270.5 867.3,270.3 867.7,272.0 868.1,270.7 868.5,270.6 868.9,270.4 869.3,271.7 869.7,271.0 870.1,270.9 870.5,271.8 870.9,269.9 871.3,269.8 871.7,271.3 872.1,271.0 872.5,270.4 872.9,271.1 873.3,270.4 873.7,271.8 874.1,269.9 874.5,270.7 874.9,270.8 875.3,271.1 875.7,270.4 876.1,270.2 876.5,270.1 876.9,270.6 877.3,270.0 877.7,270.2 878.1,270.7 878.5,270.0 878.9,270.1 879.3,270.1 879.7,270.4 880.1,269.1 880.5,269.7 880.9,270.5 881.3,269.9 881.7,269.9 882.1,270.3 882.5,271.7 882.9,269.8 883.3,269.6 883.7,268.9 884.1,270.5 884.5,270.3 884.9,269.7 885.3,269.8 885.7,270.6 886.1,271.0 886.5,270.8 886.9,271.1 887.3,271.1 887.7,270.2 888.1,271.1 888.5,270.8 888.9,271.0 889.3,270.4 889.7,271.3 890.1,269.2 890.5,270.2 890.9,268.7 891.3,270.2 891.7,268.0 892.1,267.6 892.5,267.5 892.9,267.6 893.3,268.9 893.7,268.7 894.1,269.4 894.5,270.2 894.9,270.6 895.3,269.5 895.7,270.5 896.1,269.6 896.5,270.6 896.9,271.4 897.3,270.2 897.7,270.6 898.1,271.4 898.5,270.9 898.9,270.9 899.3,270.2 899.7,270.3 900.1,270.4 900.5,271.3 900.9,269.7 901.3,270.2 901.7,271.4 902.1,270.5 902.5,269.8 902.9,270.6 903.3,270.6 903.7,270.5 904.1,270.8 904.5,271.0 904.9,269.6 905.3,270.7 905.7,271.2 906.1,269.5 906.5,270.2 906.9,269.6 907.3,270.7 907.7,269.9 908.1,270.1 908.5,270.3 908.9,270.7 909.3,269.8 909.7,270.0 910.1,270.9 910.5,271.7 910.9,270.7 911.3,271.3 911.7,271.1 912.1,270.7 912.5,270.4 912.9,269.9 913.3,269.8 913.7,270.6 914.1,270.2 914.5,270.8 914.9,269.9 915.3,270.5 915.7,270.1 916.1,269.9 916.5,271.2 916.9,270.4 917.3,270.8 917.7,270.0 918.1,270.7 918.5,271.0 918.9,270.8 919.3,271.7 919.7,271.3 920.1,271.1 920.5,270.9 920.9,270.6 921.3,270.2 921.7,270.7 922.1,270.2 922.5,270.9 922.9,270.9 923.3,271.9 923.7,270.9 924.1,272.6 924.5,270.9 924.9,271.2 925.3,271.3 925.7,271.1 926.1,271.2 926.5,270.0 926.9,271.8 927.3,270.6 927.7,271.0 928.1,269.8 928.5,271.1 928.9,270.1 929.3,271.6 929.7,270.0 930.1,270.3 930.5,271.1 930.9,271.5 931.3,269.6 931.7,269.9 932.1,271.9 932.5,271.5 932.9,270.3 933.3,271.0 933.7,271.6 934.1,270.9 934.5,271.9 934.9,270.7 935.3,271.1 935.7,271.5 936.1,271.8 936.5,270.9 936.9,271.0 937.3,270.4 937.7,270.6 938.1,270.2 938.5,270.8 938.9,270.9 939.3,270.1 939.7,270.3 940.1,270.9 940.5,272.0 940.9,271.1 941.3,270.9 941.7,270.7 942.1,269.8 942.5,270.0 942.9,271.7 943.3,269.7 943.7,272.2 944.1,270.7 944.5,272.3 944.9,272.6 945.3,272.3 945.7,270.9 946.1,271.4 946.5,270.6 946.9,270.8 947.3,271.5 947.7,269.6 948.1,271.6 948.5,271.3 948.9,270.7 949.3,271.2 949.7,271.7 950.1,270.8 950.5,271.3 950.9,270.1 951.3,270.7 951.7,269.8 952.1,270.6 952.5,269.6 952.9,270.5 953.3,269.3 953.7,271.1 954.1,271.8 954.5,270.8 954.9,271.5 955.3,270.8 955.7,271.7 956.1,271.9 956.5,272.0 956.9,272.2 957.3,272.2 957.7,271.2 958.1,271.8 958.5,272.1 958.9,271.6 959.3,270.4 959.7,272.3 960.1,272.6 960.5,270.8 960.9,269.0 961.3,271.4 961.7,270.3 962.1,271.8 962.5,269.8 962.9,270.7 963.3,271.1 963.7,270.1 964.1,270.6 964.5,271.1 964.9,271.1 965.3,271.2 965.7,269.5 966.1,269.6 966.5,271.2 966.9,272.3 967.3,270.6" fill="none" stroke="#000000" stroke-width="1.2" stroke-linejoin="round"/>
<line x1="587.50" y1="301" x2="587.50" y2="295" stroke="#000" stroke-width="1.6"/>
<line x1="614.71" y1="301" x2="614.71" y2="297.5" stroke="#000" stroke-width="1.6"/>
<line x1="641.93" y1="301" x2="641.93" y2="295" stroke="#000" stroke-width="1.6"/>
<line x1="669.14" y1="301" x2="669.14" y2="297.5" stroke="#000" stroke-width="1.6"/>
<line x1="696.36" y1="301" x2="696.36" y2="295" stroke="#000" stroke-width="1.6"/>
<line x1="723.57" y1="301" x2="723.57" y2="297.5" stroke="#000" stroke-width="1.6"/>
<line x1="750.79" y1="301" x2="750.79" y2="295" stroke="#000" stroke-width="1.6"/>
<line x1="778.00" y1="301" x2="778.00" y2="297.5" stroke="#000" stroke-width="1.6"/>
<line x1="805.21" y1="301" x2="805.21" y2="295" stroke="#000" stroke-width="1.6"/>
<line x1="832.43" y1="301" x2="832.43" y2="297.5" stroke="#000" stroke-width="1.6"/>
<line x1="859.64" y1="301" x2="859.64" y2="295" stroke="#000" stroke-width="1.6"/>
<line x1="886.86" y1="301" x2="886.86" y2="297.5" stroke="#000" stroke-width="1.6"/>
<line x1="914.07" y1="301" x2="914.07" y2="295" stroke="#000" stroke-width="1.6"/>
<line x1="941.29" y1="301" x2="941.29" y2="297.5" stroke="#000" stroke-width="1.6"/>
<line x1="968.50" y1="301" x2="968.50" y2="295" stroke="#000" stroke-width="1.6"/>
<rect x="587.5" y="21" width="381.0" height="280" fill="none" stroke="#000" stroke-width="2"/><text transform="translate(48.31,305.22) scale(1.0338,0.9659)" font-family="Liberation Sans, sans-serif" font-weight="bold" font-size="14.6">0.0</text>
<text transform="translate(48.13,235.23) scale(1.0338,0.9659)" font-family="Liberation Sans, sans-serif" font-weight="bold" font-size="14.6">0.2</text>
<text transform="translate(47.87,166.45) scale(1.0338,0.9659)" font-family="Liberation Sans, sans-serif" font-weight="bold" font-size="14.6">0.4</text>
<text transform="translate(48.48,95.42) scale(1.0338,0.9659)" font-family="Liberation Sans, sans-serif" font-weight="bold" font-size="14.6">0.6</text>
<text transform="translate(48.22,23.03) scale(1.0338,0.9659)" font-family="Liberation Sans, sans-serif" font-weight="bold" font-size="14.6">0.8</text>
<text transform="translate(472.49,305.57) scale(1.0065,1.0293)" font-family="Liberation Sans, sans-serif" font-weight="bold" font-size="14.6">140</text>
<text transform="translate(472.49,248.88) scale(1.0065,1.0293)" font-family="Liberation Sans, sans-serif" font-weight="bold" font-size="14.6">160</text>
<text transform="translate(472.05,193.67) scale(1.0065,1.0293)" font-family="Liberation Sans, sans-serif" font-weight="bold" font-size="14.6">180</text>
<text transform="translate(472.55,136.35) scale(1.0065,1.0293)" font-family="Liberation Sans, sans-serif" font-weight="bold" font-size="14.6">200</text>
<text transform="translate(472.39,81.15) scale(1.0065,1.0293)" font-family="Liberation Sans, sans-serif" font-weight="bold" font-size="14.6">220</text>
<text transform="translate(471.97,23.68) scale(1.0065,1.0293)" font-family="Liberation Sans, sans-serif" font-weight="bold" font-size="14.6">240</text>
<text transform="translate(90.70,323.00) scale(1.0472,1.0000)" font-family="Liberation Sans, sans-serif" font-weight="bold" font-size="14.3">Bare FTO</text>
<text transform="translate(187.35,323.00) scale(1.0472,1.0000)" font-family="Liberation Sans, sans-serif" font-weight="bold" font-size="14.3">60M-FTO</text>
<text transform="translate(283.54,323.00) scale(1.0472,1.0000)" font-family="Liberation Sans, sans-serif" font-weight="bold" font-size="14.3">40M-FTO</text>
<text transform="translate(378.81,323.00) scale(1.0472,1.0000)" font-family="Liberation Sans, sans-serif" font-weight="bold" font-size="14.3">24M-FTO</text>
<text transform="translate(109.07,252.78) scale(0.9413,1.0293)" font-family="Liberation Sans, sans-serif" font-weight="bold" font-size="14.8">0.115</text>
<text transform="translate(204.34,219.97) scale(0.9413,1.0293)" font-family="Liberation Sans, sans-serif" font-weight="bold" font-size="14.8">0.205</text>
<text transform="translate(299.82,157.32) scale(0.9413,1.0293)" font-family="Liberation Sans, sans-serif" font-weight="bold" font-size="14.8">0.382</text>
<text transform="translate(397.10,189.78) scale(0.9413,1.0293)" font-family="Liberation Sans, sans-serif" font-weight="bold" font-size="14.8">0.291</text>
<text transform="translate(113.60,151.38) scale(0.9413,1.0293)" font-family="Liberation Sans, sans-serif" font-weight="bold" font-size="14.8">187.2</text>
<text transform="translate(207.04,121.08) scale(0.9413,1.0293)" font-family="Liberation Sans, sans-serif" font-weight="bold" font-size="14.8">198.5</text>
<text transform="translate(304.41,60.47) scale(0.9413,1.0293)" font-family="Liberation Sans, sans-serif" font-weight="bold" font-size="14.8">221.7</text>
<text transform="translate(399.13,83.47) scale(0.9413,1.0293)" font-family="Liberation Sans, sans-serif" font-weight="bold" font-size="14.8">212.6</text>
<text transform="translate(84.36,56.52) scale(1.0474,1.0190)" font-family="Liberation Sans, sans-serif" font-weight="bold" font-size="34">(a)</text>
<text transform="translate(28.55,302.13) scale(1.0000,1.0096) rotate(-90)" font-family="Liberation Sans, sans-serif" font-weight="bold" font-size="24.5">Mean. depth/height (um)</text>
<text transform="translate(528.59,292.71) scale(1.0816,1.0374) rotate(-90)" font-family="Liberation Sans, sans-serif" font-weight="bold" font-size="23.5">Surface area (10<tspan dy="-10" font-size="14">3</tspan><tspan dy="10"> um</tspan><tspan dy="-10" font-size="14">2</tspan><tspan dy="10">)</tspan></text>
<text transform="translate(577.27,321.48) scale(1.0149,0.9843)" font-family="Liberation Sans, sans-serif" font-weight="bold" font-size="17.8">10</text>
<text transform="translate(632.01,321.45) scale(1.0149,0.9843)" font-family="Liberation Sans, sans-serif" font-weight="bold" font-size="17.8">20</text>
<text transform="translate(686.33,321.47) scale(1.0149,0.9843)" font-family="Liberation Sans, sans-serif" font-weight="bold" font-size="17.8">30</text>
<text transform="translate(741.02,321.48) scale(1.0149,0.9843)" font-family="Liberation Sans, sans-serif" font-weight="bold" font-size="17.8">40</text>
<text transform="translate(795.21,321.51) scale(1.0149,0.9843)" font-family="Liberation Sans, sans-serif" font-weight="bold" font-size="17.8">50</text>
<text transform="translate(849.66,321.47) scale(1.0149,0.9843)" font-family="Liberation Sans, sans-serif" font-weight="bold" font-size="17.8">60</text>
<text transform="translate(904.10,321.48) scale(1.0149,0.9843)" font-family="Liberation Sans, sans-serif" font-weight="bold" font-size="17.8">70</text>
<text transform="translate(958.53,321.48) scale(1.0149,0.9843)" font-family="Liberation Sans, sans-serif" font-weight="bold" font-size="17.8">80</text>
<text transform="translate(681.14,56.22) scale(0.9171,1.1041) rotate(-90)" font-family="Liberation Sans, sans-serif" font-weight="bold" font-size="11">(110)</text>
<text transform="translate(721.14,84.15) scale(0.9171,1.1041) rotate(-90)" font-family="Liberation Sans, sans-serif" font-weight="bold" font-size="11">(101)</text>
<text transform="translate(743.34,69.40) scale(0.9171,1.1041) rotate(-90)" font-family="Liberation Sans, sans-serif" font-weight="bold" font-size="11">(200)</text>
<text transform="translate(818.54,68.29) scale(0.9171,1.1041) rotate(-90)" font-family="Liberation Sans, sans-serif" font-weight="bold" font-size="11">(211)</text>
<text transform="translate(886.48,94.38) scale(1.0164,0.9609)" font-family="Liberation Sans, sans-serif" font-weight="bold" font-size="16">24M-FTO</text>
<text transform="translate(885.49,150.48) scale(1.0164,0.9609)" font-family="Liberation Sans, sans-serif" font-weight="bold" font-size="16">40M-FTO</text>
<text transform="translate(885.68,212.38) scale(1.0164,0.9609)" font-family="Liberation Sans, sans-serif" font-weight="bold" font-size="16">60M-FTO</text>
<text transform="translate(883.89,262.48) scale(1.0164,0.9609)" font-family="Liberation Sans, sans-serif" font-weight="bold" font-size="16">Bare FTO</text>
<text transform="translate(593.42,55.48) scale(1.0100,1.0381)" font-family="Liberation Sans, sans-serif" font-weight="bold" font-size="34">(b)</text>
<text transform="translate(577.92,240.05) scale(1.0483,1.0319) rotate(-90)" font-family="Liberation Sans, sans-serif" font-weight="bold" font-size="23.5">Intensity (a.u.)</text>
<text transform="translate(715.44,345.15) scale(1.0363,0.9333)" font-family="Liberation Sans, sans-serif" font-weight="bold" font-size="23.5">2<tspan font-family="Liberation Serif, serif" font-weight="normal" font-size="26">&#952;</tspan> (degree)</text></svg>
</body></html>
